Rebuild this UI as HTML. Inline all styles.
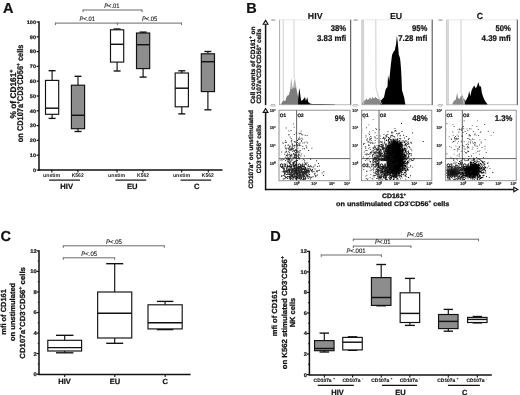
<!DOCTYPE html>
<html><head><meta charset="utf-8"><style>
svg{filter:grayscale(1)}
html,body{margin:0;padding:0;background:#fff;width:520px;height:395px;overflow:hidden;position:relative}
svg text{font-family:"Liberation Sans", sans-serif;text-rendering:geometricPrecision}
</style></head><body>
<svg width="520" height="395" viewBox="0 0 520 395" style="position:absolute;left:0;top:0">
<g font-family='"Liberation Sans", sans-serif'>
<text x="3" y="12.7" font-size="14.5" text-anchor="start" font-weight="bold" fill="#111" stroke="#111" stroke-width="0.22">A</text>
<line x1="39" y1="21.3" x2="39" y2="170.7" stroke="#111" stroke-width="1.5"/>
<line x1="38.3" y1="169.9" x2="222.5" y2="169.9" stroke="#111" stroke-width="1.5"/>
<line x1="36.6" y1="170.0" x2="39" y2="170.0" stroke="#111" stroke-width="1.2"/>
<text x="36" y="171.7" font-size="5.0" text-anchor="end" font-weight="bold" fill="#1a1a1a" stroke="#1a1a1a" stroke-width="0.22" textLength="3.1" lengthAdjust="spacingAndGlyphs">0</text>
<line x1="36.6" y1="155.2" x2="39" y2="155.2" stroke="#111" stroke-width="1.2"/>
<text x="36" y="156.89999999999998" font-size="5.0" text-anchor="end" font-weight="bold" fill="#1a1a1a" stroke="#1a1a1a" stroke-width="0.22" textLength="6.2" lengthAdjust="spacingAndGlyphs">10</text>
<line x1="36.6" y1="140.4" x2="39" y2="140.4" stroke="#111" stroke-width="1.2"/>
<text x="36" y="142.1" font-size="5.0" text-anchor="end" font-weight="bold" fill="#1a1a1a" stroke="#1a1a1a" stroke-width="0.22" textLength="6.2" lengthAdjust="spacingAndGlyphs">20</text>
<line x1="36.6" y1="125.6" x2="39" y2="125.6" stroke="#111" stroke-width="1.2"/>
<text x="36" y="127.3" font-size="5.0" text-anchor="end" font-weight="bold" fill="#1a1a1a" stroke="#1a1a1a" stroke-width="0.22" textLength="6.2" lengthAdjust="spacingAndGlyphs">30</text>
<line x1="36.6" y1="110.8" x2="39" y2="110.8" stroke="#111" stroke-width="1.2"/>
<text x="36" y="112.5" font-size="5.0" text-anchor="end" font-weight="bold" fill="#1a1a1a" stroke="#1a1a1a" stroke-width="0.22" textLength="6.2" lengthAdjust="spacingAndGlyphs">40</text>
<line x1="36.6" y1="96.0" x2="39" y2="96.0" stroke="#111" stroke-width="1.2"/>
<text x="36" y="97.7" font-size="5.0" text-anchor="end" font-weight="bold" fill="#1a1a1a" stroke="#1a1a1a" stroke-width="0.22" textLength="6.2" lengthAdjust="spacingAndGlyphs">50</text>
<line x1="36.6" y1="81.2" x2="39" y2="81.2" stroke="#111" stroke-width="1.2"/>
<text x="36" y="82.9" font-size="5.0" text-anchor="end" font-weight="bold" fill="#1a1a1a" stroke="#1a1a1a" stroke-width="0.22" textLength="6.2" lengthAdjust="spacingAndGlyphs">60</text>
<line x1="36.6" y1="66.4" x2="39" y2="66.4" stroke="#111" stroke-width="1.2"/>
<text x="36" y="68.10000000000001" font-size="5.0" text-anchor="end" font-weight="bold" fill="#1a1a1a" stroke="#1a1a1a" stroke-width="0.22" textLength="6.2" lengthAdjust="spacingAndGlyphs">70</text>
<line x1="36.6" y1="51.599999999999994" x2="39" y2="51.599999999999994" stroke="#111" stroke-width="1.2"/>
<text x="36" y="53.3" font-size="5.0" text-anchor="end" font-weight="bold" fill="#1a1a1a" stroke="#1a1a1a" stroke-width="0.22" textLength="6.2" lengthAdjust="spacingAndGlyphs">80</text>
<line x1="36.6" y1="36.80000000000001" x2="39" y2="36.80000000000001" stroke="#111" stroke-width="1.2"/>
<text x="36" y="38.500000000000014" font-size="5.0" text-anchor="end" font-weight="bold" fill="#1a1a1a" stroke="#1a1a1a" stroke-width="0.22" textLength="6.2" lengthAdjust="spacingAndGlyphs">90</text>
<line x1="36.6" y1="22.0" x2="39" y2="22.0" stroke="#111" stroke-width="1.2"/>
<text x="36" y="23.7" font-size="5.0" text-anchor="end" font-weight="bold" fill="#1a1a1a" stroke="#1a1a1a" stroke-width="0.22" textLength="9.2" lengthAdjust="spacingAndGlyphs">100</text>
<line x1="51.8" y1="169.9" x2="51.8" y2="172.4" stroke="#111" stroke-width="1.1"/>
<line x1="77.9" y1="169.9" x2="77.9" y2="172.4" stroke="#111" stroke-width="1.1"/>
<line x1="117" y1="169.9" x2="117" y2="172.4" stroke="#111" stroke-width="1.1"/>
<line x1="143" y1="169.9" x2="143" y2="172.4" stroke="#111" stroke-width="1.1"/>
<line x1="181.7" y1="169.9" x2="181.7" y2="172.4" stroke="#111" stroke-width="1.1"/>
<line x1="208.3" y1="169.9" x2="208.3" y2="172.4" stroke="#111" stroke-width="1.1"/>
<line x1="52.1" y1="70.7" x2="52.1" y2="80.4" stroke="#111" stroke-width="1.15"/>
<line x1="52.1" y1="114.3" x2="52.1" y2="118.4" stroke="#111" stroke-width="1.15"/>
<line x1="48.6" y1="70.7" x2="55.6" y2="70.7" stroke="#111" stroke-width="1.3499999999999999"/>
<line x1="48.6" y1="118.4" x2="55.6" y2="118.4" stroke="#111" stroke-width="1.3499999999999999"/>
<rect x="45.5" y="80.4" width="13.2" height="33.89999999999999" fill="#fff" stroke="#111" stroke-width="1.15"/>
<line x1="45.5" y1="108.2" x2="58.7" y2="108.2" stroke="#111" stroke-width="1.45"/>
<line x1="78" y1="76.3" x2="78" y2="85.2" stroke="#111" stroke-width="1.15"/>
<line x1="78" y1="128.7" x2="78" y2="131.5" stroke="#111" stroke-width="1.15"/>
<line x1="74.5" y1="76.3" x2="81.5" y2="76.3" stroke="#111" stroke-width="1.3499999999999999"/>
<line x1="74.5" y1="131.5" x2="81.5" y2="131.5" stroke="#111" stroke-width="1.3499999999999999"/>
<rect x="71.4" y="85.2" width="13.2" height="43.499999999999986" fill="#8d8d8d" stroke="#111" stroke-width="1.15"/>
<line x1="71.4" y1="115.3" x2="84.60000000000001" y2="115.3" stroke="#111" stroke-width="1.45"/>
<line x1="117.1" y1="29.0" x2="117.1" y2="29.8" stroke="#111" stroke-width="1.15"/>
<line x1="117.1" y1="62.1" x2="117.1" y2="71" stroke="#111" stroke-width="1.15"/>
<line x1="113.6" y1="29.0" x2="120.6" y2="29.0" stroke="#111" stroke-width="1.3499999999999999"/>
<line x1="113.6" y1="71" x2="120.6" y2="71" stroke="#111" stroke-width="1.3499999999999999"/>
<rect x="110.5" y="29.8" width="13.2" height="32.3" fill="#fff" stroke="#111" stroke-width="1.15"/>
<line x1="110.5" y1="44.3" x2="123.7" y2="44.3" stroke="#111" stroke-width="1.45"/>
<line x1="143.1" y1="32.1" x2="143.1" y2="33.0" stroke="#111" stroke-width="1.15"/>
<line x1="143.1" y1="68.6" x2="143.1" y2="77.1" stroke="#111" stroke-width="1.15"/>
<line x1="139.6" y1="32.1" x2="146.6" y2="32.1" stroke="#111" stroke-width="1.3499999999999999"/>
<line x1="139.6" y1="77.1" x2="146.6" y2="77.1" stroke="#111" stroke-width="1.3499999999999999"/>
<rect x="136.5" y="33.0" width="13.2" height="35.599999999999994" fill="#8d8d8d" stroke="#111" stroke-width="1.15"/>
<line x1="136.5" y1="44.7" x2="149.7" y2="44.7" stroke="#111" stroke-width="1.45"/>
<line x1="181.8" y1="70.8" x2="181.8" y2="73" stroke="#111" stroke-width="1.15"/>
<line x1="181.8" y1="106.8" x2="181.8" y2="113.9" stroke="#111" stroke-width="1.15"/>
<line x1="178.3" y1="70.8" x2="185.3" y2="70.8" stroke="#111" stroke-width="1.3499999999999999"/>
<line x1="178.3" y1="113.9" x2="185.3" y2="113.9" stroke="#111" stroke-width="1.3499999999999999"/>
<rect x="175.20000000000002" y="73" width="13.2" height="33.8" fill="#fff" stroke="#111" stroke-width="1.15"/>
<line x1="175.20000000000002" y1="88.2" x2="188.4" y2="88.2" stroke="#111" stroke-width="1.45"/>
<line x1="207.9" y1="51.5" x2="207.9" y2="53.8" stroke="#111" stroke-width="1.15"/>
<line x1="207.9" y1="91.6" x2="207.9" y2="109.8" stroke="#111" stroke-width="1.15"/>
<line x1="204.4" y1="51.5" x2="211.4" y2="51.5" stroke="#111" stroke-width="1.3499999999999999"/>
<line x1="204.4" y1="109.8" x2="211.4" y2="109.8" stroke="#111" stroke-width="1.3499999999999999"/>
<rect x="201.3" y="53.8" width="13.2" height="37.8" fill="#8d8d8d" stroke="#111" stroke-width="1.15"/>
<line x1="201.3" y1="61.7" x2="214.5" y2="61.7" stroke="#111" stroke-width="1.45"/>
<text x="51.6" y="177.2" font-size="5.3" text-anchor="middle" font-weight="bold" fill="#1a1a1a" textLength="17.2" lengthAdjust="spacingAndGlyphs">unstim</text>
<text x="77.7" y="177.2" font-size="5.3" text-anchor="middle" font-weight="bold" fill="#1a1a1a" textLength="12" lengthAdjust="spacingAndGlyphs">K562</text>
<text x="116.6" y="177.2" font-size="5.3" text-anchor="middle" font-weight="bold" fill="#1a1a1a" textLength="17.2" lengthAdjust="spacingAndGlyphs">unstim</text>
<text x="143.1" y="177.2" font-size="5.3" text-anchor="middle" font-weight="bold" fill="#1a1a1a" textLength="12" lengthAdjust="spacingAndGlyphs">K562</text>
<text x="181.5" y="177.2" font-size="5.3" text-anchor="middle" font-weight="bold" fill="#1a1a1a" textLength="17.2" lengthAdjust="spacingAndGlyphs">unstim</text>
<text x="207.8" y="177.2" font-size="5.3" text-anchor="middle" font-weight="bold" fill="#1a1a1a" textLength="12" lengthAdjust="spacingAndGlyphs">K562</text>
<line x1="49.1" y1="180.1" x2="80" y2="180.1" stroke="#111" stroke-width="1.2"/>
<text x="66.7" y="188.9" font-size="7.6" text-anchor="middle" font-weight="bold" fill="#111" stroke="#111" stroke-width="0.22">HIV</text>
<line x1="115.4" y1="180.1" x2="146.2" y2="180.1" stroke="#111" stroke-width="1.2"/>
<text x="132.3" y="188.9" font-size="7.6" text-anchor="middle" font-weight="bold" fill="#111" stroke="#111" stroke-width="0.22">EU</text>
<line x1="180.5" y1="180.1" x2="211.2" y2="180.1" stroke="#111" stroke-width="1.2"/>
<text x="196.8" y="188.9" font-size="7.6" text-anchor="middle" font-weight="bold" fill="#111" stroke="#111" stroke-width="0.22">C</text>
<line x1="83" y1="10" x2="142" y2="10" stroke="#6a6a6a" stroke-width="1.0"/>
<line x1="83" y1="9.5" x2="83" y2="12" stroke="#6a6a6a" stroke-width="1.0"/>
<line x1="142" y1="9.5" x2="142" y2="12" stroke="#6a6a6a" stroke-width="1.0"/>
<text x="111.9" y="7.8" font-size="6.4" text-anchor="middle" fill="#1a1a1a" stroke="#1a1a1a" stroke-width="0.12" textLength="15.4" lengthAdjust="spacingAndGlyphs"><tspan font-style="italic">P</tspan>&lt;.01</text>
<line x1="55.4" y1="23.1" x2="181.5" y2="23.1" stroke="#6a6a6a" stroke-width="1.0"/>
<line x1="55.4" y1="22.6" x2="55.4" y2="25.1" stroke="#6a6a6a" stroke-width="1.0"/>
<line x1="117.3" y1="22.6" x2="117.3" y2="25.1" stroke="#6a6a6a" stroke-width="1.0"/>
<line x1="181.5" y1="22.6" x2="181.5" y2="25.1" stroke="#6a6a6a" stroke-width="1.0"/>
<text x="87.3" y="20.9" font-size="6.4" text-anchor="middle" fill="#1a1a1a" stroke="#1a1a1a" stroke-width="0.12" textLength="15.4" lengthAdjust="spacingAndGlyphs"><tspan font-style="italic">P</tspan>&lt;.01</text>
<text x="149.6" y="20.9" font-size="6.4" text-anchor="middle" fill="#1a1a1a" stroke="#1a1a1a" stroke-width="0.12" textLength="15.4" lengthAdjust="spacingAndGlyphs"><tspan font-style="italic">P</tspan>&lt;.05</text>
<text transform="translate(16.3,94) rotate(-90)" x="0" y="0" font-size="8.3" font-weight="bold" text-anchor="middle" fill="#111" stroke="#111" stroke-width="0.25" textLength="48.9" lengthAdjust="spacingAndGlyphs">% of CD161<tspan dy="-3" font-size="5.4">+</tspan><tspan dy="3"></tspan></text>
<text transform="translate(22.9,93.4) rotate(-90)" x="0" y="0" font-size="8.3" font-weight="bold" text-anchor="middle" fill="#111" stroke="#111" stroke-width="0.25" textLength="97.6" lengthAdjust="spacingAndGlyphs">on CD107a<tspan dy="-3" font-size="5.4">+</tspan><tspan dy="3">CD3</tspan><tspan dy="-3" font-size="5.4">-</tspan><tspan dy="3">CD56</tspan><tspan dy="-3" font-size="5.4">+</tspan><tspan dy="3"> cells</tspan></text>
<text x="246.3" y="12.7" font-size="14.5" text-anchor="start" font-weight="bold" fill="#111" stroke="#111" stroke-width="0.22">B</text>
<line x1="265.6" y1="24.2" x2="265.6" y2="105.2" stroke="#111" stroke-width="1.5"/>
<path d="M265.6 20.4 L268.0 24.299999999999997 L263.20000000000005 24.299999999999997 Z" fill="#fff" stroke="#111" stroke-width="1.1"/>
<line x1="265.6" y1="112.3" x2="265.6" y2="190.2" stroke="#111" stroke-width="1.5"/>
<path d="M265.6 108.5 L268.0 112.39999999999999 L263.20000000000005 112.39999999999999 Z" fill="#fff" stroke="#111" stroke-width="1.1"/>
<line x1="264.9" y1="189.5" x2="513.8" y2="189.5" stroke="#111" stroke-width="1.5"/>
<path d="M517.8 189.5 L513.8 187.2 L513.8 191.8 Z" fill="#fff" stroke="#111" stroke-width="1.1"/>
<line x1="279.6" y1="19.8" x2="350.7" y2="19.8" stroke="#e2e2e2" stroke-width="0.8"/>
<line x1="279.6" y1="19.7" x2="279.6" y2="105.2" stroke="#a0a0a0" stroke-width="0.9"/>
<line x1="350.7" y1="19.7" x2="350.7" y2="105.2" stroke="#444" stroke-width="1.0"/>
<line x1="279.6" y1="104.7" x2="350.7" y2="104.7" stroke="#aaa" stroke-width="0.8"/>
<ellipse cx="273.20000000000005" cy="20.1" rx="2.6" ry="0.8" fill="#aaa"/>
<ellipse cx="273.0" cy="105.3" rx="2.6" ry="0.9" fill="none" stroke="#888" stroke-width="0.6"/>
<line x1="362" y1="19.8" x2="432.2" y2="19.8" stroke="#e2e2e2" stroke-width="0.8"/>
<line x1="362" y1="19.7" x2="362" y2="105.2" stroke="#a0a0a0" stroke-width="0.9"/>
<line x1="432.2" y1="19.7" x2="432.2" y2="105.2" stroke="#444" stroke-width="1.0"/>
<line x1="362" y1="104.7" x2="432.2" y2="104.7" stroke="#aaa" stroke-width="0.8"/>
<ellipse cx="355.6" cy="20.1" rx="2.6" ry="0.8" fill="#aaa"/>
<ellipse cx="355.4" cy="105.3" rx="2.6" ry="0.9" fill="none" stroke="#888" stroke-width="0.6"/>
<line x1="446.9" y1="19.8" x2="517.3" y2="19.8" stroke="#e2e2e2" stroke-width="0.8"/>
<line x1="446.9" y1="19.7" x2="446.9" y2="105.2" stroke="#a0a0a0" stroke-width="0.9"/>
<line x1="517.3" y1="19.7" x2="517.3" y2="105.2" stroke="#444" stroke-width="1.0"/>
<line x1="446.9" y1="104.7" x2="517.3" y2="104.7" stroke="#aaa" stroke-width="0.8"/>
<ellipse cx="440.5" cy="20.1" rx="2.6" ry="0.8" fill="#aaa"/>
<ellipse cx="440.29999999999995" cy="105.3" rx="2.6" ry="0.9" fill="none" stroke="#888" stroke-width="0.6"/>
<text x="315.2" y="18.5" font-size="8.8" text-anchor="middle" font-weight="bold" fill="#111" stroke="#111" stroke-width="0.12">HIV</text>
<text x="396.1" y="18.5" font-size="8.8" text-anchor="middle" font-weight="bold" fill="#111" stroke="#111" stroke-width="0.12">EU</text>
<text x="480" y="18.5" font-size="8.8" text-anchor="middle" font-weight="bold" fill="#111" stroke="#111" stroke-width="0.12">C</text>
<text x="346.2" y="31.4" font-size="8.3" text-anchor="end" font-weight="bold" fill="#111" stroke="#111" stroke-width="0.22" textLength="15.4" lengthAdjust="spacingAndGlyphs">38%</text>
<text x="346.2" y="41" font-size="8.3" text-anchor="end" font-weight="bold" fill="#111" stroke="#111" stroke-width="0.22" textLength="29.2" lengthAdjust="spacingAndGlyphs">3.83 mfi</text>
<text x="427.4" y="31.4" font-size="8.3" text-anchor="end" font-weight="bold" fill="#111" stroke="#111" stroke-width="0.22" textLength="15.4" lengthAdjust="spacingAndGlyphs">95%</text>
<text x="427.4" y="41" font-size="8.3" text-anchor="end" font-weight="bold" fill="#111" stroke="#111" stroke-width="0.22" textLength="29.2" lengthAdjust="spacingAndGlyphs">7.28 mfi</text>
<text x="510.8" y="31.4" font-size="8.3" text-anchor="end" font-weight="bold" fill="#111" stroke="#111" stroke-width="0.22" textLength="15.4" lengthAdjust="spacingAndGlyphs">50%</text>
<text x="510.8" y="41" font-size="8.3" text-anchor="end" font-weight="bold" fill="#111" stroke="#111" stroke-width="0.22" textLength="29.2" lengthAdjust="spacingAndGlyphs">4.39 mfi</text>
<path d="M289.5 104.4 L289.5 95 L290.5 85 L291.3 77.5 L292.2 86 L293 88 L294 82 L294.9 77.5 L295.8 84 L296.8 90 L297.5 95 L297.5 104.4 Z" fill="#b0b0b0"/>
<path d="M281.3 104.4 L281.3 103.5 L282.5 101.5 L283.5 100.3 L284.5 101 L285.5 100.5 L286.5 97 L287.5 95.5 L289 95 L290 91 L291 88.5 L292 90 L293 88 L294.5 88.5 L295.5 87 L296.5 90 L297.5 95 L298.4 97 L298.4 104.4 Z" fill="#7c7c7c"/>
<path d="M298.1 104.4 L298.1 100 L298.7 93 L299.4 88 L300.2 94 L300.8 99 L301.5 101 L302.7 100 L304 98.5 L305 96.9 L305.9 101 L307.3 97.3 L308.2 101.9 L310 103.6 L312 104 L320 104.1 L335 104.2 L335 104.4 Z" fill="#000"/>
<path d="M283.2 19.9 L283.3 100" fill="none" stroke="#c8c8c8" stroke-width="0.9"/>
<path d="M294 19.9 L294.1 78" fill="none" stroke="#cdcdcd" stroke-width="0.9"/>
<path d="M362.3 104.4 L362.3 103 L363.5 101 L365 100.5 L366.5 98.5 L367.5 100 L369 99 L370 97 L371 99.5 L372.5 97 L374 98.8 L375.5 96.8 L377 98.5 L378.5 99 L380 99.5 L381 100 L381 104.4 Z" fill="#888"/>
<path d="M380.5 104.4 L380.5 101 L381.5 100 L384 97.3 L385.7 89.2 L387.5 86.8 L388 75.2 L389.2 81 L390.3 70 L390.8 64.9 L392 55.2 L393.1 52.4 L394.8 50 L396 44.4 L396.9 35.8 L397.7 42.1 L398.8 54.6 L400 58 L400.5 62.6 L401.1 70 L401.5 78 L402 90.3 L403.8 96.2 L404.4 98.5 L405 103.1 L405.5 104.2 L405.5 104.4 Z" fill="#000"/>
<path d="M363.6 19.9 L363.7 104" fill="none" stroke="#c8c8c8" stroke-width="0.9"/>
<path d="M375.8 19.9 L376 88 L378.5 97 L381.5 104" fill="none" stroke="#cacaca" stroke-width="0.9"/>
<path d="M452.6 104.4 L452.6 103.3 L454 100.7 L455.7 99.8 L456.5 96 L457.1 92.7 L458 98 L459.7 98.9 L460.6 96.5 L461.5 95.4 L462.8 95.6 L463.7 99 L464.6 98.9 L465.2 100 L465.2 104.4 Z" fill="#888"/>
<path d="M465 104.4 L465 101.5 L466.4 99.6 L468.1 96.2 L469.2 90.9 L470.3 96.2 L471.7 90 L473 87.4 L474.3 85.6 L475.6 88.3 L477 86.5 L478.3 82.1 L479.6 86.5 L481 86.5 L481.8 92.7 L483.2 97.1 L484.9 100.7 L486.7 103.3 L487.6 104.2 L487.6 104.4 Z" fill="#000"/>
<path d="M448.3 19.9 L448.4 104" fill="none" stroke="#c8c8c8" stroke-width="0.9"/>
<path d="M461 19.9 L461.1 92.8 L462.5 98 L464 104" fill="none" stroke="#c8c8c8" stroke-width="0.9"/>
<defs><filter id="bl" x="-50%" y="-50%" width="200%" height="200%"><feGaussianBlur stdDeviation="1.6"/></filter></defs>
<rect x="279" y="110.2" width="71" height="70.49999999999999" fill="none" stroke="#888" stroke-width="0.9"/>
<line x1="279" y1="175.4" x2="280.2" y2="175.4" stroke="#bbb" stroke-width="0.5"/>
<line x1="279" y1="172.3" x2="280.2" y2="172.3" stroke="#bbb" stroke-width="0.5"/>
<line x1="279" y1="170.1" x2="280.2" y2="170.1" stroke="#bbb" stroke-width="0.5"/>
<line x1="279" y1="168.4" x2="280.2" y2="168.4" stroke="#bbb" stroke-width="0.5"/>
<line x1="279" y1="167.0" x2="280.2" y2="167.0" stroke="#bbb" stroke-width="0.5"/>
<line x1="279" y1="165.8" x2="280.2" y2="165.8" stroke="#bbb" stroke-width="0.5"/>
<line x1="279" y1="164.8" x2="280.2" y2="164.8" stroke="#bbb" stroke-width="0.5"/>
<line x1="279" y1="163.9" x2="280.2" y2="163.9" stroke="#bbb" stroke-width="0.5"/>
<line x1="279" y1="157.8" x2="280.2" y2="157.8" stroke="#bbb" stroke-width="0.5"/>
<line x1="279" y1="154.7" x2="280.2" y2="154.7" stroke="#bbb" stroke-width="0.5"/>
<line x1="279" y1="152.5" x2="280.2" y2="152.5" stroke="#bbb" stroke-width="0.5"/>
<line x1="279" y1="150.8" x2="280.2" y2="150.8" stroke="#bbb" stroke-width="0.5"/>
<line x1="279" y1="149.4" x2="280.2" y2="149.4" stroke="#bbb" stroke-width="0.5"/>
<line x1="279" y1="148.2" x2="280.2" y2="148.2" stroke="#bbb" stroke-width="0.5"/>
<line x1="279" y1="147.2" x2="280.2" y2="147.2" stroke="#bbb" stroke-width="0.5"/>
<line x1="279" y1="146.3" x2="280.2" y2="146.3" stroke="#bbb" stroke-width="0.5"/>
<line x1="279" y1="140.2" x2="280.2" y2="140.2" stroke="#bbb" stroke-width="0.5"/>
<line x1="279" y1="137.1" x2="280.2" y2="137.1" stroke="#bbb" stroke-width="0.5"/>
<line x1="279" y1="134.9" x2="280.2" y2="134.9" stroke="#bbb" stroke-width="0.5"/>
<line x1="279" y1="133.2" x2="280.2" y2="133.2" stroke="#bbb" stroke-width="0.5"/>
<line x1="279" y1="131.8" x2="280.2" y2="131.8" stroke="#bbb" stroke-width="0.5"/>
<line x1="279" y1="130.6" x2="280.2" y2="130.6" stroke="#bbb" stroke-width="0.5"/>
<line x1="279" y1="129.6" x2="280.2" y2="129.6" stroke="#bbb" stroke-width="0.5"/>
<line x1="279" y1="128.7" x2="280.2" y2="128.7" stroke="#bbb" stroke-width="0.5"/>
<line x1="279" y1="122.6" x2="280.2" y2="122.6" stroke="#bbb" stroke-width="0.5"/>
<line x1="279" y1="119.5" x2="280.2" y2="119.5" stroke="#bbb" stroke-width="0.5"/>
<line x1="279" y1="117.3" x2="280.2" y2="117.3" stroke="#bbb" stroke-width="0.5"/>
<line x1="279" y1="115.6" x2="280.2" y2="115.6" stroke="#bbb" stroke-width="0.5"/>
<line x1="279" y1="114.2" x2="280.2" y2="114.2" stroke="#bbb" stroke-width="0.5"/>
<line x1="279" y1="113.0" x2="280.2" y2="113.0" stroke="#bbb" stroke-width="0.5"/>
<line x1="279" y1="112.0" x2="280.2" y2="112.0" stroke="#bbb" stroke-width="0.5"/>
<line x1="279" y1="111.1" x2="280.2" y2="111.1" stroke="#bbb" stroke-width="0.5"/>
<line x1="296.6" y1="110.2" x2="296.6" y2="180.7" stroke="#555" stroke-width="0.9"/>
<line x1="279" y1="158.6" x2="350" y2="158.6" stroke="#555" stroke-width="0.9"/>
<rect x="361.5" y="110.2" width="70.30000000000001" height="70.49999999999999" fill="none" stroke="#888" stroke-width="0.9"/>
<line x1="361.5" y1="175.4" x2="362.7" y2="175.4" stroke="#bbb" stroke-width="0.5"/>
<line x1="361.5" y1="172.3" x2="362.7" y2="172.3" stroke="#bbb" stroke-width="0.5"/>
<line x1="361.5" y1="170.1" x2="362.7" y2="170.1" stroke="#bbb" stroke-width="0.5"/>
<line x1="361.5" y1="168.4" x2="362.7" y2="168.4" stroke="#bbb" stroke-width="0.5"/>
<line x1="361.5" y1="167.0" x2="362.7" y2="167.0" stroke="#bbb" stroke-width="0.5"/>
<line x1="361.5" y1="165.8" x2="362.7" y2="165.8" stroke="#bbb" stroke-width="0.5"/>
<line x1="361.5" y1="164.8" x2="362.7" y2="164.8" stroke="#bbb" stroke-width="0.5"/>
<line x1="361.5" y1="163.9" x2="362.7" y2="163.9" stroke="#bbb" stroke-width="0.5"/>
<line x1="361.5" y1="157.8" x2="362.7" y2="157.8" stroke="#bbb" stroke-width="0.5"/>
<line x1="361.5" y1="154.7" x2="362.7" y2="154.7" stroke="#bbb" stroke-width="0.5"/>
<line x1="361.5" y1="152.5" x2="362.7" y2="152.5" stroke="#bbb" stroke-width="0.5"/>
<line x1="361.5" y1="150.8" x2="362.7" y2="150.8" stroke="#bbb" stroke-width="0.5"/>
<line x1="361.5" y1="149.4" x2="362.7" y2="149.4" stroke="#bbb" stroke-width="0.5"/>
<line x1="361.5" y1="148.2" x2="362.7" y2="148.2" stroke="#bbb" stroke-width="0.5"/>
<line x1="361.5" y1="147.2" x2="362.7" y2="147.2" stroke="#bbb" stroke-width="0.5"/>
<line x1="361.5" y1="146.3" x2="362.7" y2="146.3" stroke="#bbb" stroke-width="0.5"/>
<line x1="361.5" y1="140.2" x2="362.7" y2="140.2" stroke="#bbb" stroke-width="0.5"/>
<line x1="361.5" y1="137.1" x2="362.7" y2="137.1" stroke="#bbb" stroke-width="0.5"/>
<line x1="361.5" y1="134.9" x2="362.7" y2="134.9" stroke="#bbb" stroke-width="0.5"/>
<line x1="361.5" y1="133.2" x2="362.7" y2="133.2" stroke="#bbb" stroke-width="0.5"/>
<line x1="361.5" y1="131.8" x2="362.7" y2="131.8" stroke="#bbb" stroke-width="0.5"/>
<line x1="361.5" y1="130.6" x2="362.7" y2="130.6" stroke="#bbb" stroke-width="0.5"/>
<line x1="361.5" y1="129.6" x2="362.7" y2="129.6" stroke="#bbb" stroke-width="0.5"/>
<line x1="361.5" y1="128.7" x2="362.7" y2="128.7" stroke="#bbb" stroke-width="0.5"/>
<line x1="361.5" y1="122.6" x2="362.7" y2="122.6" stroke="#bbb" stroke-width="0.5"/>
<line x1="361.5" y1="119.5" x2="362.7" y2="119.5" stroke="#bbb" stroke-width="0.5"/>
<line x1="361.5" y1="117.3" x2="362.7" y2="117.3" stroke="#bbb" stroke-width="0.5"/>
<line x1="361.5" y1="115.6" x2="362.7" y2="115.6" stroke="#bbb" stroke-width="0.5"/>
<line x1="361.5" y1="114.2" x2="362.7" y2="114.2" stroke="#bbb" stroke-width="0.5"/>
<line x1="361.5" y1="113.0" x2="362.7" y2="113.0" stroke="#bbb" stroke-width="0.5"/>
<line x1="361.5" y1="112.0" x2="362.7" y2="112.0" stroke="#bbb" stroke-width="0.5"/>
<line x1="361.5" y1="111.1" x2="362.7" y2="111.1" stroke="#bbb" stroke-width="0.5"/>
<line x1="379" y1="110.2" x2="379" y2="180.7" stroke="#555" stroke-width="0.9"/>
<line x1="361.5" y1="158.6" x2="431.8" y2="158.6" stroke="#555" stroke-width="0.9"/>
<rect x="445.6" y="110.2" width="70.60000000000002" height="70.49999999999999" fill="none" stroke="#888" stroke-width="0.9"/>
<line x1="445.6" y1="175.4" x2="446.8" y2="175.4" stroke="#bbb" stroke-width="0.5"/>
<line x1="445.6" y1="172.3" x2="446.8" y2="172.3" stroke="#bbb" stroke-width="0.5"/>
<line x1="445.6" y1="170.1" x2="446.8" y2="170.1" stroke="#bbb" stroke-width="0.5"/>
<line x1="445.6" y1="168.4" x2="446.8" y2="168.4" stroke="#bbb" stroke-width="0.5"/>
<line x1="445.6" y1="167.0" x2="446.8" y2="167.0" stroke="#bbb" stroke-width="0.5"/>
<line x1="445.6" y1="165.8" x2="446.8" y2="165.8" stroke="#bbb" stroke-width="0.5"/>
<line x1="445.6" y1="164.8" x2="446.8" y2="164.8" stroke="#bbb" stroke-width="0.5"/>
<line x1="445.6" y1="163.9" x2="446.8" y2="163.9" stroke="#bbb" stroke-width="0.5"/>
<line x1="445.6" y1="157.8" x2="446.8" y2="157.8" stroke="#bbb" stroke-width="0.5"/>
<line x1="445.6" y1="154.7" x2="446.8" y2="154.7" stroke="#bbb" stroke-width="0.5"/>
<line x1="445.6" y1="152.5" x2="446.8" y2="152.5" stroke="#bbb" stroke-width="0.5"/>
<line x1="445.6" y1="150.8" x2="446.8" y2="150.8" stroke="#bbb" stroke-width="0.5"/>
<line x1="445.6" y1="149.4" x2="446.8" y2="149.4" stroke="#bbb" stroke-width="0.5"/>
<line x1="445.6" y1="148.2" x2="446.8" y2="148.2" stroke="#bbb" stroke-width="0.5"/>
<line x1="445.6" y1="147.2" x2="446.8" y2="147.2" stroke="#bbb" stroke-width="0.5"/>
<line x1="445.6" y1="146.3" x2="446.8" y2="146.3" stroke="#bbb" stroke-width="0.5"/>
<line x1="445.6" y1="140.2" x2="446.8" y2="140.2" stroke="#bbb" stroke-width="0.5"/>
<line x1="445.6" y1="137.1" x2="446.8" y2="137.1" stroke="#bbb" stroke-width="0.5"/>
<line x1="445.6" y1="134.9" x2="446.8" y2="134.9" stroke="#bbb" stroke-width="0.5"/>
<line x1="445.6" y1="133.2" x2="446.8" y2="133.2" stroke="#bbb" stroke-width="0.5"/>
<line x1="445.6" y1="131.8" x2="446.8" y2="131.8" stroke="#bbb" stroke-width="0.5"/>
<line x1="445.6" y1="130.6" x2="446.8" y2="130.6" stroke="#bbb" stroke-width="0.5"/>
<line x1="445.6" y1="129.6" x2="446.8" y2="129.6" stroke="#bbb" stroke-width="0.5"/>
<line x1="445.6" y1="128.7" x2="446.8" y2="128.7" stroke="#bbb" stroke-width="0.5"/>
<line x1="445.6" y1="122.6" x2="446.8" y2="122.6" stroke="#bbb" stroke-width="0.5"/>
<line x1="445.6" y1="119.5" x2="446.8" y2="119.5" stroke="#bbb" stroke-width="0.5"/>
<line x1="445.6" y1="117.3" x2="446.8" y2="117.3" stroke="#bbb" stroke-width="0.5"/>
<line x1="445.6" y1="115.6" x2="446.8" y2="115.6" stroke="#bbb" stroke-width="0.5"/>
<line x1="445.6" y1="114.2" x2="446.8" y2="114.2" stroke="#bbb" stroke-width="0.5"/>
<line x1="445.6" y1="113.0" x2="446.8" y2="113.0" stroke="#bbb" stroke-width="0.5"/>
<line x1="445.6" y1="112.0" x2="446.8" y2="112.0" stroke="#bbb" stroke-width="0.5"/>
<line x1="445.6" y1="111.1" x2="446.8" y2="111.1" stroke="#bbb" stroke-width="0.5"/>
<line x1="462.3" y1="110.2" x2="462.3" y2="180.7" stroke="#555" stroke-width="0.9"/>
<line x1="445.6" y1="158.6" x2="516.2" y2="158.6" stroke="#555" stroke-width="0.9"/>
<path d="M287.2 173.4h1.0v1.0h-1.0zM305.0 168.9h1.0v1.0h-1.0zM286.4 171.2h1.0v1.0h-1.0zM300.8 177.0h1.0v1.0h-1.0zM287.3 165.0h1.0v1.0h-1.0zM302.6 173.9h1.0v1.0h-1.0zM309.3 176.4h1.0v1.0h-1.0zM296.2 170.1h1.0v1.0h-1.0zM317.6 170.1h1.0v1.0h-1.0zM290.7 165.8h1.0v1.0h-1.0zM297.8 172.2h1.0v1.0h-1.0zM294.2 171.2h1.0v1.0h-1.0zM299.2 175.0h1.0v1.0h-1.0zM305.8 172.5h1.0v1.0h-1.0zM282.7 175.0h1.0v1.0h-1.0zM285.6 170.6h1.0v1.0h-1.0zM285.2 171.5h1.0v1.0h-1.0zM290.8 172.6h1.0v1.0h-1.0zM323.4 171.3h1.0v1.0h-1.0zM303.7 164.9h1.0v1.0h-1.0zM294.7 174.8h1.0v1.0h-1.0zM296.3 173.4h1.0v1.0h-1.0zM297.8 166.5h1.0v1.0h-1.0zM301.5 167.4h1.0v1.0h-1.0zM312.0 169.0h1.0v1.0h-1.0zM302.5 171.5h1.0v1.0h-1.0zM304.6 168.5h1.0v1.0h-1.0zM305.0 170.9h1.0v1.0h-1.0zM307.1 174.6h1.0v1.0h-1.0zM298.1 167.6h1.0v1.0h-1.0zM303.1 173.8h1.0v1.0h-1.0zM310.1 169.6h1.0v1.0h-1.0zM301.4 174.0h1.0v1.0h-1.0zM299.3 172.5h1.0v1.0h-1.0zM298.5 168.5h1.0v1.0h-1.0zM288.9 169.5h1.0v1.0h-1.0zM301.7 179.1h1.0v1.0h-1.0zM304.8 176.8h1.0v1.0h-1.0zM303.2 175.0h1.0v1.0h-1.0zM298.5 175.4h1.0v1.0h-1.0zM311.2 169.9h1.0v1.0h-1.0zM299.0 176.4h1.0v1.0h-1.0zM304.0 165.8h1.0v1.0h-1.0zM298.4 175.3h1.0v1.0h-1.0zM298.0 167.1h1.0v1.0h-1.0zM296.1 173.4h1.0v1.0h-1.0zM305.9 175.0h1.0v1.0h-1.0zM297.5 178.3h1.0v1.0h-1.0zM290.9 175.5h1.0v1.0h-1.0zM305.9 170.0h1.0v1.0h-1.0zM282.7 167.0h1.0v1.0h-1.0zM298.9 174.1h1.0v1.0h-1.0zM309.4 166.5h1.0v1.0h-1.0zM297.0 174.7h1.0v1.0h-1.0zM295.7 159.7h1.0v1.0h-1.0zM305.0 166.9h1.0v1.0h-1.0zM293.7 172.6h1.0v1.0h-1.0zM316.9 174.6h1.0v1.0h-1.0zM291.5 169.1h1.0v1.0h-1.0zM302.8 178.6h1.0v1.0h-1.0zM302.2 173.0h1.0v1.0h-1.0zM282.4 167.9h1.0v1.0h-1.0zM292.1 168.8h1.0v1.0h-1.0zM301.7 169.8h1.0v1.0h-1.0zM303.3 171.9h1.0v1.0h-1.0zM294.3 172.1h1.0v1.0h-1.0zM300.4 175.8h1.0v1.0h-1.0zM293.2 170.3h1.0v1.0h-1.0zM308.6 170.6h1.0v1.0h-1.0zM293.2 165.3h1.0v1.0h-1.0zM298.4 172.5h1.0v1.0h-1.0zM314.5 172.7h1.0v1.0h-1.0zM290.8 159.3h1.0v1.0h-1.0zM308.3 172.4h1.0v1.0h-1.0zM284.1 172.4h1.0v1.0h-1.0zM306.0 174.4h1.0v1.0h-1.0zM295.6 160.8h1.0v1.0h-1.0zM296.0 163.7h1.0v1.0h-1.0zM301.8 160.8h1.0v1.0h-1.0zM289.7 177.6h1.0v1.0h-1.0zM310.2 165.6h1.0v1.0h-1.0zM284.7 175.9h1.0v1.0h-1.0zM303.8 166.6h1.0v1.0h-1.0zM291.4 168.0h1.0v1.0h-1.0zM287.5 168.1h1.0v1.0h-1.0zM307.0 174.9h1.0v1.0h-1.0zM313.5 171.1h1.0v1.0h-1.0zM295.9 166.6h1.0v1.0h-1.0zM296.0 164.9h1.0v1.0h-1.0zM282.8 175.0h1.0v1.0h-1.0zM308.5 175.7h1.0v1.0h-1.0zM307.7 172.8h1.0v1.0h-1.0zM291.3 171.9h1.0v1.0h-1.0zM294.0 165.9h1.0v1.0h-1.0zM283.5 164.1h1.0v1.0h-1.0zM297.0 172.3h1.0v1.0h-1.0zM293.2 178.6h1.0v1.0h-1.0zM298.4 174.4h1.0v1.0h-1.0zM306.7 167.4h1.0v1.0h-1.0zM281.2 175.3h1.0v1.0h-1.0zM291.5 178.1h1.0v1.0h-1.0zM299.7 176.5h1.0v1.0h-1.0zM303.1 161.1h1.0v1.0h-1.0zM302.8 168.1h1.0v1.0h-1.0zM291.0 169.3h1.0v1.0h-1.0zM303.1 175.9h1.0v1.0h-1.0zM305.1 163.2h1.0v1.0h-1.0zM292.3 159.6h1.0v1.0h-1.0zM296.2 174.5h1.0v1.0h-1.0zM290.9 172.7h1.0v1.0h-1.0zM298.9 176.5h1.0v1.0h-1.0zM290.4 167.4h1.0v1.0h-1.0zM305.7 170.9h1.0v1.0h-1.0zM298.8 172.1h1.0v1.0h-1.0zM298.6 170.5h1.0v1.0h-1.0zM294.3 165.2h1.0v1.0h-1.0zM301.3 171.8h1.0v1.0h-1.0zM295.3 171.8h1.0v1.0h-1.0zM299.8 168.3h1.0v1.0h-1.0zM298.6 172.7h1.0v1.0h-1.0zM291.0 167.6h1.0v1.0h-1.0zM289.0 166.2h1.0v1.0h-1.0zM304.1 159.7h1.0v1.0h-1.0zM294.9 168.4h1.0v1.0h-1.0zM292.0 172.0h1.0v1.0h-1.0zM306.0 171.9h1.0v1.0h-1.0zM295.9 168.4h1.0v1.0h-1.0zM296.0 176.1h1.0v1.0h-1.0zM293.8 165.8h1.0v1.0h-1.0zM286.9 166.0h1.0v1.0h-1.0zM285.9 177.0h1.0v1.0h-1.0zM299.8 170.3h1.0v1.0h-1.0zM308.7 168.2h1.0v1.0h-1.0zM303.0 175.5h1.0v1.0h-1.0zM284.6 163.7h1.0v1.0h-1.0zM289.6 176.0h1.0v1.0h-1.0zM307.4 165.4h1.0v1.0h-1.0zM305.4 169.6h1.0v1.0h-1.0zM293.9 168.7h1.0v1.0h-1.0zM294.4 162.4h1.0v1.0h-1.0zM289.0 165.3h1.0v1.0h-1.0zM318.9 169.8h1.0v1.0h-1.0zM283.2 169.5h1.0v1.0h-1.0zM301.6 167.9h1.0v1.0h-1.0zM304.5 174.2h1.0v1.0h-1.0zM284.0 168.8h1.0v1.0h-1.0zM295.1 171.6h1.0v1.0h-1.0zM298.1 169.8h1.0v1.0h-1.0zM298.5 168.6h1.0v1.0h-1.0zM289.8 179.1h1.0v1.0h-1.0zM299.9 173.7h1.0v1.0h-1.0zM284.2 170.7h1.0v1.0h-1.0zM303.6 165.0h1.0v1.0h-1.0zM305.8 169.6h1.0v1.0h-1.0zM300.2 170.8h1.0v1.0h-1.0zM298.7 177.5h1.0v1.0h-1.0zM290.7 166.8h1.0v1.0h-1.0zM302.7 166.2h1.0v1.0h-1.0zM294.0 176.0h1.0v1.0h-1.0zM306.7 162.6h1.0v1.0h-1.0zM306.6 170.3h1.0v1.0h-1.0zM292.2 170.0h1.0v1.0h-1.0zM287.8 170.2h1.0v1.0h-1.0zM295.5 170.8h1.0v1.0h-1.0zM306.5 170.3h1.0v1.0h-1.0zM285.3 176.8h1.0v1.0h-1.0zM288.4 169.3h1.0v1.0h-1.0zM295.9 169.8h1.0v1.0h-1.0zM289.0 170.3h1.0v1.0h-1.0zM314.5 168.5h1.0v1.0h-1.0zM295.9 177.1h1.0v1.0h-1.0zM303.0 175.3h1.0v1.0h-1.0zM303.9 161.7h1.0v1.0h-1.0zM290.1 172.1h1.0v1.0h-1.0zM301.0 178.0h1.0v1.0h-1.0zM300.8 170.3h1.0v1.0h-1.0zM297.3 170.4h1.0v1.0h-1.0zM299.0 174.9h1.0v1.0h-1.0zM294.3 167.4h1.0v1.0h-1.0zM290.2 177.0h1.0v1.0h-1.0zM307.2 176.5h1.0v1.0h-1.0zM303.9 175.7h1.0v1.0h-1.0zM297.0 174.8h1.0v1.0h-1.0zM288.6 170.5h1.0v1.0h-1.0zM291.1 175.1h1.0v1.0h-1.0zM292.4 171.0h1.0v1.0h-1.0zM300.2 178.3h1.0v1.0h-1.0zM290.7 166.8h1.0v1.0h-1.0zM303.5 166.0h1.0v1.0h-1.0zM300.6 168.6h1.0v1.0h-1.0zM296.2 162.4h1.0v1.0h-1.0zM302.7 169.0h1.0v1.0h-1.0zM300.3 169.8h1.0v1.0h-1.0zM296.8 173.8h1.0v1.0h-1.0zM301.1 166.9h1.0v1.0h-1.0zM298.0 169.0h1.0v1.0h-1.0zM287.0 175.9h1.0v1.0h-1.0zM302.3 171.9h1.0v1.0h-1.0zM289.7 161.5h1.0v1.0h-1.0zM300.9 171.0h1.0v1.0h-1.0zM283.5 171.2h1.0v1.0h-1.0zM284.8 171.4h1.0v1.0h-1.0zM298.1 173.3h1.0v1.0h-1.0zM298.7 172.4h1.0v1.0h-1.0zM287.9 169.6h1.0v1.0h-1.0zM292.9 170.3h1.0v1.0h-1.0zM299.2 174.6h1.0v1.0h-1.0zM310.1 158.7h1.0v1.0h-1.0zM300.2 170.5h1.0v1.0h-1.0zM315.2 176.2h1.0v1.0h-1.0zM283.8 173.5h1.0v1.0h-1.0zM292.8 176.5h1.0v1.0h-1.0zM288.6 171.0h1.0v1.0h-1.0zM295.9 171.0h1.0v1.0h-1.0zM292.3 162.3h1.0v1.0h-1.0zM300.7 176.5h1.0v1.0h-1.0zM296.5 166.4h1.0v1.0h-1.0zM298.6 174.3h1.0v1.0h-1.0zM295.6 171.4h1.0v1.0h-1.0zM308.3 165.9h1.0v1.0h-1.0zM292.5 162.0h1.0v1.0h-1.0zM291.4 167.8h1.0v1.0h-1.0zM289.3 168.0h1.0v1.0h-1.0zM311.4 170.5h1.0v1.0h-1.0zM296.5 162.8h1.0v1.0h-1.0zM300.2 166.8h1.0v1.0h-1.0zM310.1 165.3h1.0v1.0h-1.0zM292.4 163.5h1.0v1.0h-1.0zM297.8 166.4h1.0v1.0h-1.0zM296.5 169.6h1.0v1.0h-1.0zM292.1 176.2h1.0v1.0h-1.0zM304.5 171.8h1.0v1.0h-1.0zM289.8 166.1h1.0v1.0h-1.0zM293.3 167.6h1.0v1.0h-1.0zM291.4 166.0h1.0v1.0h-1.0zM289.2 170.5h1.0v1.0h-1.0zM308.5 171.5h1.0v1.0h-1.0zM292.9 163.4h1.0v1.0h-1.0zM298.7 171.4h1.0v1.0h-1.0zM287.2 166.1h1.0v1.0h-1.0zM296.7 176.6h1.0v1.0h-1.0zM302.0 172.5h1.0v1.0h-1.0zM294.4 173.1h1.0v1.0h-1.0zM287.9 169.7h1.0v1.0h-1.0zM307.1 170.2h1.0v1.0h-1.0zM308.4 171.3h1.0v1.0h-1.0zM298.2 169.6h1.0v1.0h-1.0zM286.0 166.6h1.0v1.0h-1.0zM314.7 174.7h1.0v1.0h-1.0zM301.8 176.3h1.0v1.0h-1.0zM301.6 176.6h1.0v1.0h-1.0zM294.9 170.4h1.0v1.0h-1.0zM304.9 169.7h1.0v1.0h-1.0zM286.4 170.4h1.0v1.0h-1.0zM292.6 174.6h1.0v1.0h-1.0zM291.2 166.2h1.0v1.0h-1.0zM296.6 172.3h1.0v1.0h-1.0zM297.1 173.0h1.0v1.0h-1.0zM304.4 178.5h1.0v1.0h-1.0zM283.8 178.3h1.0v1.0h-1.0zM297.0 169.9h1.0v1.0h-1.0zM316.2 170.7h1.0v1.0h-1.0zM312.6 176.3h1.0v1.0h-1.0zM288.8 173.9h1.0v1.0h-1.0zM302.9 170.9h1.0v1.0h-1.0zM295.5 166.0h1.0v1.0h-1.0zM311.6 170.3h1.0v1.0h-1.0zM293.9 170.0h1.0v1.0h-1.0zM290.7 167.6h1.0v1.0h-1.0zM297.8 173.1h1.0v1.0h-1.0zM292.9 171.0h1.0v1.0h-1.0zM285.9 174.1h1.0v1.0h-1.0zM291.0 172.6h1.0v1.0h-1.0zM289.7 168.9h1.0v1.0h-1.0zM298.7 165.4h1.0v1.0h-1.0zM316.8 171.3h1.0v1.0h-1.0zM296.4 167.8h1.0v1.0h-1.0zM309.8 178.4h1.0v1.0h-1.0zM299.4 164.7h1.0v1.0h-1.0zM293.0 174.6h1.0v1.0h-1.0zM292.9 165.6h1.0v1.0h-1.0zM287.5 167.6h1.0v1.0h-1.0zM297.1 168.3h1.0v1.0h-1.0zM311.2 166.3h1.0v1.0h-1.0zM299.7 171.9h1.0v1.0h-1.0zM295.9 176.7h1.0v1.0h-1.0zM294.3 169.9h1.0v1.0h-1.0zM294.0 171.0h1.0v1.0h-1.0zM307.3 175.4h1.0v1.0h-1.0zM286.3 169.3h1.0v1.0h-1.0zM290.6 175.6h1.0v1.0h-1.0zM298.8 175.9h1.0v1.0h-1.0zM296.5 162.0h1.0v1.0h-1.0zM300.6 172.6h1.0v1.0h-1.0zM301.1 165.0h1.0v1.0h-1.0zM297.7 168.1h1.0v1.0h-1.0zM291.5 173.3h1.0v1.0h-1.0zM299.8 167.0h1.0v1.0h-1.0zM283.3 159.1h1.0v1.0h-1.0zM292.4 177.1h1.0v1.0h-1.0zM296.6 160.2h1.0v1.0h-1.0zM290.1 173.6h1.0v1.0h-1.0zM310.4 177.3h1.0v1.0h-1.0zM299.9 172.5h1.0v1.0h-1.0zM288.5 169.2h1.0v1.0h-1.0zM294.3 167.6h1.0v1.0h-1.0zM297.5 169.5h1.0v1.0h-1.0zM299.7 178.7h1.0v1.0h-1.0zM302.9 173.6h1.0v1.0h-1.0zM295.1 163.9h1.0v1.0h-1.0zM296.1 174.2h1.0v1.0h-1.0zM288.9 177.8h1.0v1.0h-1.0zM294.3 173.4h1.0v1.0h-1.0zM294.4 165.2h1.0v1.0h-1.0zM313.5 165.7h1.0v1.0h-1.0zM304.3 168.7h1.0v1.0h-1.0zM299.2 167.5h1.0v1.0h-1.0zM293.7 176.1h1.0v1.0h-1.0zM312.6 167.3h1.0v1.0h-1.0zM297.1 176.2h1.0v1.0h-1.0zM292.0 175.1h1.0v1.0h-1.0zM290.7 174.5h1.0v1.0h-1.0zM300.5 177.6h1.0v1.0h-1.0zM299.9 165.5h1.0v1.0h-1.0zM302.3 166.0h1.0v1.0h-1.0zM303.0 179.1h1.0v1.0h-1.0zM301.8 168.7h1.0v1.0h-1.0zM306.5 172.3h1.0v1.0h-1.0zM287.0 169.7h1.0v1.0h-1.0zM308.4 170.0h1.0v1.0h-1.0zM298.0 169.8h1.0v1.0h-1.0zM283.5 168.9h1.0v1.0h-1.0zM299.9 172.5h1.0v1.0h-1.0zM295.6 160.8h1.0v1.0h-1.0zM306.8 175.1h1.0v1.0h-1.0zM305.2 178.0h1.0v1.0h-1.0zM293.4 168.5h1.0v1.0h-1.0zM283.5 170.4h1.0v1.0h-1.0zM291.3 174.3h1.0v1.0h-1.0zM308.7 170.0h1.0v1.0h-1.0zM287.1 171.7h1.0v1.0h-1.0zM294.7 163.8h1.0v1.0h-1.0zM304.1 168.9h1.0v1.0h-1.0zM302.5 164.9h1.0v1.0h-1.0zM305.8 164.3h1.0v1.0h-1.0zM305.4 162.4h1.0v1.0h-1.0zM308.0 169.6h1.0v1.0h-1.0zM284.6 170.3h1.0v1.0h-1.0zM299.7 166.5h1.0v1.0h-1.0zM293.1 172.8h1.0v1.0h-1.0zM295.6 156.2h1.0v1.0h-1.0zM293.6 173.6h1.0v1.0h-1.0zM299.4 176.5h1.0v1.0h-1.0zM303.4 173.1h1.0v1.0h-1.0zM305.7 176.3h1.0v1.0h-1.0zM297.8 168.4h1.0v1.0h-1.0zM305.2 173.6h1.0v1.0h-1.0zM281.9 166.0h1.0v1.0h-1.0zM300.7 172.0h1.0v1.0h-1.0zM299.2 174.7h1.0v1.0h-1.0zM292.3 169.5h1.0v1.0h-1.0zM299.6 175.2h1.0v1.0h-1.0zM303.3 178.9h1.0v1.0h-1.0zM293.2 177.3h1.0v1.0h-1.0zM300.7 166.3h1.0v1.0h-1.0zM303.3 169.2h1.0v1.0h-1.0zM291.4 171.9h1.0v1.0h-1.0zM315.5 175.2h1.0v1.0h-1.0zM299.5 166.8h1.0v1.0h-1.0zM287.5 170.5h1.0v1.0h-1.0zM293.8 168.4h1.0v1.0h-1.0zM306.0 171.9h1.0v1.0h-1.0zM287.1 177.9h1.0v1.0h-1.0zM294.5 164.9h1.0v1.0h-1.0zM299.6 173.9h1.0v1.0h-1.0zM294.3 175.0h1.0v1.0h-1.0zM303.6 167.1h1.0v1.0h-1.0zM280.5 159.5h1.0v1.0h-1.0zM296.0 177.7h1.0v1.0h-1.0zM305.0 178.5h1.0v1.0h-1.0zM311.8 171.6h1.0v1.0h-1.0zM305.4 163.9h1.0v1.0h-1.0zM302.5 173.5h1.0v1.0h-1.0zM296.2 169.3h1.0v1.0h-1.0zM288.1 172.2h1.0v1.0h-1.0zM307.2 169.7h1.0v1.0h-1.0zM301.2 168.2h1.0v1.0h-1.0zM299.0 166.5h1.0v1.0h-1.0zM300.0 170.4h1.0v1.0h-1.0zM299.5 168.5h1.0v1.0h-1.0zM287.6 169.9h1.0v1.0h-1.0zM294.4 175.5h1.0v1.0h-1.0zM303.1 173.5h1.0v1.0h-1.0zM284.6 173.1h1.0v1.0h-1.0zM289.2 177.4h1.0v1.0h-1.0zM303.3 174.6h1.0v1.0h-1.0zM302.6 165.1h1.0v1.0h-1.0zM304.8 171.9h1.0v1.0h-1.0zM295.5 167.9h1.0v1.0h-1.0zM288.9 169.3h1.0v1.0h-1.0zM321.7 172.5h1.0v1.0h-1.0zM298.7 168.3h1.0v1.0h-1.0zM292.1 168.7h1.0v1.0h-1.0zM289.9 175.9h1.0v1.0h-1.0zM294.8 175.8h1.0v1.0h-1.0zM287.8 176.1h1.0v1.0h-1.0zM296.8 174.8h1.0v1.0h-1.0zM296.2 167.1h1.0v1.0h-1.0zM306.7 169.3h1.0v1.0h-1.0zM295.8 167.1h1.0v1.0h-1.0zM298.6 169.6h1.0v1.0h-1.0zM299.3 173.2h1.0v1.0h-1.0zM291.5 164.4h1.0v1.0h-1.0zM300.5 176.1h1.0v1.0h-1.0zM302.6 165.8h1.0v1.0h-1.0zM301.8 173.4h1.0v1.0h-1.0zM299.3 173.6h1.0v1.0h-1.0zM294.4 172.6h1.0v1.0h-1.0zM304.4 169.0h1.0v1.0h-1.0zM285.5 171.0h1.0v1.0h-1.0zM298.6 162.3h1.0v1.0h-1.0zM291.6 174.4h1.0v1.0h-1.0zM295.8 172.0h1.0v1.0h-1.0zM286.9 176.0h1.0v1.0h-1.0zM311.0 170.5h1.0v1.0h-1.0zM291.1 165.7h1.0v1.0h-1.0zM304.1 172.0h1.0v1.0h-1.0zM290.6 177.6h1.0v1.0h-1.0zM303.1 174.5h1.0v1.0h-1.0zM282.9 171.0h1.0v1.0h-1.0zM302.0 165.4h1.0v1.0h-1.0zM304.4 178.7h1.0v1.0h-1.0zM305.3 167.9h1.0v1.0h-1.0zM291.3 176.2h1.0v1.0h-1.0zM305.0 177.6h1.0v1.0h-1.0zM306.6 171.0h1.0v1.0h-1.0zM293.7 162.2h1.0v1.0h-1.0zM293.3 169.1h1.0v1.0h-1.0zM302.2 173.4h1.0v1.0h-1.0zM286.0 167.9h1.0v1.0h-1.0zM291.3 175.8h1.0v1.0h-1.0zM287.1 169.8h1.0v1.0h-1.0zM291.2 170.0h1.0v1.0h-1.0zM318.0 163.1h1.0v1.0h-1.0zM301.5 165.3h1.0v1.0h-1.0zM307.7 178.0h1.0v1.0h-1.0zM297.6 178.0h1.0v1.0h-1.0zM299.5 168.7h1.0v1.0h-1.0zM294.0 170.9h1.0v1.0h-1.0zM301.9 172.1h1.0v1.0h-1.0zM315.9 170.5h1.0v1.0h-1.0zM293.3 167.9h1.0v1.0h-1.0zM290.8 164.3h1.0v1.0h-1.0zM289.1 176.0h1.0v1.0h-1.0zM297.5 170.6h1.0v1.0h-1.0zM299.8 176.8h1.0v1.0h-1.0zM301.9 175.4h1.0v1.0h-1.0zM292.5 170.2h1.0v1.0h-1.0zM290.8 171.0h1.0v1.0h-1.0zM290.5 169.6h1.0v1.0h-1.0zM295.6 170.4h1.0v1.0h-1.0zM294.9 169.0h1.0v1.0h-1.0zM307.5 169.8h1.0v1.0h-1.0zM288.9 172.5h1.0v1.0h-1.0zM288.3 166.1h1.0v1.0h-1.0zM297.7 163.2h1.0v1.0h-1.0zM305.3 163.1h1.0v1.0h-1.0zM289.8 174.4h1.0v1.0h-1.0zM281.1 167.1h1.0v1.0h-1.0zM287.4 170.5h1.0v1.0h-1.0zM281.2 176.0h1.0v1.0h-1.0zM295.8 173.0h1.0v1.0h-1.0zM294.4 160.9h1.0v1.0h-1.0zM295.8 164.8h1.0v1.0h-1.0zM297.1 167.2h1.0v1.0h-1.0zM294.5 170.4h1.0v1.0h-1.0zM303.2 175.3h1.0v1.0h-1.0zM289.0 171.4h1.0v1.0h-1.0zM308.7 174.0h1.0v1.0h-1.0zM291.2 170.9h1.0v1.0h-1.0zM294.2 176.2h1.0v1.0h-1.0zM297.3 173.4h1.0v1.0h-1.0zM314.7 164.6h1.0v1.0h-1.0zM288.9 162.8h1.0v1.0h-1.0zM284.3 175.8h1.0v1.0h-1.0zM281.2 167.1h1.0v1.0h-1.0zM308.6 176.6h1.0v1.0h-1.0zM304.1 175.9h1.0v1.0h-1.0zM297.3 171.4h1.0v1.0h-1.0zM297.3 175.7h1.0v1.0h-1.0zM295.7 173.1h1.0v1.0h-1.0zM308.6 165.9h1.0v1.0h-1.0zM291.0 174.3h1.0v1.0h-1.0zM294.9 170.7h1.0v1.0h-1.0zM313.8 173.6h1.0v1.0h-1.0zM293.7 177.0h1.0v1.0h-1.0zM317.1 166.0h1.0v1.0h-1.0zM291.6 172.1h1.0v1.0h-1.0zM301.2 169.5h1.0v1.0h-1.0zM300.9 167.5h1.0v1.0h-1.0zM292.2 172.0h1.0v1.0h-1.0zM316.1 160.2h1.0v1.0h-1.0zM300.4 178.3h1.0v1.0h-1.0zM300.6 172.2h1.0v1.0h-1.0zM295.9 167.2h1.0v1.0h-1.0zM310.1 165.6h1.0v1.0h-1.0zM296.0 168.9h1.0v1.0h-1.0zM290.7 160.4h1.0v1.0h-1.0zM293.9 172.2h1.0v1.0h-1.0zM298.1 175.7h1.0v1.0h-1.0zM295.7 168.3h1.0v1.0h-1.0zM299.5 174.8h1.0v1.0h-1.0zM289.8 163.9h1.0v1.0h-1.0zM288.8 176.8h1.0v1.0h-1.0zM305.0 167.1h1.0v1.0h-1.0zM297.9 175.7h1.0v1.0h-1.0zM307.6 168.2h1.0v1.0h-1.0zM295.1 178.5h1.0v1.0h-1.0zM287.9 173.7h1.0v1.0h-1.0zM294.6 171.2h1.0v1.0h-1.0zM291.7 169.1h1.0v1.0h-1.0zM302.6 173.6h1.0v1.0h-1.0zM297.2 167.7h1.0v1.0h-1.0zM295.2 177.7h1.0v1.0h-1.0zM299.1 171.4h1.0v1.0h-1.0zM284.1 173.5h1.0v1.0h-1.0zM292.0 171.5h1.0v1.0h-1.0zM286.2 169.0h1.0v1.0h-1.0zM289.5 177.2h1.0v1.0h-1.0zM299.0 165.6h1.0v1.0h-1.0zM281.6 171.2h1.0v1.0h-1.0zM293.1 165.9h1.0v1.0h-1.0zM301.7 170.6h1.0v1.0h-1.0zM297.9 168.5h1.0v1.0h-1.0zM292.4 169.2h1.0v1.0h-1.0zM284.2 174.6h1.0v1.0h-1.0zM300.2 162.9h1.0v1.0h-1.0zM297.8 177.3h1.0v1.0h-1.0zM298.9 178.0h1.0v1.0h-1.0zM294.9 171.5h1.0v1.0h-1.0zM286.6 167.0h1.0v1.0h-1.0zM282.4 167.0h1.0v1.0h-1.0zM299.0 174.1h1.0v1.0h-1.0zM306.3 172.2h1.0v1.0h-1.0zM289.1 173.7h1.0v1.0h-1.0zM312.7 176.3h1.0v1.0h-1.0zM287.9 168.9h1.0v1.0h-1.0zM298.5 167.9h1.0v1.0h-1.0zM301.2 174.9h1.0v1.0h-1.0zM303.7 172.6h1.0v1.0h-1.0zM289.9 167.3h1.0v1.0h-1.0zM296.0 178.1h1.0v1.0h-1.0zM309.6 176.4h1.0v1.0h-1.0zM299.9 174.9h1.0v1.0h-1.0zM303.6 178.0h1.0v1.0h-1.0zM303.8 163.8h1.0v1.0h-1.0zM304.6 173.4h1.0v1.0h-1.0zM293.3 174.1h1.0v1.0h-1.0zM299.3 171.2h1.0v1.0h-1.0zM283.5 172.1h1.0v1.0h-1.0zM301.5 171.3h1.0v1.0h-1.0zM284.3 173.8h1.0v1.0h-1.0zM302.8 172.4h1.0v1.0h-1.0zM300.4 169.7h1.0v1.0h-1.0zM291.7 174.1h1.0v1.0h-1.0zM294.2 172.4h1.0v1.0h-1.0zM323.0 175.1h1.0v1.0h-1.0zM298.1 163.4h1.0v1.0h-1.0zM297.8 175.3h1.0v1.0h-1.0zM291.4 170.3h1.0v1.0h-1.0zM292.2 174.9h1.0v1.0h-1.0zM307.9 170.7h1.0v1.0h-1.0zM304.9 172.8h1.0v1.0h-1.0zM295.4 170.1h1.0v1.0h-1.0zM290.2 177.9h1.0v1.0h-1.0zM304.0 166.5h1.0v1.0h-1.0zM303.7 167.9h1.0v1.0h-1.0zM285.0 177.5h1.0v1.0h-1.0zM286.8 177.4h1.0v1.0h-1.0zM298.6 176.0h1.0v1.0h-1.0zM301.1 177.3h1.0v1.0h-1.0zM299.8 174.4h1.0v1.0h-1.0zM299.0 177.0h1.0v1.0h-1.0zM293.9 176.6h1.0v1.0h-1.0zM309.1 171.2h1.0v1.0h-1.0zM300.5 168.9h1.0v1.0h-1.0zM294.7 172.8h1.0v1.0h-1.0zM294.3 167.1h1.0v1.0h-1.0zM296.8 172.5h1.0v1.0h-1.0zM299.6 175.1h1.0v1.0h-1.0zM282.8 178.6h1.0v1.0h-1.0zM295.6 167.6h1.0v1.0h-1.0zM294.0 173.7h1.0v1.0h-1.0zM304.0 169.7h1.0v1.0h-1.0zM298.3 163.5h1.0v1.0h-1.0zM298.4 170.9h1.0v1.0h-1.0zM293.6 175.9h1.0v1.0h-1.0zM311.3 176.7h1.0v1.0h-1.0zM294.3 171.3h1.0v1.0h-1.0zM292.4 173.8h1.0v1.0h-1.0zM301.4 172.2h1.0v1.0h-1.0zM295.3 170.8h1.0v1.0h-1.0zM293.8 176.4h1.0v1.0h-1.0zM292.8 170.8h1.0v1.0h-1.0zM295.3 167.8h1.0v1.0h-1.0zM295.2 164.2h1.0v1.0h-1.0zM300.3 174.2h1.0v1.0h-1.0zM290.5 174.3h1.0v1.0h-1.0zM300.8 168.8h1.0v1.0h-1.0zM295.1 175.9h1.0v1.0h-1.0zM297.5 172.9h1.0v1.0h-1.0zM308.2 172.6h1.0v1.0h-1.0zM283.7 167.8h1.0v1.0h-1.0zM303.7 170.9h1.0v1.0h-1.0zM288.4 161.7h1.0v1.0h-1.0zM299.6 179.0h1.0v1.0h-1.0zM287.0 160.7h1.0v1.0h-1.0zM301.0 168.8h1.0v1.0h-1.0zM294.7 169.9h1.0v1.0h-1.0zM289.8 173.7h1.0v1.0h-1.0zM304.3 173.3h1.0v1.0h-1.0zM292.6 176.7h1.0v1.0h-1.0zM296.1 174.4h1.0v1.0h-1.0zM289.6 174.8h1.0v1.0h-1.0zM302.9 177.9h1.0v1.0h-1.0zM297.2 173.7h1.0v1.0h-1.0zM292.4 175.9h1.0v1.0h-1.0zM303.2 176.9h1.0v1.0h-1.0zM293.9 165.4h1.0v1.0h-1.0zM296.5 170.5h1.0v1.0h-1.0zM291.1 174.5h1.0v1.0h-1.0zM304.5 173.5h1.0v1.0h-1.0zM305.8 173.5h1.0v1.0h-1.0zM289.3 168.6h1.0v1.0h-1.0zM294.2 174.9h1.0v1.0h-1.0zM304.3 172.2h1.0v1.0h-1.0zM305.0 167.4h1.0v1.0h-1.0zM296.1 178.9h1.0v1.0h-1.0zM300.5 176.7h1.0v1.0h-1.0zM282.1 163.3h1.0v1.0h-1.0zM290.2 176.5h1.0v1.0h-1.0zM309.9 168.5h1.0v1.0h-1.0zM289.2 166.5h1.0v1.0h-1.0zM290.0 174.3h1.0v1.0h-1.0zM302.7 168.1h1.0v1.0h-1.0zM298.9 170.8h1.0v1.0h-1.0zM303.3 176.0h1.0v1.0h-1.0zM294.3 175.9h1.0v1.0h-1.0zM301.5 171.1h1.0v1.0h-1.0zM299.0 174.9h1.0v1.0h-1.0zM294.5 168.2h1.0v1.0h-1.0zM307.0 171.5h1.0v1.0h-1.0zM292.3 173.8h1.0v1.0h-1.0zM285.4 171.8h1.0v1.0h-1.0zM286.3 169.4h1.0v1.0h-1.0zM283.0 168.0h1.0v1.0h-1.0zM304.1 170.6h1.0v1.0h-1.0zM292.1 178.8h1.0v1.0h-1.0zM292.9 164.3h1.0v1.0h-1.0zM311.5 169.4h1.0v1.0h-1.0zM303.0 177.4h1.0v1.0h-1.0zM286.7 171.9h1.0v1.0h-1.0zM292.5 174.5h1.0v1.0h-1.0zM296.9 165.3h1.0v1.0h-1.0zM297.5 175.3h1.0v1.0h-1.0zM294.7 174.3h1.0v1.0h-1.0zM292.9 171.3h1.0v1.0h-1.0zM299.8 172.2h1.0v1.0h-1.0zM307.0 176.2h1.0v1.0h-1.0zM303.7 175.1h1.0v1.0h-1.0zM298.3 165.8h1.0v1.0h-1.0zM298.8 170.3h1.0v1.0h-1.0zM296.8 177.4h1.0v1.0h-1.0zM299.3 166.7h1.0v1.0h-1.0zM295.7 167.8h1.0v1.0h-1.0zM295.5 167.2h1.0v1.0h-1.0zM290.2 178.8h1.0v1.0h-1.0zM305.3 163.7h1.0v1.0h-1.0zM289.4 169.4h1.0v1.0h-1.0zM294.0 164.8h1.0v1.0h-1.0zM304.0 163.7h1.0v1.0h-1.0zM302.5 174.9h1.0v1.0h-1.0zM294.2 168.3h1.0v1.0h-1.0zM297.5 172.3h1.0v1.0h-1.0zM280.6 165.4h1.0v1.0h-1.0zM301.2 171.0h1.0v1.0h-1.0zM293.8 166.7h1.0v1.0h-1.0zM291.5 167.8h1.0v1.0h-1.0zM318.9 165.4h1.0v1.0h-1.0zM309.1 173.9h1.0v1.0h-1.0zM298.7 172.5h1.0v1.0h-1.0zM301.0 171.4h1.0v1.0h-1.0zM296.1 172.5h1.0v1.0h-1.0zM288.1 170.0h1.0v1.0h-1.0zM292.2 174.6h1.0v1.0h-1.0zM301.8 162.4h1.0v1.0h-1.0zM295.3 176.4h1.0v1.0h-1.0zM286.9 165.8h1.0v1.0h-1.0zM304.9 170.9h1.0v1.0h-1.0zM293.5 165.6h1.0v1.0h-1.0z" fill="#111" fill-opacity="0.9"/>
<path d="M293.0 149.7h1.0v1.0h-1.0zM293.3 157.4h1.0v1.0h-1.0zM296.2 151.5h1.0v1.0h-1.0zM289.0 154.3h1.0v1.0h-1.0zM291.5 155.4h1.0v1.0h-1.0zM288.9 152.2h1.0v1.0h-1.0zM288.6 149.5h1.0v1.0h-1.0zM293.0 163.1h1.0v1.0h-1.0zM288.9 158.6h1.0v1.0h-1.0zM294.1 154.9h1.0v1.0h-1.0zM296.0 149.7h1.0v1.0h-1.0zM295.4 156.4h1.0v1.0h-1.0zM295.6 169.4h1.0v1.0h-1.0zM285.8 154.8h1.0v1.0h-1.0zM294.1 146.5h1.0v1.0h-1.0zM299.1 157.6h1.0v1.0h-1.0zM287.4 144.7h1.0v1.0h-1.0zM289.6 172.6h1.0v1.0h-1.0zM304.7 134.7h1.0v1.0h-1.0zM281.4 159.3h1.0v1.0h-1.0zM291.4 149.1h1.0v1.0h-1.0zM295.6 154.8h1.0v1.0h-1.0zM293.7 156.1h1.0v1.0h-1.0zM285.7 164.4h1.0v1.0h-1.0zM289.3 162.9h1.0v1.0h-1.0zM296.1 154.4h1.0v1.0h-1.0zM292.9 153.7h1.0v1.0h-1.0zM281.2 151.5h1.0v1.0h-1.0zM294.6 141.4h1.0v1.0h-1.0zM283.3 162.5h1.0v1.0h-1.0zM296.8 141.9h1.0v1.0h-1.0zM294.8 153.7h1.0v1.0h-1.0zM297.8 151.5h1.0v1.0h-1.0zM290.7 148.2h1.0v1.0h-1.0zM293.1 153.1h1.0v1.0h-1.0zM288.2 151.3h1.0v1.0h-1.0zM287.6 159.0h1.0v1.0h-1.0zM286.0 141.8h1.0v1.0h-1.0zM286.4 162.6h1.0v1.0h-1.0zM289.0 159.1h1.0v1.0h-1.0zM296.4 150.0h1.0v1.0h-1.0zM296.5 158.0h1.0v1.0h-1.0zM291.8 148.5h1.0v1.0h-1.0zM291.7 144.0h1.0v1.0h-1.0zM290.4 149.5h1.0v1.0h-1.0zM294.6 156.7h1.0v1.0h-1.0zM288.2 160.9h1.0v1.0h-1.0zM299.1 154.6h1.0v1.0h-1.0zM287.7 158.0h1.0v1.0h-1.0zM295.5 169.8h1.0v1.0h-1.0zM287.7 166.1h1.0v1.0h-1.0zM305.8 168.9h1.0v1.0h-1.0zM293.2 162.0h1.0v1.0h-1.0zM291.0 149.2h1.0v1.0h-1.0zM290.7 165.9h1.0v1.0h-1.0zM297.0 151.7h1.0v1.0h-1.0zM294.3 160.9h1.0v1.0h-1.0zM295.4 153.7h1.0v1.0h-1.0zM288.1 148.2h1.0v1.0h-1.0zM289.4 149.7h1.0v1.0h-1.0zM282.7 142.8h1.0v1.0h-1.0zM297.2 145.2h1.0v1.0h-1.0zM284.2 153.7h1.0v1.0h-1.0zM300.6 164.0h1.0v1.0h-1.0zM289.6 145.8h1.0v1.0h-1.0zM288.8 146.8h1.0v1.0h-1.0zM288.8 157.8h1.0v1.0h-1.0zM285.7 147.8h1.0v1.0h-1.0zM290.5 153.8h1.0v1.0h-1.0zM287.5 147.8h1.0v1.0h-1.0zM285.3 148.0h1.0v1.0h-1.0zM295.1 152.1h1.0v1.0h-1.0zM291.6 147.1h1.0v1.0h-1.0zM290.5 130.0h1.0v1.0h-1.0zM282.1 163.3h1.0v1.0h-1.0zM304.7 171.4h1.0v1.0h-1.0zM287.6 154.3h1.0v1.0h-1.0zM296.7 144.2h1.0v1.0h-1.0zM302.4 148.3h1.0v1.0h-1.0zM294.1 144.8h1.0v1.0h-1.0zM294.2 153.9h1.0v1.0h-1.0zM298.5 144.8h1.0v1.0h-1.0zM292.0 168.5h1.0v1.0h-1.0zM284.9 156.8h1.0v1.0h-1.0zM294.6 150.0h1.0v1.0h-1.0zM290.4 165.3h1.0v1.0h-1.0zM298.8 158.5h1.0v1.0h-1.0zM293.6 145.0h1.0v1.0h-1.0zM292.6 168.3h1.0v1.0h-1.0zM298.3 143.2h1.0v1.0h-1.0zM293.0 149.6h1.0v1.0h-1.0zM290.2 156.7h1.0v1.0h-1.0zM297.4 155.7h1.0v1.0h-1.0zM299.5 142.6h1.0v1.0h-1.0zM294.8 157.4h1.0v1.0h-1.0zM283.1 164.0h1.0v1.0h-1.0zM282.4 142.4h1.0v1.0h-1.0zM308.0 164.4h1.0v1.0h-1.0zM294.3 164.9h1.0v1.0h-1.0zM298.9 145.0h1.0v1.0h-1.0zM294.9 165.2h1.0v1.0h-1.0zM291.0 154.6h1.0v1.0h-1.0zM289.2 159.9h1.0v1.0h-1.0zM288.7 149.3h1.0v1.0h-1.0zM284.6 146.6h1.0v1.0h-1.0zM293.3 157.8h1.0v1.0h-1.0zM289.7 145.6h1.0v1.0h-1.0zM294.1 156.9h1.0v1.0h-1.0zM299.7 150.0h1.0v1.0h-1.0zM289.5 158.1h1.0v1.0h-1.0zM301.2 153.6h1.0v1.0h-1.0zM291.5 146.5h1.0v1.0h-1.0zM289.7 161.6h1.0v1.0h-1.0zM297.1 163.0h1.0v1.0h-1.0zM282.1 160.8h1.0v1.0h-1.0zM286.4 158.8h1.0v1.0h-1.0zM286.7 164.3h1.0v1.0h-1.0zM292.7 164.5h1.0v1.0h-1.0zM289.4 169.9h1.0v1.0h-1.0zM289.3 169.3h1.0v1.0h-1.0zM289.1 146.1h1.0v1.0h-1.0zM297.4 150.8h1.0v1.0h-1.0zM291.7 143.2h1.0v1.0h-1.0zM289.9 154.9h1.0v1.0h-1.0zM287.7 157.2h1.0v1.0h-1.0zM289.5 165.9h1.0v1.0h-1.0zM289.9 148.7h1.0v1.0h-1.0zM289.3 156.2h1.0v1.0h-1.0zM295.6 150.3h1.0v1.0h-1.0zM287.2 157.5h1.0v1.0h-1.0zM297.0 139.9h1.0v1.0h-1.0zM285.7 148.6h1.0v1.0h-1.0zM302.4 164.0h1.0v1.0h-1.0zM296.8 158.0h1.0v1.0h-1.0zM285.2 163.1h1.0v1.0h-1.0zM289.3 147.6h1.0v1.0h-1.0zM303.8 142.3h1.0v1.0h-1.0zM300.4 155.6h1.0v1.0h-1.0zM286.4 155.5h1.0v1.0h-1.0zM286.9 155.5h1.0v1.0h-1.0zM288.1 144.4h1.0v1.0h-1.0zM308.1 150.0h1.0v1.0h-1.0zM298.0 153.6h1.0v1.0h-1.0zM296.1 143.8h1.0v1.0h-1.0zM285.7 127.5h1.0v1.0h-1.0zM298.1 157.6h1.0v1.0h-1.0zM284.9 160.8h1.0v1.0h-1.0zM295.6 177.7h1.0v1.0h-1.0zM293.5 161.4h1.0v1.0h-1.0zM295.7 160.3h1.0v1.0h-1.0zM291.9 150.7h1.0v1.0h-1.0zM296.3 164.0h1.0v1.0h-1.0zM284.9 144.8h1.0v1.0h-1.0zM291.8 168.6h1.0v1.0h-1.0zM290.8 140.3h1.0v1.0h-1.0zM296.9 160.1h1.0v1.0h-1.0zM303.8 155.6h1.0v1.0h-1.0zM304.0 148.2h1.0v1.0h-1.0zM297.5 155.1h1.0v1.0h-1.0zM284.8 151.8h1.0v1.0h-1.0zM300.1 163.1h1.0v1.0h-1.0zM289.7 163.0h1.0v1.0h-1.0zM297.5 161.3h1.0v1.0h-1.0zM293.8 156.5h1.0v1.0h-1.0zM287.0 153.5h1.0v1.0h-1.0zM292.8 148.1h1.0v1.0h-1.0zM290.3 155.4h1.0v1.0h-1.0zM293.3 162.6h1.0v1.0h-1.0zM285.8 150.8h1.0v1.0h-1.0zM293.7 151.0h1.0v1.0h-1.0zM294.0 150.2h1.0v1.0h-1.0zM299.2 152.2h1.0v1.0h-1.0zM285.1 160.1h1.0v1.0h-1.0zM302.1 138.4h1.0v1.0h-1.0zM291.2 154.6h1.0v1.0h-1.0zM298.3 166.2h1.0v1.0h-1.0zM291.1 141.4h1.0v1.0h-1.0zM296.1 162.2h1.0v1.0h-1.0zM294.9 154.7h1.0v1.0h-1.0zM287.1 173.8h1.0v1.0h-1.0zM284.8 141.9h1.0v1.0h-1.0zM298.0 156.4h1.0v1.0h-1.0zM296.1 156.9h1.0v1.0h-1.0zM302.3 165.6h1.0v1.0h-1.0zM288.7 162.2h1.0v1.0h-1.0zM284.9 140.2h1.0v1.0h-1.0zM299.3 150.6h1.0v1.0h-1.0zM288.0 158.2h1.0v1.0h-1.0zM291.7 147.8h1.0v1.0h-1.0zM287.7 160.3h1.0v1.0h-1.0zM286.4 155.1h1.0v1.0h-1.0zM286.0 157.7h1.0v1.0h-1.0zM302.9 158.7h1.0v1.0h-1.0zM298.8 157.7h1.0v1.0h-1.0zM286.2 151.6h1.0v1.0h-1.0zM292.5 157.6h1.0v1.0h-1.0zM288.4 159.0h1.0v1.0h-1.0zM287.7 154.6h1.0v1.0h-1.0zM292.0 144.8h1.0v1.0h-1.0zM298.1 154.5h1.0v1.0h-1.0z" fill="#111" fill-opacity="0.85"/>
<path d="M299.6 138.8h1.0v1.0h-1.0zM288.4 130.5h1.0v1.0h-1.0zM294.5 145.1h1.0v1.0h-1.0zM296.1 142.7h1.0v1.0h-1.0zM293.8 133.9h1.0v1.0h-1.0zM296.7 145.5h1.0v1.0h-1.0zM290.7 138.0h1.0v1.0h-1.0zM301.1 139.9h1.0v1.0h-1.0zM299.0 143.8h1.0v1.0h-1.0zM300.5 132.9h1.0v1.0h-1.0zM302.2 134.3h1.0v1.0h-1.0zM297.3 147.8h1.0v1.0h-1.0zM311.4 147.8h1.0v1.0h-1.0zM301.2 134.3h1.0v1.0h-1.0zM295.2 149.1h1.0v1.0h-1.0zM300.7 130.6h1.0v1.0h-1.0zM307.0 142.6h1.0v1.0h-1.0zM305.7 141.5h1.0v1.0h-1.0zM288.2 134.6h1.0v1.0h-1.0zM298.3 138.0h1.0v1.0h-1.0zM306.7 135.0h1.0v1.0h-1.0zM298.5 138.7h1.0v1.0h-1.0zM298.6 132.8h1.0v1.0h-1.0zM292.9 123.4h1.0v1.0h-1.0zM300.7 137.8h1.0v1.0h-1.0zM300.1 132.7h1.0v1.0h-1.0zM299.0 133.2h1.0v1.0h-1.0zM293.9 141.1h1.0v1.0h-1.0zM302.2 142.6h1.0v1.0h-1.0zM298.8 136.7h1.0v1.0h-1.0zM306.1 146.6h1.0v1.0h-1.0zM295.8 132.5h1.0v1.0h-1.0zM300.9 141.0h1.0v1.0h-1.0zM294.4 152.8h1.0v1.0h-1.0zM288.5 134.0h1.0v1.0h-1.0zM300.3 145.0h1.0v1.0h-1.0zM289.7 136.4h1.0v1.0h-1.0zM306.3 147.5h1.0v1.0h-1.0zM297.8 139.3h1.0v1.0h-1.0zM294.6 141.4h1.0v1.0h-1.0zM293.7 126.8h1.0v1.0h-1.0zM291.4 139.4h1.0v1.0h-1.0zM292.4 145.7h1.0v1.0h-1.0zM305.5 145.1h1.0v1.0h-1.0zM302.3 145.9h1.0v1.0h-1.0z" fill="#222" fill-opacity="0.8"/>
<ellipse cx="395" cy="157.5" rx="8.5" ry="17.5" fill="#000" filter="url(#bl)"/>
<ellipse cx="395.5" cy="157" rx="6" ry="14.5" fill="#000"/>
<path d="M395.8 167.8h0.9v0.9h-0.9zM397.1 167.0h0.9v0.9h-0.9zM387.4 152.4h0.9v0.9h-0.9zM387.5 167.4h0.9v0.9h-0.9zM397.4 151.1h0.9v0.9h-0.9zM387.6 153.2h0.9v0.9h-0.9zM399.8 157.9h0.9v0.9h-0.9zM392.5 152.1h0.9v0.9h-0.9zM393.3 175.2h0.9v0.9h-0.9zM389.5 155.5h0.9v0.9h-0.9zM405.2 166.3h0.9v0.9h-0.9zM386.6 170.0h0.9v0.9h-0.9zM385.8 164.7h0.9v0.9h-0.9zM377.5 149.0h0.9v0.9h-0.9zM400.0 153.1h0.9v0.9h-0.9zM389.3 159.6h0.9v0.9h-0.9zM394.1 154.4h0.9v0.9h-0.9zM389.6 177.2h0.9v0.9h-0.9zM403.8 162.4h0.9v0.9h-0.9zM386.5 153.7h0.9v0.9h-0.9zM392.1 164.0h0.9v0.9h-0.9zM404.5 153.8h0.9v0.9h-0.9zM395.0 154.7h0.9v0.9h-0.9zM395.0 152.1h0.9v0.9h-0.9zM396.5 170.8h0.9v0.9h-0.9zM391.5 155.8h0.9v0.9h-0.9zM394.8 145.8h0.9v0.9h-0.9zM405.9 145.6h0.9v0.9h-0.9zM391.7 150.2h0.9v0.9h-0.9zM403.9 154.2h0.9v0.9h-0.9zM390.7 178.1h0.9v0.9h-0.9zM393.3 151.2h0.9v0.9h-0.9zM394.0 161.0h0.9v0.9h-0.9zM389.2 157.2h0.9v0.9h-0.9zM392.7 166.4h0.9v0.9h-0.9zM399.1 167.5h0.9v0.9h-0.9zM393.2 167.1h0.9v0.9h-0.9zM392.7 170.8h0.9v0.9h-0.9zM396.7 154.8h0.9v0.9h-0.9zM402.1 143.8h0.9v0.9h-0.9zM387.7 151.1h0.9v0.9h-0.9zM393.2 146.7h0.9v0.9h-0.9zM386.2 140.1h0.9v0.9h-0.9zM394.8 151.3h0.9v0.9h-0.9zM408.4 166.9h0.9v0.9h-0.9zM386.6 172.4h0.9v0.9h-0.9zM394.7 169.9h0.9v0.9h-0.9zM386.8 170.8h0.9v0.9h-0.9zM401.2 154.9h0.9v0.9h-0.9zM388.5 155.3h0.9v0.9h-0.9zM405.9 174.2h0.9v0.9h-0.9zM392.6 155.8h0.9v0.9h-0.9zM396.5 156.3h0.9v0.9h-0.9zM391.0 157.0h0.9v0.9h-0.9zM399.6 158.4h0.9v0.9h-0.9zM395.6 156.4h0.9v0.9h-0.9zM392.8 155.8h0.9v0.9h-0.9zM402.3 161.4h0.9v0.9h-0.9zM403.8 157.4h0.9v0.9h-0.9zM401.0 145.2h0.9v0.9h-0.9zM391.4 158.5h0.9v0.9h-0.9zM389.9 157.9h0.9v0.9h-0.9zM388.0 157.4h0.9v0.9h-0.9zM389.7 159.0h0.9v0.9h-0.9zM392.1 149.0h0.9v0.9h-0.9zM391.4 159.4h0.9v0.9h-0.9zM385.7 160.0h0.9v0.9h-0.9zM402.2 156.8h0.9v0.9h-0.9zM397.6 165.3h0.9v0.9h-0.9zM388.8 172.4h0.9v0.9h-0.9zM410.5 148.8h0.9v0.9h-0.9zM408.1 152.0h0.9v0.9h-0.9zM403.6 140.9h0.9v0.9h-0.9zM401.5 160.5h0.9v0.9h-0.9zM385.7 150.8h0.9v0.9h-0.9zM387.2 150.0h0.9v0.9h-0.9zM396.5 157.3h0.9v0.9h-0.9zM377.7 155.9h0.9v0.9h-0.9zM397.1 160.0h0.9v0.9h-0.9zM405.1 140.6h0.9v0.9h-0.9zM395.6 159.4h0.9v0.9h-0.9zM398.8 145.6h0.9v0.9h-0.9zM385.5 157.4h0.9v0.9h-0.9zM394.5 140.9h0.9v0.9h-0.9zM396.4 159.0h0.9v0.9h-0.9zM398.8 132.8h0.9v0.9h-0.9zM397.3 150.1h0.9v0.9h-0.9zM390.9 166.9h0.9v0.9h-0.9zM405.1 160.6h0.9v0.9h-0.9zM393.3 172.2h0.9v0.9h-0.9zM388.2 157.5h0.9v0.9h-0.9zM390.7 149.2h0.9v0.9h-0.9zM395.7 164.1h0.9v0.9h-0.9zM393.8 170.4h0.9v0.9h-0.9zM395.2 150.2h0.9v0.9h-0.9zM394.7 173.5h0.9v0.9h-0.9zM393.5 171.1h0.9v0.9h-0.9zM395.9 165.7h0.9v0.9h-0.9zM392.2 167.5h0.9v0.9h-0.9zM392.6 144.2h0.9v0.9h-0.9zM396.0 146.9h0.9v0.9h-0.9zM403.7 167.0h0.9v0.9h-0.9zM394.2 166.0h0.9v0.9h-0.9zM377.1 174.5h0.9v0.9h-0.9zM389.8 165.8h0.9v0.9h-0.9zM410.8 142.8h0.9v0.9h-0.9zM391.3 162.5h0.9v0.9h-0.9zM396.8 142.1h0.9v0.9h-0.9zM388.0 174.0h0.9v0.9h-0.9zM390.1 164.7h0.9v0.9h-0.9zM385.1 149.9h0.9v0.9h-0.9zM382.1 161.8h0.9v0.9h-0.9zM401.6 160.0h0.9v0.9h-0.9zM392.3 161.5h0.9v0.9h-0.9zM397.1 156.2h0.9v0.9h-0.9zM397.7 178.7h0.9v0.9h-0.9zM408.6 153.3h0.9v0.9h-0.9zM385.8 178.4h0.9v0.9h-0.9zM400.5 171.3h0.9v0.9h-0.9zM398.0 156.8h0.9v0.9h-0.9zM400.4 170.3h0.9v0.9h-0.9zM401.7 148.2h0.9v0.9h-0.9zM400.8 155.6h0.9v0.9h-0.9zM391.7 162.6h0.9v0.9h-0.9zM397.7 161.8h0.9v0.9h-0.9zM392.8 161.6h0.9v0.9h-0.9zM392.6 165.0h0.9v0.9h-0.9zM399.7 167.5h0.9v0.9h-0.9zM385.9 155.8h0.9v0.9h-0.9zM394.6 146.8h0.9v0.9h-0.9zM396.5 157.7h0.9v0.9h-0.9zM394.4 162.9h0.9v0.9h-0.9zM390.0 174.7h0.9v0.9h-0.9zM400.8 153.6h0.9v0.9h-0.9zM397.1 166.6h0.9v0.9h-0.9zM389.1 155.5h0.9v0.9h-0.9zM398.6 133.1h0.9v0.9h-0.9zM385.4 162.4h0.9v0.9h-0.9zM398.1 149.8h0.9v0.9h-0.9zM395.4 158.7h0.9v0.9h-0.9zM394.5 148.9h0.9v0.9h-0.9zM397.7 160.9h0.9v0.9h-0.9zM398.9 173.5h0.9v0.9h-0.9zM394.3 160.9h0.9v0.9h-0.9zM396.2 176.6h0.9v0.9h-0.9zM384.5 159.1h0.9v0.9h-0.9zM390.0 160.4h0.9v0.9h-0.9zM399.5 159.8h0.9v0.9h-0.9zM398.9 161.0h0.9v0.9h-0.9zM389.4 152.5h0.9v0.9h-0.9zM385.0 161.4h0.9v0.9h-0.9zM391.5 167.6h0.9v0.9h-0.9zM400.4 150.2h0.9v0.9h-0.9zM387.0 165.2h0.9v0.9h-0.9zM388.3 161.2h0.9v0.9h-0.9zM398.1 155.2h0.9v0.9h-0.9zM405.7 151.3h0.9v0.9h-0.9zM396.9 155.0h0.9v0.9h-0.9zM375.3 157.4h0.9v0.9h-0.9zM393.0 164.9h0.9v0.9h-0.9zM393.2 151.8h0.9v0.9h-0.9zM390.7 156.1h0.9v0.9h-0.9zM399.0 156.4h0.9v0.9h-0.9zM402.1 167.7h0.9v0.9h-0.9zM389.2 169.5h0.9v0.9h-0.9zM379.3 159.4h0.9v0.9h-0.9zM387.7 158.1h0.9v0.9h-0.9zM401.6 159.1h0.9v0.9h-0.9zM393.0 172.0h0.9v0.9h-0.9zM389.1 150.8h0.9v0.9h-0.9zM400.4 165.3h0.9v0.9h-0.9zM384.8 160.6h0.9v0.9h-0.9zM399.2 157.5h0.9v0.9h-0.9zM391.4 160.5h0.9v0.9h-0.9zM395.5 152.0h0.9v0.9h-0.9zM399.5 143.3h0.9v0.9h-0.9zM387.2 158.7h0.9v0.9h-0.9zM379.2 150.8h0.9v0.9h-0.9zM386.6 159.7h0.9v0.9h-0.9zM390.9 177.6h0.9v0.9h-0.9zM388.0 158.8h0.9v0.9h-0.9zM395.5 165.6h0.9v0.9h-0.9zM399.9 143.4h0.9v0.9h-0.9zM408.4 156.0h0.9v0.9h-0.9zM389.4 142.6h0.9v0.9h-0.9zM391.2 141.3h0.9v0.9h-0.9zM395.3 153.1h0.9v0.9h-0.9zM396.2 151.2h0.9v0.9h-0.9zM401.7 160.7h0.9v0.9h-0.9zM387.6 173.8h0.9v0.9h-0.9zM383.0 144.9h0.9v0.9h-0.9zM402.5 153.1h0.9v0.9h-0.9zM402.9 164.8h0.9v0.9h-0.9zM408.3 177.0h0.9v0.9h-0.9zM397.9 152.8h0.9v0.9h-0.9zM397.9 173.2h0.9v0.9h-0.9zM395.0 130.1h0.9v0.9h-0.9zM391.6 155.4h0.9v0.9h-0.9zM393.7 155.6h0.9v0.9h-0.9zM401.5 146.4h0.9v0.9h-0.9zM396.9 139.2h0.9v0.9h-0.9zM379.9 148.9h0.9v0.9h-0.9zM389.1 150.1h0.9v0.9h-0.9zM389.5 165.2h0.9v0.9h-0.9zM397.8 159.8h0.9v0.9h-0.9zM395.3 152.1h0.9v0.9h-0.9zM387.6 144.8h0.9v0.9h-0.9zM391.3 147.7h0.9v0.9h-0.9zM391.9 166.3h0.9v0.9h-0.9zM397.6 172.3h0.9v0.9h-0.9zM388.0 137.0h0.9v0.9h-0.9zM386.8 179.0h0.9v0.9h-0.9zM398.6 154.6h0.9v0.9h-0.9zM402.6 154.9h0.9v0.9h-0.9zM404.9 155.0h0.9v0.9h-0.9zM391.4 166.0h0.9v0.9h-0.9zM386.6 157.4h0.9v0.9h-0.9zM406.6 163.4h0.9v0.9h-0.9zM386.8 156.5h0.9v0.9h-0.9zM393.8 151.4h0.9v0.9h-0.9zM396.7 171.5h0.9v0.9h-0.9zM394.3 167.9h0.9v0.9h-0.9zM395.9 160.4h0.9v0.9h-0.9zM389.1 168.7h0.9v0.9h-0.9zM402.8 154.5h0.9v0.9h-0.9zM388.3 164.2h0.9v0.9h-0.9zM394.7 170.3h0.9v0.9h-0.9zM397.2 157.7h0.9v0.9h-0.9zM385.0 165.2h0.9v0.9h-0.9zM394.6 146.3h0.9v0.9h-0.9zM384.3 140.7h0.9v0.9h-0.9zM398.0 154.6h0.9v0.9h-0.9zM372.4 150.2h0.9v0.9h-0.9zM389.9 157.9h0.9v0.9h-0.9zM394.2 155.6h0.9v0.9h-0.9zM398.8 169.3h0.9v0.9h-0.9zM392.5 174.8h0.9v0.9h-0.9zM393.2 150.3h0.9v0.9h-0.9zM395.0 144.6h0.9v0.9h-0.9zM392.0 148.4h0.9v0.9h-0.9zM391.2 161.0h0.9v0.9h-0.9zM378.0 162.9h0.9v0.9h-0.9zM395.7 156.8h0.9v0.9h-0.9zM398.6 162.4h0.9v0.9h-0.9zM391.6 148.9h0.9v0.9h-0.9zM398.8 166.6h0.9v0.9h-0.9zM384.4 151.7h0.9v0.9h-0.9zM386.3 167.3h0.9v0.9h-0.9zM390.2 146.4h0.9v0.9h-0.9zM403.8 163.5h0.9v0.9h-0.9zM395.5 161.4h0.9v0.9h-0.9zM392.8 159.3h0.9v0.9h-0.9zM399.8 163.4h0.9v0.9h-0.9zM391.0 159.9h0.9v0.9h-0.9zM406.2 153.4h0.9v0.9h-0.9zM385.4 160.1h0.9v0.9h-0.9zM398.0 164.8h0.9v0.9h-0.9zM396.4 178.7h0.9v0.9h-0.9zM387.3 158.4h0.9v0.9h-0.9zM383.1 171.4h0.9v0.9h-0.9zM393.5 176.7h0.9v0.9h-0.9zM392.2 148.5h0.9v0.9h-0.9zM389.4 167.0h0.9v0.9h-0.9zM388.6 161.5h0.9v0.9h-0.9zM389.2 151.8h0.9v0.9h-0.9zM390.3 175.2h0.9v0.9h-0.9zM386.9 162.2h0.9v0.9h-0.9zM399.2 151.4h0.9v0.9h-0.9zM384.1 174.0h0.9v0.9h-0.9zM405.3 156.4h0.9v0.9h-0.9zM386.1 167.7h0.9v0.9h-0.9zM393.7 150.6h0.9v0.9h-0.9zM391.4 134.9h0.9v0.9h-0.9zM388.6 146.7h0.9v0.9h-0.9zM385.3 164.8h0.9v0.9h-0.9zM395.7 176.0h0.9v0.9h-0.9zM376.4 152.2h0.9v0.9h-0.9zM388.4 172.2h0.9v0.9h-0.9zM400.7 160.1h0.9v0.9h-0.9zM394.5 151.3h0.9v0.9h-0.9zM390.5 154.4h0.9v0.9h-0.9zM377.4 178.0h0.9v0.9h-0.9zM402.0 163.9h0.9v0.9h-0.9zM399.4 141.8h0.9v0.9h-0.9zM387.3 167.4h0.9v0.9h-0.9zM391.4 142.5h0.9v0.9h-0.9zM393.8 145.9h0.9v0.9h-0.9zM393.9 174.6h0.9v0.9h-0.9zM386.4 154.3h0.9v0.9h-0.9zM397.5 158.6h0.9v0.9h-0.9zM395.1 150.3h0.9v0.9h-0.9zM391.7 134.8h0.9v0.9h-0.9zM392.7 171.8h0.9v0.9h-0.9zM386.5 156.9h0.9v0.9h-0.9zM398.5 171.2h0.9v0.9h-0.9zM401.5 149.8h0.9v0.9h-0.9zM391.1 176.6h0.9v0.9h-0.9zM390.8 161.7h0.9v0.9h-0.9zM388.3 152.1h0.9v0.9h-0.9zM374.4 153.3h0.9v0.9h-0.9zM379.4 148.5h0.9v0.9h-0.9zM387.4 172.5h0.9v0.9h-0.9zM398.9 162.9h0.9v0.9h-0.9zM390.4 144.7h0.9v0.9h-0.9zM397.0 150.4h0.9v0.9h-0.9zM393.1 168.3h0.9v0.9h-0.9zM392.6 158.5h0.9v0.9h-0.9zM387.3 169.4h0.9v0.9h-0.9zM397.3 165.9h0.9v0.9h-0.9zM404.5 142.3h0.9v0.9h-0.9zM394.0 165.3h0.9v0.9h-0.9zM396.0 161.9h0.9v0.9h-0.9zM396.9 143.2h0.9v0.9h-0.9zM393.3 170.5h0.9v0.9h-0.9zM393.5 156.8h0.9v0.9h-0.9zM399.4 141.0h0.9v0.9h-0.9zM396.4 174.1h0.9v0.9h-0.9zM392.2 150.4h0.9v0.9h-0.9zM397.3 154.1h0.9v0.9h-0.9zM388.4 160.4h0.9v0.9h-0.9zM382.9 165.5h0.9v0.9h-0.9zM385.9 153.2h0.9v0.9h-0.9zM398.6 158.4h0.9v0.9h-0.9zM395.5 172.7h0.9v0.9h-0.9zM390.2 168.0h0.9v0.9h-0.9zM382.9 166.9h0.9v0.9h-0.9zM402.4 151.4h0.9v0.9h-0.9zM396.9 167.2h0.9v0.9h-0.9zM392.8 152.3h0.9v0.9h-0.9zM403.8 145.4h0.9v0.9h-0.9zM394.9 168.4h0.9v0.9h-0.9zM395.4 174.8h0.9v0.9h-0.9zM403.6 163.5h0.9v0.9h-0.9zM405.5 166.4h0.9v0.9h-0.9zM385.7 155.4h0.9v0.9h-0.9zM395.6 160.7h0.9v0.9h-0.9zM383.5 147.3h0.9v0.9h-0.9zM396.8 160.8h0.9v0.9h-0.9zM404.0 161.0h0.9v0.9h-0.9zM396.3 166.1h0.9v0.9h-0.9zM389.0 145.6h0.9v0.9h-0.9zM390.8 169.1h0.9v0.9h-0.9zM392.0 171.5h0.9v0.9h-0.9zM390.2 166.4h0.9v0.9h-0.9zM394.0 167.3h0.9v0.9h-0.9zM393.9 160.8h0.9v0.9h-0.9zM390.8 171.4h0.9v0.9h-0.9zM393.6 163.9h0.9v0.9h-0.9zM398.2 149.7h0.9v0.9h-0.9zM388.4 158.4h0.9v0.9h-0.9zM402.3 148.1h0.9v0.9h-0.9zM387.2 148.8h0.9v0.9h-0.9zM391.3 148.0h0.9v0.9h-0.9zM388.5 164.2h0.9v0.9h-0.9zM386.7 158.7h0.9v0.9h-0.9zM386.1 156.8h0.9v0.9h-0.9zM397.3 138.5h0.9v0.9h-0.9zM394.2 161.1h0.9v0.9h-0.9zM393.5 161.4h0.9v0.9h-0.9zM396.6 145.7h0.9v0.9h-0.9zM393.1 165.4h0.9v0.9h-0.9zM402.4 145.0h0.9v0.9h-0.9zM390.0 145.0h0.9v0.9h-0.9zM393.8 148.0h0.9v0.9h-0.9zM387.4 166.6h0.9v0.9h-0.9zM408.6 138.0h0.9v0.9h-0.9zM404.7 149.5h0.9v0.9h-0.9zM398.4 162.4h0.9v0.9h-0.9zM402.0 156.7h0.9v0.9h-0.9zM388.4 158.2h0.9v0.9h-0.9zM399.1 149.8h0.9v0.9h-0.9zM396.6 158.8h0.9v0.9h-0.9zM395.1 158.9h0.9v0.9h-0.9zM397.9 167.0h0.9v0.9h-0.9zM392.0 155.3h0.9v0.9h-0.9zM379.8 150.0h0.9v0.9h-0.9zM383.9 165.7h0.9v0.9h-0.9zM386.8 151.8h0.9v0.9h-0.9zM397.4 168.9h0.9v0.9h-0.9zM401.9 150.2h0.9v0.9h-0.9zM395.5 169.6h0.9v0.9h-0.9zM388.3 156.5h0.9v0.9h-0.9zM385.9 152.4h0.9v0.9h-0.9zM398.6 159.8h0.9v0.9h-0.9zM391.5 153.2h0.9v0.9h-0.9zM403.9 166.5h0.9v0.9h-0.9zM391.2 157.3h0.9v0.9h-0.9zM390.7 153.1h0.9v0.9h-0.9zM398.1 144.2h0.9v0.9h-0.9zM394.1 155.6h0.9v0.9h-0.9zM405.4 162.8h0.9v0.9h-0.9zM396.8 164.2h0.9v0.9h-0.9zM397.8 160.1h0.9v0.9h-0.9zM377.9 163.2h0.9v0.9h-0.9zM391.8 166.0h0.9v0.9h-0.9zM396.0 153.4h0.9v0.9h-0.9zM388.1 148.6h0.9v0.9h-0.9zM395.8 157.8h0.9v0.9h-0.9zM388.1 155.2h0.9v0.9h-0.9zM396.2 152.2h0.9v0.9h-0.9zM393.1 152.8h0.9v0.9h-0.9zM376.9 159.8h0.9v0.9h-0.9zM394.3 167.1h0.9v0.9h-0.9zM402.5 151.6h0.9v0.9h-0.9zM397.8 161.6h0.9v0.9h-0.9zM394.4 167.2h0.9v0.9h-0.9zM399.7 146.1h0.9v0.9h-0.9zM403.6 157.1h0.9v0.9h-0.9zM389.6 151.9h0.9v0.9h-0.9zM392.5 147.6h0.9v0.9h-0.9zM401.1 163.2h0.9v0.9h-0.9zM388.0 167.2h0.9v0.9h-0.9zM395.5 159.7h0.9v0.9h-0.9zM400.2 158.0h0.9v0.9h-0.9zM392.2 164.0h0.9v0.9h-0.9zM381.9 146.8h0.9v0.9h-0.9zM397.2 169.7h0.9v0.9h-0.9zM382.9 159.0h0.9v0.9h-0.9zM389.6 156.1h0.9v0.9h-0.9zM397.9 173.9h0.9v0.9h-0.9zM405.5 168.4h0.9v0.9h-0.9zM398.1 160.4h0.9v0.9h-0.9zM381.7 162.9h0.9v0.9h-0.9zM386.1 147.7h0.9v0.9h-0.9zM394.7 143.0h0.9v0.9h-0.9zM405.5 165.0h0.9v0.9h-0.9zM396.3 163.8h0.9v0.9h-0.9zM395.5 159.6h0.9v0.9h-0.9zM398.6 152.2h0.9v0.9h-0.9zM395.7 160.6h0.9v0.9h-0.9zM399.0 147.8h0.9v0.9h-0.9zM395.6 157.6h0.9v0.9h-0.9zM398.1 164.3h0.9v0.9h-0.9zM395.1 163.5h0.9v0.9h-0.9zM396.8 172.6h0.9v0.9h-0.9zM395.9 164.3h0.9v0.9h-0.9zM387.8 156.9h0.9v0.9h-0.9zM399.0 169.5h0.9v0.9h-0.9zM387.6 158.5h0.9v0.9h-0.9zM392.2 159.5h0.9v0.9h-0.9zM390.8 154.7h0.9v0.9h-0.9zM393.5 160.2h0.9v0.9h-0.9zM400.6 150.4h0.9v0.9h-0.9zM387.7 166.8h0.9v0.9h-0.9zM397.2 157.0h0.9v0.9h-0.9zM386.4 169.5h0.9v0.9h-0.9zM386.9 170.3h0.9v0.9h-0.9zM395.6 157.4h0.9v0.9h-0.9zM392.8 167.1h0.9v0.9h-0.9zM394.0 141.5h0.9v0.9h-0.9zM389.4 137.4h0.9v0.9h-0.9zM396.6 168.2h0.9v0.9h-0.9zM400.7 145.4h0.9v0.9h-0.9zM407.8 177.2h0.9v0.9h-0.9zM393.2 139.0h0.9v0.9h-0.9zM388.3 169.4h0.9v0.9h-0.9zM407.4 153.5h0.9v0.9h-0.9zM381.9 149.2h0.9v0.9h-0.9zM406.4 158.9h0.9v0.9h-0.9zM384.8 137.9h0.9v0.9h-0.9zM398.1 167.0h0.9v0.9h-0.9zM390.8 156.9h0.9v0.9h-0.9zM394.4 155.5h0.9v0.9h-0.9zM390.4 153.1h0.9v0.9h-0.9zM390.1 171.3h0.9v0.9h-0.9zM396.5 169.2h0.9v0.9h-0.9zM405.9 136.0h0.9v0.9h-0.9zM393.5 168.5h0.9v0.9h-0.9zM392.5 152.9h0.9v0.9h-0.9zM396.5 153.6h0.9v0.9h-0.9zM388.5 155.8h0.9v0.9h-0.9zM394.3 159.0h0.9v0.9h-0.9zM399.8 159.1h0.9v0.9h-0.9zM392.5 156.2h0.9v0.9h-0.9zM393.0 151.9h0.9v0.9h-0.9zM383.7 160.9h0.9v0.9h-0.9zM403.4 140.7h0.9v0.9h-0.9zM389.0 163.2h0.9v0.9h-0.9zM389.5 164.2h0.9v0.9h-0.9zM393.6 147.9h0.9v0.9h-0.9zM392.5 153.7h0.9v0.9h-0.9zM397.5 133.5h0.9v0.9h-0.9zM396.6 172.2h0.9v0.9h-0.9zM394.9 161.3h0.9v0.9h-0.9zM390.5 162.3h0.9v0.9h-0.9zM393.0 146.1h0.9v0.9h-0.9zM386.2 135.7h0.9v0.9h-0.9zM396.8 160.6h0.9v0.9h-0.9zM401.0 161.5h0.9v0.9h-0.9zM398.4 145.5h0.9v0.9h-0.9zM381.8 153.2h0.9v0.9h-0.9zM391.8 162.5h0.9v0.9h-0.9zM393.1 157.2h0.9v0.9h-0.9zM394.2 161.4h0.9v0.9h-0.9zM395.2 162.1h0.9v0.9h-0.9zM390.7 158.0h0.9v0.9h-0.9zM384.4 147.7h0.9v0.9h-0.9zM392.2 163.2h0.9v0.9h-0.9zM389.0 144.8h0.9v0.9h-0.9zM400.2 150.5h0.9v0.9h-0.9zM382.7 149.2h0.9v0.9h-0.9zM386.2 134.6h0.9v0.9h-0.9zM391.4 175.8h0.9v0.9h-0.9zM389.1 150.7h0.9v0.9h-0.9zM401.4 159.8h0.9v0.9h-0.9zM393.3 172.5h0.9v0.9h-0.9zM386.2 158.3h0.9v0.9h-0.9zM397.2 160.9h0.9v0.9h-0.9zM386.3 149.6h0.9v0.9h-0.9zM405.5 157.9h0.9v0.9h-0.9zM392.2 169.7h0.9v0.9h-0.9zM382.3 158.3h0.9v0.9h-0.9zM382.5 172.8h0.9v0.9h-0.9zM387.5 160.0h0.9v0.9h-0.9zM387.9 160.2h0.9v0.9h-0.9zM396.0 159.0h0.9v0.9h-0.9zM391.9 161.4h0.9v0.9h-0.9zM392.4 153.9h0.9v0.9h-0.9zM398.0 167.5h0.9v0.9h-0.9zM385.2 148.8h0.9v0.9h-0.9zM388.9 161.9h0.9v0.9h-0.9zM384.8 174.5h0.9v0.9h-0.9zM394.2 160.5h0.9v0.9h-0.9zM399.6 151.4h0.9v0.9h-0.9zM396.4 163.0h0.9v0.9h-0.9zM402.3 148.4h0.9v0.9h-0.9zM403.0 164.9h0.9v0.9h-0.9zM395.6 169.6h0.9v0.9h-0.9zM392.3 157.0h0.9v0.9h-0.9zM399.4 155.4h0.9v0.9h-0.9zM401.0 172.7h0.9v0.9h-0.9zM395.4 160.7h0.9v0.9h-0.9zM389.8 149.8h0.9v0.9h-0.9zM403.3 148.7h0.9v0.9h-0.9zM394.5 161.9h0.9v0.9h-0.9zM388.2 152.2h0.9v0.9h-0.9zM396.4 172.9h0.9v0.9h-0.9zM407.2 169.1h0.9v0.9h-0.9zM402.6 154.6h0.9v0.9h-0.9zM389.5 173.5h0.9v0.9h-0.9zM403.5 148.9h0.9v0.9h-0.9zM401.4 162.0h0.9v0.9h-0.9zM399.2 168.7h0.9v0.9h-0.9zM406.4 152.8h0.9v0.9h-0.9zM394.1 171.7h0.9v0.9h-0.9zM392.4 164.5h0.9v0.9h-0.9zM393.6 142.1h0.9v0.9h-0.9zM390.5 167.9h0.9v0.9h-0.9zM390.5 143.8h0.9v0.9h-0.9zM390.8 160.1h0.9v0.9h-0.9zM397.3 162.4h0.9v0.9h-0.9zM397.5 148.6h0.9v0.9h-0.9zM390.2 151.5h0.9v0.9h-0.9zM391.3 163.6h0.9v0.9h-0.9zM402.8 156.8h0.9v0.9h-0.9zM401.0 170.3h0.9v0.9h-0.9zM386.7 151.0h0.9v0.9h-0.9zM395.1 145.4h0.9v0.9h-0.9zM406.3 140.5h0.9v0.9h-0.9zM386.2 167.0h0.9v0.9h-0.9zM389.3 166.3h0.9v0.9h-0.9zM387.7 169.8h0.9v0.9h-0.9zM390.4 166.4h0.9v0.9h-0.9zM400.7 144.3h0.9v0.9h-0.9zM388.4 141.8h0.9v0.9h-0.9zM387.0 168.4h0.9v0.9h-0.9zM394.0 167.7h0.9v0.9h-0.9zM403.4 169.6h0.9v0.9h-0.9zM398.9 155.0h0.9v0.9h-0.9zM391.7 162.5h0.9v0.9h-0.9zM399.8 170.1h0.9v0.9h-0.9zM396.1 156.4h0.9v0.9h-0.9zM393.7 175.9h0.9v0.9h-0.9zM389.6 168.0h0.9v0.9h-0.9zM395.6 166.9h0.9v0.9h-0.9zM389.3 162.7h0.9v0.9h-0.9zM393.8 156.5h0.9v0.9h-0.9zM386.5 145.2h0.9v0.9h-0.9zM392.0 164.8h0.9v0.9h-0.9zM395.9 161.7h0.9v0.9h-0.9zM396.3 145.9h0.9v0.9h-0.9zM401.1 160.0h0.9v0.9h-0.9zM389.4 153.9h0.9v0.9h-0.9zM400.6 161.3h0.9v0.9h-0.9zM384.6 176.5h0.9v0.9h-0.9zM399.7 149.4h0.9v0.9h-0.9zM402.3 171.9h0.9v0.9h-0.9zM401.0 165.9h0.9v0.9h-0.9zM396.3 161.5h0.9v0.9h-0.9zM390.8 162.1h0.9v0.9h-0.9zM402.5 158.3h0.9v0.9h-0.9zM407.0 143.9h0.9v0.9h-0.9zM394.5 144.6h0.9v0.9h-0.9zM382.9 161.9h0.9v0.9h-0.9zM392.2 153.9h0.9v0.9h-0.9zM387.4 157.1h0.9v0.9h-0.9zM383.8 157.5h0.9v0.9h-0.9zM390.8 147.0h0.9v0.9h-0.9zM396.9 140.9h0.9v0.9h-0.9zM397.0 162.1h0.9v0.9h-0.9zM397.7 160.7h0.9v0.9h-0.9zM399.4 156.8h0.9v0.9h-0.9zM387.3 163.2h0.9v0.9h-0.9zM389.2 155.8h0.9v0.9h-0.9zM395.0 150.2h0.9v0.9h-0.9zM400.6 144.1h0.9v0.9h-0.9zM402.2 159.1h0.9v0.9h-0.9zM405.2 170.5h0.9v0.9h-0.9zM398.6 162.3h0.9v0.9h-0.9zM395.0 145.7h0.9v0.9h-0.9zM390.7 150.1h0.9v0.9h-0.9zM389.7 158.1h0.9v0.9h-0.9zM389.1 160.8h0.9v0.9h-0.9zM392.6 154.8h0.9v0.9h-0.9zM396.8 164.0h0.9v0.9h-0.9zM385.6 156.3h0.9v0.9h-0.9zM413.2 159.6h0.9v0.9h-0.9zM397.2 150.6h0.9v0.9h-0.9zM400.6 174.7h0.9v0.9h-0.9zM398.0 158.1h0.9v0.9h-0.9zM394.5 140.6h0.9v0.9h-0.9zM398.1 156.4h0.9v0.9h-0.9zM396.8 163.1h0.9v0.9h-0.9zM400.2 152.9h0.9v0.9h-0.9zM398.2 165.7h0.9v0.9h-0.9zM394.5 173.4h0.9v0.9h-0.9zM391.9 142.0h0.9v0.9h-0.9zM387.4 163.3h0.9v0.9h-0.9zM387.9 160.9h0.9v0.9h-0.9zM384.5 163.2h0.9v0.9h-0.9zM392.6 150.4h0.9v0.9h-0.9zM390.7 156.7h0.9v0.9h-0.9zM400.2 161.8h0.9v0.9h-0.9zM392.9 161.0h0.9v0.9h-0.9zM400.0 164.0h0.9v0.9h-0.9zM405.6 152.2h0.9v0.9h-0.9zM399.6 160.6h0.9v0.9h-0.9zM390.2 165.3h0.9v0.9h-0.9zM399.7 169.1h0.9v0.9h-0.9zM397.4 150.7h0.9v0.9h-0.9zM395.4 163.2h0.9v0.9h-0.9zM405.0 160.6h0.9v0.9h-0.9zM395.3 174.9h0.9v0.9h-0.9zM394.7 155.0h0.9v0.9h-0.9zM396.1 167.1h0.9v0.9h-0.9zM395.3 142.8h0.9v0.9h-0.9zM391.7 169.4h0.9v0.9h-0.9zM389.5 167.9h0.9v0.9h-0.9zM395.4 151.5h0.9v0.9h-0.9zM399.4 138.1h0.9v0.9h-0.9zM380.8 144.0h0.9v0.9h-0.9zM397.7 156.7h0.9v0.9h-0.9zM398.3 158.6h0.9v0.9h-0.9zM395.1 154.2h0.9v0.9h-0.9zM391.7 169.2h0.9v0.9h-0.9zM399.2 146.2h0.9v0.9h-0.9zM399.1 150.1h0.9v0.9h-0.9zM399.1 161.6h0.9v0.9h-0.9zM392.2 169.0h0.9v0.9h-0.9zM402.2 154.3h0.9v0.9h-0.9zM395.1 155.5h0.9v0.9h-0.9zM394.3 175.2h0.9v0.9h-0.9zM391.5 165.1h0.9v0.9h-0.9zM395.9 160.2h0.9v0.9h-0.9zM387.0 165.6h0.9v0.9h-0.9zM387.2 166.6h0.9v0.9h-0.9zM393.7 160.8h0.9v0.9h-0.9zM391.3 151.0h0.9v0.9h-0.9zM387.7 159.5h0.9v0.9h-0.9zM393.7 162.2h0.9v0.9h-0.9zM392.4 167.1h0.9v0.9h-0.9zM395.2 160.6h0.9v0.9h-0.9zM392.7 159.2h0.9v0.9h-0.9zM398.5 152.5h0.9v0.9h-0.9zM386.6 163.2h0.9v0.9h-0.9zM397.0 159.7h0.9v0.9h-0.9zM395.8 146.6h0.9v0.9h-0.9zM388.0 159.4h0.9v0.9h-0.9zM394.1 147.2h0.9v0.9h-0.9zM397.2 140.7h0.9v0.9h-0.9zM402.2 149.0h0.9v0.9h-0.9zM390.7 149.1h0.9v0.9h-0.9zM385.6 156.3h0.9v0.9h-0.9zM382.1 156.1h0.9v0.9h-0.9zM395.3 156.5h0.9v0.9h-0.9zM394.1 145.2h0.9v0.9h-0.9zM382.4 146.3h0.9v0.9h-0.9zM401.0 162.5h0.9v0.9h-0.9zM382.8 176.2h0.9v0.9h-0.9zM398.3 170.1h0.9v0.9h-0.9zM400.7 172.2h0.9v0.9h-0.9zM383.4 160.1h0.9v0.9h-0.9zM389.3 178.4h0.9v0.9h-0.9zM398.6 159.3h0.9v0.9h-0.9zM392.6 138.6h0.9v0.9h-0.9zM394.9 151.1h0.9v0.9h-0.9zM402.9 166.7h0.9v0.9h-0.9zM393.7 155.5h0.9v0.9h-0.9zM401.3 154.1h0.9v0.9h-0.9zM401.3 161.4h0.9v0.9h-0.9zM392.4 163.0h0.9v0.9h-0.9zM405.4 143.6h0.9v0.9h-0.9zM399.0 166.6h0.9v0.9h-0.9zM392.6 173.8h0.9v0.9h-0.9zM398.5 164.7h0.9v0.9h-0.9zM387.8 165.0h0.9v0.9h-0.9zM386.0 164.3h0.9v0.9h-0.9zM408.0 150.5h0.9v0.9h-0.9zM404.2 148.7h0.9v0.9h-0.9zM394.7 166.4h0.9v0.9h-0.9zM385.0 162.6h0.9v0.9h-0.9zM389.3 153.3h0.9v0.9h-0.9zM399.6 158.6h0.9v0.9h-0.9zM396.8 159.5h0.9v0.9h-0.9zM396.7 174.7h0.9v0.9h-0.9zM395.0 156.5h0.9v0.9h-0.9zM394.4 166.4h0.9v0.9h-0.9zM397.2 138.2h0.9v0.9h-0.9zM393.7 163.6h0.9v0.9h-0.9zM411.0 153.5h0.9v0.9h-0.9zM392.5 147.9h0.9v0.9h-0.9zM393.8 141.9h0.9v0.9h-0.9zM388.8 158.5h0.9v0.9h-0.9zM384.5 156.7h0.9v0.9h-0.9zM389.8 171.8h0.9v0.9h-0.9zM395.1 166.0h0.9v0.9h-0.9zM409.4 153.0h0.9v0.9h-0.9zM405.1 150.3h0.9v0.9h-0.9zM401.0 143.9h0.9v0.9h-0.9zM391.7 157.4h0.9v0.9h-0.9zM392.6 140.1h0.9v0.9h-0.9zM395.0 156.5h0.9v0.9h-0.9zM403.8 165.1h0.9v0.9h-0.9zM380.3 160.6h0.9v0.9h-0.9zM401.1 158.4h0.9v0.9h-0.9zM389.7 145.8h0.9v0.9h-0.9zM391.8 150.0h0.9v0.9h-0.9zM392.4 156.1h0.9v0.9h-0.9zM402.4 149.6h0.9v0.9h-0.9zM396.3 148.5h0.9v0.9h-0.9zM396.0 169.5h0.9v0.9h-0.9zM390.5 147.6h0.9v0.9h-0.9zM394.4 159.5h0.9v0.9h-0.9zM390.1 163.5h0.9v0.9h-0.9zM394.7 166.0h0.9v0.9h-0.9zM385.4 166.8h0.9v0.9h-0.9zM402.3 151.2h0.9v0.9h-0.9zM407.0 161.6h0.9v0.9h-0.9zM385.8 148.7h0.9v0.9h-0.9zM389.4 152.9h0.9v0.9h-0.9zM392.7 162.3h0.9v0.9h-0.9zM392.9 156.1h0.9v0.9h-0.9zM388.0 139.0h0.9v0.9h-0.9zM389.6 147.1h0.9v0.9h-0.9zM399.9 135.3h0.9v0.9h-0.9zM401.6 131.0h0.9v0.9h-0.9zM392.9 159.4h0.9v0.9h-0.9zM387.0 149.6h0.9v0.9h-0.9zM399.8 148.6h0.9v0.9h-0.9zM393.6 159.7h0.9v0.9h-0.9zM398.4 146.8h0.9v0.9h-0.9zM402.7 157.8h0.9v0.9h-0.9zM400.7 145.3h0.9v0.9h-0.9zM401.2 158.4h0.9v0.9h-0.9zM399.2 152.9h0.9v0.9h-0.9zM399.8 159.6h0.9v0.9h-0.9zM389.9 163.9h0.9v0.9h-0.9zM392.9 154.8h0.9v0.9h-0.9zM391.8 168.4h0.9v0.9h-0.9zM400.2 168.5h0.9v0.9h-0.9zM383.6 167.4h0.9v0.9h-0.9zM396.7 170.6h0.9v0.9h-0.9zM394.2 160.7h0.9v0.9h-0.9zM389.6 179.1h0.9v0.9h-0.9zM392.1 170.2h0.9v0.9h-0.9zM388.9 157.8h0.9v0.9h-0.9zM391.7 158.2h0.9v0.9h-0.9zM390.9 165.6h0.9v0.9h-0.9zM398.5 143.3h0.9v0.9h-0.9zM391.3 146.2h0.9v0.9h-0.9zM401.1 146.8h0.9v0.9h-0.9zM397.2 160.8h0.9v0.9h-0.9zM393.8 139.9h0.9v0.9h-0.9zM405.2 157.8h0.9v0.9h-0.9zM398.6 169.8h0.9v0.9h-0.9zM387.7 149.4h0.9v0.9h-0.9zM405.3 178.7h0.9v0.9h-0.9zM388.9 158.5h0.9v0.9h-0.9zM400.4 157.8h0.9v0.9h-0.9zM402.7 165.3h0.9v0.9h-0.9zM393.7 166.0h0.9v0.9h-0.9zM391.1 171.9h0.9v0.9h-0.9zM389.9 172.4h0.9v0.9h-0.9zM410.5 141.8h0.9v0.9h-0.9zM405.2 144.5h0.9v0.9h-0.9zM393.8 177.6h0.9v0.9h-0.9zM401.3 166.1h0.9v0.9h-0.9zM396.6 161.1h0.9v0.9h-0.9zM397.2 157.4h0.9v0.9h-0.9zM392.4 147.0h0.9v0.9h-0.9zM405.5 159.1h0.9v0.9h-0.9zM406.6 166.8h0.9v0.9h-0.9zM397.2 148.4h0.9v0.9h-0.9zM392.5 159.8h0.9v0.9h-0.9zM393.4 156.3h0.9v0.9h-0.9zM379.4 155.3h0.9v0.9h-0.9zM392.6 154.5h0.9v0.9h-0.9zM392.2 143.7h0.9v0.9h-0.9zM388.7 174.1h0.9v0.9h-0.9zM388.1 154.1h0.9v0.9h-0.9zM388.8 157.7h0.9v0.9h-0.9zM387.5 172.9h0.9v0.9h-0.9zM391.2 163.8h0.9v0.9h-0.9zM410.7 159.2h0.9v0.9h-0.9zM394.2 130.7h0.9v0.9h-0.9zM392.0 157.1h0.9v0.9h-0.9zM395.1 161.7h0.9v0.9h-0.9zM387.1 150.0h0.9v0.9h-0.9zM399.2 156.7h0.9v0.9h-0.9zM394.5 166.0h0.9v0.9h-0.9zM394.9 160.9h0.9v0.9h-0.9zM387.2 159.4h0.9v0.9h-0.9zM383.2 177.1h0.9v0.9h-0.9zM389.3 176.3h0.9v0.9h-0.9zM391.0 158.1h0.9v0.9h-0.9zM402.8 161.5h0.9v0.9h-0.9zM395.5 156.7h0.9v0.9h-0.9zM392.6 152.1h0.9v0.9h-0.9zM389.3 141.5h0.9v0.9h-0.9zM393.3 151.6h0.9v0.9h-0.9zM406.7 147.5h0.9v0.9h-0.9zM392.0 158.2h0.9v0.9h-0.9zM384.3 175.1h0.9v0.9h-0.9zM399.0 162.4h0.9v0.9h-0.9zM406.9 164.4h0.9v0.9h-0.9zM392.4 162.3h0.9v0.9h-0.9zM391.3 164.3h0.9v0.9h-0.9zM385.8 164.6h0.9v0.9h-0.9zM392.4 155.2h0.9v0.9h-0.9zM391.8 158.3h0.9v0.9h-0.9zM383.0 165.5h0.9v0.9h-0.9zM393.1 177.5h0.9v0.9h-0.9zM394.2 169.0h0.9v0.9h-0.9zM394.1 158.2h0.9v0.9h-0.9zM386.4 154.9h0.9v0.9h-0.9zM390.5 135.3h0.9v0.9h-0.9zM392.4 152.3h0.9v0.9h-0.9zM396.3 169.9h0.9v0.9h-0.9zM392.4 171.4h0.9v0.9h-0.9zM402.5 167.2h0.9v0.9h-0.9zM392.2 160.6h0.9v0.9h-0.9zM405.0 175.1h0.9v0.9h-0.9zM401.8 142.2h0.9v0.9h-0.9zM379.6 177.4h0.9v0.9h-0.9zM399.0 173.1h0.9v0.9h-0.9zM398.2 156.6h0.9v0.9h-0.9zM397.4 159.1h0.9v0.9h-0.9zM404.1 168.0h0.9v0.9h-0.9zM388.2 152.0h0.9v0.9h-0.9zM401.0 168.5h0.9v0.9h-0.9zM396.3 163.1h0.9v0.9h-0.9zM386.2 151.0h0.9v0.9h-0.9zM397.8 141.2h0.9v0.9h-0.9zM397.6 165.5h0.9v0.9h-0.9zM398.7 168.1h0.9v0.9h-0.9zM406.9 162.6h0.9v0.9h-0.9zM389.1 142.5h0.9v0.9h-0.9zM379.7 160.6h0.9v0.9h-0.9zM400.2 142.8h0.9v0.9h-0.9zM395.6 152.4h0.9v0.9h-0.9zM392.8 161.8h0.9v0.9h-0.9zM394.7 147.7h0.9v0.9h-0.9zM399.4 158.3h0.9v0.9h-0.9zM382.2 167.4h0.9v0.9h-0.9zM404.7 155.7h0.9v0.9h-0.9zM404.9 143.7h0.9v0.9h-0.9zM392.8 172.7h0.9v0.9h-0.9zM403.0 164.8h0.9v0.9h-0.9zM401.4 155.5h0.9v0.9h-0.9zM399.1 169.3h0.9v0.9h-0.9zM400.6 163.4h0.9v0.9h-0.9zM399.9 164.0h0.9v0.9h-0.9zM398.4 144.1h0.9v0.9h-0.9zM398.4 150.2h0.9v0.9h-0.9zM392.0 160.2h0.9v0.9h-0.9zM396.1 146.4h0.9v0.9h-0.9zM391.0 162.1h0.9v0.9h-0.9zM391.7 159.9h0.9v0.9h-0.9zM395.9 161.8h0.9v0.9h-0.9zM390.9 161.5h0.9v0.9h-0.9zM398.2 146.9h0.9v0.9h-0.9zM399.5 149.6h0.9v0.9h-0.9zM396.8 165.8h0.9v0.9h-0.9zM398.6 147.8h0.9v0.9h-0.9zM388.4 147.8h0.9v0.9h-0.9zM398.1 161.0h0.9v0.9h-0.9zM382.6 167.0h0.9v0.9h-0.9zM402.2 154.3h0.9v0.9h-0.9zM393.9 162.1h0.9v0.9h-0.9zM387.8 155.3h0.9v0.9h-0.9zM398.0 156.1h0.9v0.9h-0.9zM394.3 160.7h0.9v0.9h-0.9zM405.6 162.3h0.9v0.9h-0.9zM396.6 154.8h0.9v0.9h-0.9zM402.5 160.3h0.9v0.9h-0.9zM394.2 172.8h0.9v0.9h-0.9zM403.2 150.3h0.9v0.9h-0.9zM392.3 172.4h0.9v0.9h-0.9zM391.3 175.4h0.9v0.9h-0.9zM393.3 179.2h0.9v0.9h-0.9zM388.0 140.0h0.9v0.9h-0.9zM389.6 155.2h0.9v0.9h-0.9zM390.6 152.1h0.9v0.9h-0.9zM395.4 160.9h0.9v0.9h-0.9zM390.3 154.2h0.9v0.9h-0.9zM403.1 169.2h0.9v0.9h-0.9zM400.8 172.1h0.9v0.9h-0.9zM393.1 168.4h0.9v0.9h-0.9zM405.1 151.3h0.9v0.9h-0.9zM403.2 134.8h0.9v0.9h-0.9zM381.9 144.8h0.9v0.9h-0.9zM387.8 149.8h0.9v0.9h-0.9zM391.2 167.7h0.9v0.9h-0.9zM389.6 155.8h0.9v0.9h-0.9zM385.8 143.4h0.9v0.9h-0.9zM393.1 152.0h0.9v0.9h-0.9zM400.1 160.7h0.9v0.9h-0.9zM382.5 166.8h0.9v0.9h-0.9zM386.5 155.5h0.9v0.9h-0.9zM387.5 151.2h0.9v0.9h-0.9zM390.4 147.5h0.9v0.9h-0.9zM389.5 156.6h0.9v0.9h-0.9zM399.0 166.5h0.9v0.9h-0.9zM405.9 143.2h0.9v0.9h-0.9zM391.7 171.6h0.9v0.9h-0.9zM386.9 157.7h0.9v0.9h-0.9zM399.0 174.9h0.9v0.9h-0.9zM398.0 162.7h0.9v0.9h-0.9zM393.2 165.6h0.9v0.9h-0.9zM394.9 162.8h0.9v0.9h-0.9zM390.1 158.1h0.9v0.9h-0.9zM388.5 148.4h0.9v0.9h-0.9zM388.7 150.9h0.9v0.9h-0.9zM389.9 153.6h0.9v0.9h-0.9zM384.3 162.4h0.9v0.9h-0.9zM396.3 174.9h0.9v0.9h-0.9zM378.9 145.1h0.9v0.9h-0.9zM387.9 150.6h0.9v0.9h-0.9zM394.6 150.8h0.9v0.9h-0.9zM389.2 166.6h0.9v0.9h-0.9zM393.0 143.1h0.9v0.9h-0.9zM401.6 157.7h0.9v0.9h-0.9zM403.1 158.6h0.9v0.9h-0.9zM391.9 161.8h0.9v0.9h-0.9zM402.6 160.5h0.9v0.9h-0.9zM392.2 145.4h0.9v0.9h-0.9zM395.4 148.5h0.9v0.9h-0.9zM393.6 145.4h0.9v0.9h-0.9zM388.5 149.6h0.9v0.9h-0.9zM389.9 147.9h0.9v0.9h-0.9zM402.2 167.1h0.9v0.9h-0.9zM392.0 148.9h0.9v0.9h-0.9zM401.3 156.8h0.9v0.9h-0.9zM397.9 169.4h0.9v0.9h-0.9zM391.5 163.7h0.9v0.9h-0.9zM397.1 155.0h0.9v0.9h-0.9zM393.1 153.1h0.9v0.9h-0.9zM372.1 155.4h0.9v0.9h-0.9zM404.9 169.5h0.9v0.9h-0.9zM411.9 160.0h0.9v0.9h-0.9zM400.0 153.1h0.9v0.9h-0.9zM389.3 150.6h0.9v0.9h-0.9zM397.1 167.0h0.9v0.9h-0.9zM381.8 166.3h0.9v0.9h-0.9zM400.1 167.2h0.9v0.9h-0.9zM385.9 161.3h0.9v0.9h-0.9zM396.3 145.9h0.9v0.9h-0.9zM389.8 154.4h0.9v0.9h-0.9zM381.5 153.1h0.9v0.9h-0.9zM403.0 163.2h0.9v0.9h-0.9zM388.7 159.6h0.9v0.9h-0.9zM396.5 165.1h0.9v0.9h-0.9zM387.7 163.0h0.9v0.9h-0.9zM389.9 154.3h0.9v0.9h-0.9zM388.6 151.2h0.9v0.9h-0.9zM397.3 141.7h0.9v0.9h-0.9zM388.4 156.4h0.9v0.9h-0.9zM393.7 174.8h0.9v0.9h-0.9zM384.9 164.9h0.9v0.9h-0.9zM393.5 178.8h0.9v0.9h-0.9zM392.8 179.1h0.9v0.9h-0.9zM387.9 162.8h0.9v0.9h-0.9zM387.0 153.3h0.9v0.9h-0.9zM386.0 155.2h0.9v0.9h-0.9zM404.2 153.9h0.9v0.9h-0.9zM410.1 175.3h0.9v0.9h-0.9zM396.1 159.3h0.9v0.9h-0.9zM396.2 151.7h0.9v0.9h-0.9zM398.0 160.1h0.9v0.9h-0.9zM381.5 159.6h0.9v0.9h-0.9zM397.9 159.7h0.9v0.9h-0.9zM396.1 159.3h0.9v0.9h-0.9zM391.0 169.7h0.9v0.9h-0.9zM403.2 156.2h0.9v0.9h-0.9zM399.3 148.4h0.9v0.9h-0.9zM402.2 151.0h0.9v0.9h-0.9zM394.4 168.6h0.9v0.9h-0.9zM390.9 159.6h0.9v0.9h-0.9zM400.6 153.7h0.9v0.9h-0.9zM396.3 170.1h0.9v0.9h-0.9zM395.8 151.5h0.9v0.9h-0.9zM391.6 156.7h0.9v0.9h-0.9zM394.2 165.4h0.9v0.9h-0.9zM384.1 158.5h0.9v0.9h-0.9zM395.4 174.1h0.9v0.9h-0.9zM384.7 150.4h0.9v0.9h-0.9zM399.9 158.8h0.9v0.9h-0.9zM401.2 158.7h0.9v0.9h-0.9zM389.9 158.6h0.9v0.9h-0.9zM402.1 166.3h0.9v0.9h-0.9zM395.4 160.6h0.9v0.9h-0.9zM401.0 165.3h0.9v0.9h-0.9zM395.7 166.4h0.9v0.9h-0.9zM394.8 148.2h0.9v0.9h-0.9zM399.9 171.0h0.9v0.9h-0.9zM403.1 158.5h0.9v0.9h-0.9zM386.4 163.2h0.9v0.9h-0.9zM390.4 140.7h0.9v0.9h-0.9zM395.1 151.6h0.9v0.9h-0.9zM394.6 154.4h0.9v0.9h-0.9zM399.4 167.6h0.9v0.9h-0.9zM397.3 170.8h0.9v0.9h-0.9zM383.1 166.5h0.9v0.9h-0.9zM400.7 155.3h0.9v0.9h-0.9zM394.9 147.4h0.9v0.9h-0.9zM391.3 162.0h0.9v0.9h-0.9zM386.0 140.0h0.9v0.9h-0.9zM391.8 150.9h0.9v0.9h-0.9zM388.0 157.5h0.9v0.9h-0.9zM385.3 169.9h0.9v0.9h-0.9zM401.4 159.5h0.9v0.9h-0.9zM390.3 158.6h0.9v0.9h-0.9zM393.4 151.4h0.9v0.9h-0.9zM390.0 163.3h0.9v0.9h-0.9zM388.4 152.9h0.9v0.9h-0.9zM391.2 149.4h0.9v0.9h-0.9zM395.7 146.6h0.9v0.9h-0.9zM400.0 166.1h0.9v0.9h-0.9zM393.9 167.4h0.9v0.9h-0.9zM401.0 155.3h0.9v0.9h-0.9zM393.7 153.2h0.9v0.9h-0.9zM391.8 155.4h0.9v0.9h-0.9zM394.6 164.1h0.9v0.9h-0.9zM408.0 162.4h0.9v0.9h-0.9zM400.1 156.9h0.9v0.9h-0.9zM404.5 160.3h0.9v0.9h-0.9zM393.0 156.4h0.9v0.9h-0.9zM394.3 155.3h0.9v0.9h-0.9zM395.2 176.3h0.9v0.9h-0.9zM394.5 151.7h0.9v0.9h-0.9zM382.3 158.1h0.9v0.9h-0.9zM387.7 151.6h0.9v0.9h-0.9zM395.0 162.4h0.9v0.9h-0.9zM397.0 170.3h0.9v0.9h-0.9zM388.1 152.7h0.9v0.9h-0.9zM388.5 149.3h0.9v0.9h-0.9zM389.9 150.8h0.9v0.9h-0.9zM398.4 148.7h0.9v0.9h-0.9zM407.9 139.1h0.9v0.9h-0.9zM399.3 143.8h0.9v0.9h-0.9zM391.0 147.2h0.9v0.9h-0.9zM394.0 163.6h0.9v0.9h-0.9zM391.4 152.6h0.9v0.9h-0.9zM387.8 150.8h0.9v0.9h-0.9zM388.6 152.4h0.9v0.9h-0.9zM394.4 167.5h0.9v0.9h-0.9zM389.6 139.3h0.9v0.9h-0.9zM391.6 166.9h0.9v0.9h-0.9zM387.5 162.4h0.9v0.9h-0.9zM386.6 146.6h0.9v0.9h-0.9zM395.3 140.9h0.9v0.9h-0.9zM391.3 132.6h0.9v0.9h-0.9zM387.3 162.4h0.9v0.9h-0.9zM390.7 151.9h0.9v0.9h-0.9zM397.2 149.9h0.9v0.9h-0.9zM386.6 154.8h0.9v0.9h-0.9zM393.4 160.1h0.9v0.9h-0.9zM392.7 170.2h0.9v0.9h-0.9zM397.4 157.4h0.9v0.9h-0.9zM408.3 143.6h0.9v0.9h-0.9zM395.3 151.2h0.9v0.9h-0.9zM407.3 161.5h0.9v0.9h-0.9zM399.0 162.5h0.9v0.9h-0.9zM403.0 153.4h0.9v0.9h-0.9zM399.5 142.1h0.9v0.9h-0.9zM397.4 169.7h0.9v0.9h-0.9zM399.3 164.5h0.9v0.9h-0.9zM382.0 159.5h0.9v0.9h-0.9zM391.6 173.4h0.9v0.9h-0.9zM397.2 165.0h0.9v0.9h-0.9zM402.0 163.7h0.9v0.9h-0.9zM385.2 150.9h0.9v0.9h-0.9zM380.6 170.4h0.9v0.9h-0.9zM392.6 146.2h0.9v0.9h-0.9zM396.9 154.5h0.9v0.9h-0.9zM391.8 171.2h0.9v0.9h-0.9zM380.8 144.4h0.9v0.9h-0.9zM393.1 156.2h0.9v0.9h-0.9zM400.9 155.2h0.9v0.9h-0.9zM397.0 175.3h0.9v0.9h-0.9zM385.2 144.8h0.9v0.9h-0.9zM389.3 156.6h0.9v0.9h-0.9zM386.8 161.1h0.9v0.9h-0.9zM388.9 169.6h0.9v0.9h-0.9zM396.9 165.2h0.9v0.9h-0.9zM395.1 160.6h0.9v0.9h-0.9zM383.5 156.4h0.9v0.9h-0.9zM382.5 171.4h0.9v0.9h-0.9zM386.6 149.8h0.9v0.9h-0.9zM386.8 174.8h0.9v0.9h-0.9zM392.3 153.3h0.9v0.9h-0.9zM393.6 153.2h0.9v0.9h-0.9zM389.2 165.4h0.9v0.9h-0.9zM390.9 167.2h0.9v0.9h-0.9zM397.5 167.6h0.9v0.9h-0.9zM403.6 168.9h0.9v0.9h-0.9zM387.8 171.5h0.9v0.9h-0.9zM378.2 170.9h0.9v0.9h-0.9zM401.4 148.3h0.9v0.9h-0.9zM401.8 140.4h0.9v0.9h-0.9zM400.1 154.6h0.9v0.9h-0.9zM391.9 156.9h0.9v0.9h-0.9zM390.2 165.7h0.9v0.9h-0.9zM393.4 158.1h0.9v0.9h-0.9zM394.1 155.1h0.9v0.9h-0.9zM387.4 164.4h0.9v0.9h-0.9zM399.0 147.1h0.9v0.9h-0.9zM399.8 170.9h0.9v0.9h-0.9zM394.8 172.8h0.9v0.9h-0.9zM380.1 171.9h0.9v0.9h-0.9zM389.1 161.5h0.9v0.9h-0.9zM391.2 165.1h0.9v0.9h-0.9zM384.6 155.7h0.9v0.9h-0.9zM396.5 157.5h0.9v0.9h-0.9zM389.0 173.1h0.9v0.9h-0.9zM384.0 159.5h0.9v0.9h-0.9zM392.7 155.1h0.9v0.9h-0.9zM397.9 160.9h0.9v0.9h-0.9zM392.6 165.0h0.9v0.9h-0.9zM393.3 163.8h0.9v0.9h-0.9zM401.8 161.0h0.9v0.9h-0.9zM394.2 153.1h0.9v0.9h-0.9zM402.7 168.0h0.9v0.9h-0.9zM397.1 161.6h0.9v0.9h-0.9zM388.6 159.5h0.9v0.9h-0.9zM395.7 147.4h0.9v0.9h-0.9zM387.8 157.6h0.9v0.9h-0.9zM405.9 162.2h0.9v0.9h-0.9zM384.6 171.0h0.9v0.9h-0.9zM399.4 165.6h0.9v0.9h-0.9zM390.3 157.6h0.9v0.9h-0.9zM407.6 169.5h0.9v0.9h-0.9zM422.7 141.0h0.9v0.9h-0.9zM383.8 154.5h0.9v0.9h-0.9zM388.0 152.2h0.9v0.9h-0.9zM398.4 171.6h0.9v0.9h-0.9zM384.8 164.3h0.9v0.9h-0.9zM399.2 161.2h0.9v0.9h-0.9zM402.4 170.0h0.9v0.9h-0.9zM388.7 160.1h0.9v0.9h-0.9zM395.5 147.1h0.9v0.9h-0.9zM392.4 168.7h0.9v0.9h-0.9zM396.3 159.0h0.9v0.9h-0.9zM410.2 164.9h0.9v0.9h-0.9zM399.9 150.3h0.9v0.9h-0.9zM401.5 154.5h0.9v0.9h-0.9zM392.7 154.7h0.9v0.9h-0.9zM385.8 164.4h0.9v0.9h-0.9zM386.0 166.9h0.9v0.9h-0.9zM388.8 171.1h0.9v0.9h-0.9zM396.0 170.2h0.9v0.9h-0.9zM386.9 164.3h0.9v0.9h-0.9zM398.6 161.5h0.9v0.9h-0.9zM393.2 153.1h0.9v0.9h-0.9zM373.3 163.7h0.9v0.9h-0.9zM385.8 148.6h0.9v0.9h-0.9zM396.2 132.9h0.9v0.9h-0.9zM389.0 165.5h0.9v0.9h-0.9zM394.0 156.7h0.9v0.9h-0.9zM388.9 160.6h0.9v0.9h-0.9zM384.1 153.3h0.9v0.9h-0.9zM399.0 149.9h0.9v0.9h-0.9zM393.1 155.2h0.9v0.9h-0.9zM385.9 139.6h0.9v0.9h-0.9zM388.4 151.3h0.9v0.9h-0.9zM387.3 158.3h0.9v0.9h-0.9zM395.9 165.0h0.9v0.9h-0.9zM396.2 147.4h0.9v0.9h-0.9zM402.7 162.3h0.9v0.9h-0.9zM398.6 146.3h0.9v0.9h-0.9zM397.2 169.8h0.9v0.9h-0.9zM390.2 160.5h0.9v0.9h-0.9zM393.6 165.4h0.9v0.9h-0.9zM394.9 161.5h0.9v0.9h-0.9zM388.1 147.3h0.9v0.9h-0.9zM387.6 164.1h0.9v0.9h-0.9zM402.4 152.6h0.9v0.9h-0.9zM383.5 162.5h0.9v0.9h-0.9zM393.7 150.4h0.9v0.9h-0.9zM403.6 165.9h0.9v0.9h-0.9zM393.9 145.5h0.9v0.9h-0.9zM402.0 170.1h0.9v0.9h-0.9zM399.3 174.9h0.9v0.9h-0.9zM387.3 149.1h0.9v0.9h-0.9zM399.5 163.3h0.9v0.9h-0.9zM393.7 154.2h0.9v0.9h-0.9zM400.5 161.5h0.9v0.9h-0.9zM399.5 147.7h0.9v0.9h-0.9zM394.3 163.1h0.9v0.9h-0.9zM400.5 142.6h0.9v0.9h-0.9zM392.7 152.5h0.9v0.9h-0.9zM394.0 157.6h0.9v0.9h-0.9zM396.7 166.8h0.9v0.9h-0.9zM395.7 158.3h0.9v0.9h-0.9zM399.6 172.8h0.9v0.9h-0.9zM394.4 151.1h0.9v0.9h-0.9zM405.3 168.0h0.9v0.9h-0.9zM408.0 154.9h0.9v0.9h-0.9zM391.5 157.3h0.9v0.9h-0.9zM393.4 144.5h0.9v0.9h-0.9zM399.4 144.3h0.9v0.9h-0.9zM376.2 158.5h0.9v0.9h-0.9zM387.1 161.6h0.9v0.9h-0.9zM386.5 145.6h0.9v0.9h-0.9zM380.8 146.6h0.9v0.9h-0.9zM398.3 152.6h0.9v0.9h-0.9zM402.7 161.4h0.9v0.9h-0.9zM382.0 141.7h0.9v0.9h-0.9zM384.3 153.3h0.9v0.9h-0.9zM394.2 152.9h0.9v0.9h-0.9zM390.5 149.7h0.9v0.9h-0.9zM395.1 166.8h0.9v0.9h-0.9zM387.1 171.4h0.9v0.9h-0.9zM388.6 156.2h0.9v0.9h-0.9zM404.8 165.0h0.9v0.9h-0.9zM394.3 140.0h0.9v0.9h-0.9zM394.5 155.5h0.9v0.9h-0.9zM392.6 169.9h0.9v0.9h-0.9zM390.5 176.8h0.9v0.9h-0.9zM394.3 160.6h0.9v0.9h-0.9zM392.0 160.0h0.9v0.9h-0.9zM402.7 161.4h0.9v0.9h-0.9zM387.6 151.4h0.9v0.9h-0.9zM401.5 164.5h0.9v0.9h-0.9zM388.5 157.8h0.9v0.9h-0.9zM394.6 164.7h0.9v0.9h-0.9zM387.8 160.0h0.9v0.9h-0.9zM385.6 151.3h0.9v0.9h-0.9zM392.5 172.5h0.9v0.9h-0.9zM393.4 175.5h0.9v0.9h-0.9zM396.5 171.9h0.9v0.9h-0.9zM393.0 141.1h0.9v0.9h-0.9zM379.9 154.8h0.9v0.9h-0.9zM405.5 157.5h0.9v0.9h-0.9zM390.8 165.1h0.9v0.9h-0.9zM391.6 155.3h0.9v0.9h-0.9zM395.3 163.0h0.9v0.9h-0.9zM390.2 151.0h0.9v0.9h-0.9zM404.4 150.4h0.9v0.9h-0.9zM388.2 157.2h0.9v0.9h-0.9zM393.1 162.0h0.9v0.9h-0.9zM404.1 172.0h0.9v0.9h-0.9zM393.8 160.2h0.9v0.9h-0.9zM400.3 157.8h0.9v0.9h-0.9zM395.1 148.1h0.9v0.9h-0.9zM396.6 158.2h0.9v0.9h-0.9zM384.7 161.4h0.9v0.9h-0.9zM408.3 162.4h0.9v0.9h-0.9zM388.8 171.8h0.9v0.9h-0.9zM396.3 160.9h0.9v0.9h-0.9zM403.8 168.1h0.9v0.9h-0.9zM407.5 151.1h0.9v0.9h-0.9zM391.2 158.2h0.9v0.9h-0.9zM395.3 147.3h0.9v0.9h-0.9zM395.9 145.1h0.9v0.9h-0.9zM390.4 156.5h0.9v0.9h-0.9zM395.7 162.2h0.9v0.9h-0.9zM389.1 162.4h0.9v0.9h-0.9zM396.0 158.1h0.9v0.9h-0.9zM394.2 154.0h0.9v0.9h-0.9zM405.7 172.7h0.9v0.9h-0.9zM395.7 172.2h0.9v0.9h-0.9zM388.3 153.9h0.9v0.9h-0.9zM391.9 163.5h0.9v0.9h-0.9zM391.9 149.9h0.9v0.9h-0.9zM384.3 148.1h0.9v0.9h-0.9zM400.1 163.8h0.9v0.9h-0.9zM384.9 177.5h0.9v0.9h-0.9zM390.9 154.4h0.9v0.9h-0.9zM392.9 159.4h0.9v0.9h-0.9zM391.5 158.7h0.9v0.9h-0.9zM399.0 168.1h0.9v0.9h-0.9zM389.6 157.4h0.9v0.9h-0.9zM389.1 154.7h0.9v0.9h-0.9zM393.4 155.9h0.9v0.9h-0.9zM397.9 149.8h0.9v0.9h-0.9zM396.5 166.3h0.9v0.9h-0.9zM392.0 155.8h0.9v0.9h-0.9zM397.9 155.3h0.9v0.9h-0.9zM391.9 161.1h0.9v0.9h-0.9zM378.0 165.9h0.9v0.9h-0.9zM395.6 164.8h0.9v0.9h-0.9zM385.1 154.9h0.9v0.9h-0.9zM396.8 164.5h0.9v0.9h-0.9zM390.2 154.5h0.9v0.9h-0.9zM403.9 161.7h0.9v0.9h-0.9zM402.0 145.7h0.9v0.9h-0.9zM396.8 153.5h0.9v0.9h-0.9zM390.8 171.6h0.9v0.9h-0.9zM387.2 149.7h0.9v0.9h-0.9zM389.5 156.6h0.9v0.9h-0.9zM394.2 163.2h0.9v0.9h-0.9zM402.0 163.7h0.9v0.9h-0.9zM405.4 169.6h0.9v0.9h-0.9zM397.5 157.6h0.9v0.9h-0.9zM402.9 156.0h0.9v0.9h-0.9zM400.4 159.4h0.9v0.9h-0.9zM390.4 165.6h0.9v0.9h-0.9zM398.4 162.1h0.9v0.9h-0.9zM401.0 160.2h0.9v0.9h-0.9zM389.3 159.8h0.9v0.9h-0.9zM406.0 149.5h0.9v0.9h-0.9zM382.3 159.0h0.9v0.9h-0.9zM387.4 172.3h0.9v0.9h-0.9zM395.1 149.8h0.9v0.9h-0.9zM393.6 149.7h0.9v0.9h-0.9zM397.1 168.2h0.9v0.9h-0.9zM401.8 169.4h0.9v0.9h-0.9zM393.9 170.7h0.9v0.9h-0.9zM397.2 146.4h0.9v0.9h-0.9zM402.8 150.3h0.9v0.9h-0.9zM390.2 143.6h0.9v0.9h-0.9zM388.7 138.1h0.9v0.9h-0.9zM386.1 150.8h0.9v0.9h-0.9zM386.4 155.2h0.9v0.9h-0.9zM399.1 156.0h0.9v0.9h-0.9zM396.8 170.0h0.9v0.9h-0.9zM390.1 173.7h0.9v0.9h-0.9zM393.7 158.5h0.9v0.9h-0.9zM396.3 172.4h0.9v0.9h-0.9zM386.2 168.2h0.9v0.9h-0.9zM390.9 159.9h0.9v0.9h-0.9zM387.5 134.0h0.9v0.9h-0.9zM401.5 166.5h0.9v0.9h-0.9zM387.2 150.0h0.9v0.9h-0.9zM386.3 158.6h0.9v0.9h-0.9zM407.2 157.6h0.9v0.9h-0.9zM383.1 166.3h0.9v0.9h-0.9zM388.2 143.3h0.9v0.9h-0.9zM396.5 159.0h0.9v0.9h-0.9zM395.1 166.1h0.9v0.9h-0.9zM400.2 138.4h0.9v0.9h-0.9zM395.1 170.4h0.9v0.9h-0.9zM402.0 148.8h0.9v0.9h-0.9zM382.2 148.0h0.9v0.9h-0.9zM396.5 157.0h0.9v0.9h-0.9zM399.3 157.2h0.9v0.9h-0.9zM385.8 148.0h0.9v0.9h-0.9zM392.5 167.2h0.9v0.9h-0.9zM403.5 149.1h0.9v0.9h-0.9zM396.9 158.3h0.9v0.9h-0.9zM386.5 147.3h0.9v0.9h-0.9zM404.1 154.7h0.9v0.9h-0.9zM393.4 163.5h0.9v0.9h-0.9zM396.3 165.9h0.9v0.9h-0.9zM388.8 155.2h0.9v0.9h-0.9zM395.6 162.4h0.9v0.9h-0.9zM389.3 142.1h0.9v0.9h-0.9zM399.6 167.4h0.9v0.9h-0.9zM400.1 157.8h0.9v0.9h-0.9zM382.4 155.1h0.9v0.9h-0.9zM407.1 162.0h0.9v0.9h-0.9zM395.6 142.9h0.9v0.9h-0.9zM389.8 168.7h0.9v0.9h-0.9zM396.2 157.7h0.9v0.9h-0.9zM402.1 166.1h0.9v0.9h-0.9zM397.5 157.3h0.9v0.9h-0.9zM396.7 169.3h0.9v0.9h-0.9zM396.0 146.5h0.9v0.9h-0.9zM392.9 156.2h0.9v0.9h-0.9zM396.7 171.6h0.9v0.9h-0.9zM393.5 154.7h0.9v0.9h-0.9zM398.8 163.7h0.9v0.9h-0.9zM389.0 163.6h0.9v0.9h-0.9zM395.2 162.4h0.9v0.9h-0.9zM384.2 139.4h0.9v0.9h-0.9zM384.3 142.3h0.9v0.9h-0.9zM400.3 168.9h0.9v0.9h-0.9zM385.7 173.5h0.9v0.9h-0.9zM386.7 151.0h0.9v0.9h-0.9zM407.9 146.2h0.9v0.9h-0.9zM398.5 167.1h0.9v0.9h-0.9zM401.2 165.6h0.9v0.9h-0.9zM395.6 174.3h0.9v0.9h-0.9zM393.5 160.0h0.9v0.9h-0.9zM396.6 155.6h0.9v0.9h-0.9zM393.1 171.0h0.9v0.9h-0.9zM404.5 165.0h0.9v0.9h-0.9zM393.3 154.1h0.9v0.9h-0.9zM391.5 155.4h0.9v0.9h-0.9zM391.2 158.2h0.9v0.9h-0.9zM392.6 169.7h0.9v0.9h-0.9zM384.9 155.0h0.9v0.9h-0.9zM399.3 155.0h0.9v0.9h-0.9zM391.4 164.5h0.9v0.9h-0.9zM393.5 149.5h0.9v0.9h-0.9zM395.0 165.3h0.9v0.9h-0.9zM383.1 168.1h0.9v0.9h-0.9zM383.0 166.0h0.9v0.9h-0.9zM385.6 161.4h0.9v0.9h-0.9zM393.8 169.3h0.9v0.9h-0.9zM393.6 154.9h0.9v0.9h-0.9zM389.2 161.2h0.9v0.9h-0.9zM392.5 167.8h0.9v0.9h-0.9zM396.7 171.4h0.9v0.9h-0.9zM398.6 160.9h0.9v0.9h-0.9zM393.6 165.3h0.9v0.9h-0.9zM399.0 145.9h0.9v0.9h-0.9zM396.6 155.5h0.9v0.9h-0.9zM396.1 167.0h0.9v0.9h-0.9zM381.7 158.0h0.9v0.9h-0.9zM400.5 141.9h0.9v0.9h-0.9zM395.5 159.3h0.9v0.9h-0.9zM390.4 168.1h0.9v0.9h-0.9zM400.0 159.4h0.9v0.9h-0.9zM403.2 173.6h0.9v0.9h-0.9zM395.4 167.5h0.9v0.9h-0.9zM399.7 176.3h0.9v0.9h-0.9zM399.3 166.0h0.9v0.9h-0.9zM394.9 166.4h0.9v0.9h-0.9zM404.3 158.5h0.9v0.9h-0.9zM393.5 149.7h0.9v0.9h-0.9zM410.7 155.3h0.9v0.9h-0.9zM390.9 153.6h0.9v0.9h-0.9zM401.8 162.8h0.9v0.9h-0.9zM381.1 160.7h0.9v0.9h-0.9zM406.0 158.8h0.9v0.9h-0.9zM392.6 157.2h0.9v0.9h-0.9zM397.0 143.2h0.9v0.9h-0.9zM393.3 157.2h0.9v0.9h-0.9zM399.0 155.7h0.9v0.9h-0.9zM395.1 146.7h0.9v0.9h-0.9zM386.1 159.9h0.9v0.9h-0.9zM404.8 149.7h0.9v0.9h-0.9zM384.0 171.0h0.9v0.9h-0.9zM396.7 167.3h0.9v0.9h-0.9zM393.1 161.8h0.9v0.9h-0.9zM393.7 159.4h0.9v0.9h-0.9zM405.8 155.4h0.9v0.9h-0.9zM391.7 159.5h0.9v0.9h-0.9zM393.1 176.2h0.9v0.9h-0.9zM393.2 163.3h0.9v0.9h-0.9zM386.3 164.8h0.9v0.9h-0.9zM398.4 165.9h0.9v0.9h-0.9zM383.9 153.2h0.9v0.9h-0.9zM377.3 176.0h0.9v0.9h-0.9zM393.6 175.6h0.9v0.9h-0.9zM406.7 169.6h0.9v0.9h-0.9zM390.2 157.3h0.9v0.9h-0.9zM399.3 140.0h0.9v0.9h-0.9zM403.2 174.1h0.9v0.9h-0.9zM399.9 156.6h0.9v0.9h-0.9zM396.6 143.6h0.9v0.9h-0.9zM388.1 155.0h0.9v0.9h-0.9zM389.4 176.0h0.9v0.9h-0.9zM397.2 135.4h0.9v0.9h-0.9zM401.7 164.4h0.9v0.9h-0.9zM392.7 152.3h0.9v0.9h-0.9zM407.6 161.8h0.9v0.9h-0.9zM396.0 143.5h0.9v0.9h-0.9zM390.5 168.3h0.9v0.9h-0.9zM395.1 154.9h0.9v0.9h-0.9zM392.3 143.6h0.9v0.9h-0.9zM378.4 164.7h0.9v0.9h-0.9zM384.9 143.7h0.9v0.9h-0.9zM396.3 168.6h0.9v0.9h-0.9zM392.0 170.3h0.9v0.9h-0.9zM394.5 128.2h0.9v0.9h-0.9zM404.8 148.5h0.9v0.9h-0.9zM404.4 156.5h0.9v0.9h-0.9zM393.8 154.6h0.9v0.9h-0.9zM387.7 165.4h0.9v0.9h-0.9zM405.0 172.2h0.9v0.9h-0.9zM390.6 164.4h0.9v0.9h-0.9zM401.0 165.1h0.9v0.9h-0.9zM389.4 151.1h0.9v0.9h-0.9zM395.1 161.6h0.9v0.9h-0.9zM390.6 146.3h0.9v0.9h-0.9zM386.3 159.4h0.9v0.9h-0.9zM382.0 170.6h0.9v0.9h-0.9zM398.4 161.5h0.9v0.9h-0.9zM395.5 150.6h0.9v0.9h-0.9zM390.6 168.3h0.9v0.9h-0.9zM390.9 175.2h0.9v0.9h-0.9zM400.8 166.2h0.9v0.9h-0.9zM392.7 150.1h0.9v0.9h-0.9zM393.2 149.7h0.9v0.9h-0.9zM391.8 155.8h0.9v0.9h-0.9zM390.6 170.7h0.9v0.9h-0.9zM388.5 151.8h0.9v0.9h-0.9zM401.9 161.9h0.9v0.9h-0.9zM397.4 153.0h0.9v0.9h-0.9zM396.3 172.5h0.9v0.9h-0.9zM394.3 163.6h0.9v0.9h-0.9zM402.1 165.3h0.9v0.9h-0.9zM402.2 147.4h0.9v0.9h-0.9zM382.8 148.1h0.9v0.9h-0.9zM397.0 152.6h0.9v0.9h-0.9zM381.1 177.4h0.9v0.9h-0.9zM402.7 153.9h0.9v0.9h-0.9zM389.9 152.3h0.9v0.9h-0.9zM398.9 163.8h0.9v0.9h-0.9zM395.1 173.0h0.9v0.9h-0.9zM388.9 147.3h0.9v0.9h-0.9zM394.2 158.8h0.9v0.9h-0.9zM394.8 163.4h0.9v0.9h-0.9zM384.2 175.2h0.9v0.9h-0.9zM382.6 162.6h0.9v0.9h-0.9zM396.5 167.5h0.9v0.9h-0.9zM395.6 151.1h0.9v0.9h-0.9zM392.9 145.6h0.9v0.9h-0.9zM393.1 157.0h0.9v0.9h-0.9zM390.3 164.7h0.9v0.9h-0.9zM402.7 158.9h0.9v0.9h-0.9zM391.5 148.2h0.9v0.9h-0.9zM389.4 152.0h0.9v0.9h-0.9zM393.2 167.2h0.9v0.9h-0.9zM395.4 174.2h0.9v0.9h-0.9zM396.8 161.6h0.9v0.9h-0.9zM374.3 157.7h0.9v0.9h-0.9zM395.9 144.4h0.9v0.9h-0.9zM393.8 152.2h0.9v0.9h-0.9zM392.8 158.9h0.9v0.9h-0.9zM392.3 158.7h0.9v0.9h-0.9zM396.5 162.4h0.9v0.9h-0.9zM389.8 168.4h0.9v0.9h-0.9zM394.5 162.9h0.9v0.9h-0.9zM405.5 175.9h0.9v0.9h-0.9zM408.3 156.9h0.9v0.9h-0.9zM396.9 164.1h0.9v0.9h-0.9zM394.8 157.8h0.9v0.9h-0.9zM399.6 170.6h0.9v0.9h-0.9zM408.4 153.9h0.9v0.9h-0.9zM397.2 151.8h0.9v0.9h-0.9zM392.4 135.6h0.9v0.9h-0.9zM408.0 143.3h0.9v0.9h-0.9zM394.9 141.5h0.9v0.9h-0.9zM392.0 149.0h0.9v0.9h-0.9zM380.6 148.8h0.9v0.9h-0.9zM392.7 158.0h0.9v0.9h-0.9zM381.6 165.6h0.9v0.9h-0.9zM392.1 147.9h0.9v0.9h-0.9zM404.0 152.2h0.9v0.9h-0.9zM395.6 174.3h0.9v0.9h-0.9zM394.5 158.2h0.9v0.9h-0.9zM400.4 154.9h0.9v0.9h-0.9zM394.6 157.7h0.9v0.9h-0.9zM391.6 166.7h0.9v0.9h-0.9zM395.9 173.3h0.9v0.9h-0.9zM396.7 145.1h0.9v0.9h-0.9zM396.7 156.4h0.9v0.9h-0.9zM392.5 168.9h0.9v0.9h-0.9zM396.8 143.2h0.9v0.9h-0.9zM407.2 157.8h0.9v0.9h-0.9zM383.5 155.9h0.9v0.9h-0.9zM397.3 148.0h0.9v0.9h-0.9zM388.5 141.3h0.9v0.9h-0.9zM395.9 153.9h0.9v0.9h-0.9zM404.0 161.9h0.9v0.9h-0.9zM395.7 153.1h0.9v0.9h-0.9zM400.5 145.4h0.9v0.9h-0.9zM395.9 164.0h0.9v0.9h-0.9zM389.0 147.3h0.9v0.9h-0.9zM401.6 177.4h0.9v0.9h-0.9zM396.6 177.5h0.9v0.9h-0.9zM397.1 157.3h0.9v0.9h-0.9zM391.5 147.0h0.9v0.9h-0.9zM400.1 153.5h0.9v0.9h-0.9zM390.0 162.8h0.9v0.9h-0.9zM397.3 151.8h0.9v0.9h-0.9zM395.5 157.6h0.9v0.9h-0.9zM395.0 157.7h0.9v0.9h-0.9zM391.4 134.9h0.9v0.9h-0.9zM390.2 171.0h0.9v0.9h-0.9zM392.0 160.9h0.9v0.9h-0.9zM398.0 149.1h0.9v0.9h-0.9zM394.6 156.4h0.9v0.9h-0.9zM396.4 165.2h0.9v0.9h-0.9zM394.6 157.0h0.9v0.9h-0.9zM400.3 160.4h0.9v0.9h-0.9zM384.5 171.7h0.9v0.9h-0.9zM397.0 153.3h0.9v0.9h-0.9zM393.7 149.6h0.9v0.9h-0.9zM395.0 144.4h0.9v0.9h-0.9zM400.6 163.8h0.9v0.9h-0.9zM387.6 164.1h0.9v0.9h-0.9zM384.6 153.8h0.9v0.9h-0.9zM387.6 166.0h0.9v0.9h-0.9zM398.6 145.6h0.9v0.9h-0.9zM395.2 164.1h0.9v0.9h-0.9zM383.9 172.4h0.9v0.9h-0.9zM403.8 155.6h0.9v0.9h-0.9zM386.7 171.1h0.9v0.9h-0.9zM378.0 158.7h0.9v0.9h-0.9zM384.8 158.9h0.9v0.9h-0.9zM390.3 146.1h0.9v0.9h-0.9zM397.7 170.7h0.9v0.9h-0.9zM385.2 165.6h0.9v0.9h-0.9zM394.7 152.3h0.9v0.9h-0.9zM390.6 164.6h0.9v0.9h-0.9zM401.3 156.2h0.9v0.9h-0.9zM378.0 167.0h0.9v0.9h-0.9zM396.6 139.6h0.9v0.9h-0.9zM390.6 158.9h0.9v0.9h-0.9zM392.1 162.0h0.9v0.9h-0.9zM388.2 165.4h0.9v0.9h-0.9zM376.2 162.5h0.9v0.9h-0.9zM390.2 157.8h0.9v0.9h-0.9zM398.2 172.6h0.9v0.9h-0.9zM387.4 158.0h0.9v0.9h-0.9zM387.3 159.4h0.9v0.9h-0.9zM390.2 147.0h0.9v0.9h-0.9zM401.3 162.5h0.9v0.9h-0.9zM394.0 172.2h0.9v0.9h-0.9zM383.3 162.9h0.9v0.9h-0.9zM404.4 155.4h0.9v0.9h-0.9zM388.3 151.0h0.9v0.9h-0.9zM402.0 169.6h0.9v0.9h-0.9zM396.1 168.2h0.9v0.9h-0.9zM389.6 155.0h0.9v0.9h-0.9zM399.3 149.5h0.9v0.9h-0.9zM395.4 158.6h0.9v0.9h-0.9zM388.4 161.0h0.9v0.9h-0.9zM385.6 152.4h0.9v0.9h-0.9zM381.0 146.2h0.9v0.9h-0.9zM388.2 162.5h0.9v0.9h-0.9zM394.0 146.3h0.9v0.9h-0.9zM394.4 162.9h0.9v0.9h-0.9zM380.1 153.8h0.9v0.9h-0.9zM401.3 144.4h0.9v0.9h-0.9zM388.0 151.3h0.9v0.9h-0.9zM393.0 164.8h0.9v0.9h-0.9zM382.5 165.6h0.9v0.9h-0.9zM376.7 149.6h0.9v0.9h-0.9zM396.5 147.1h0.9v0.9h-0.9zM388.3 153.4h0.9v0.9h-0.9zM404.3 148.6h0.9v0.9h-0.9zM400.1 178.4h0.9v0.9h-0.9zM391.3 150.5h0.9v0.9h-0.9zM393.8 148.5h0.9v0.9h-0.9zM391.3 147.9h0.9v0.9h-0.9zM384.0 142.5h0.9v0.9h-0.9zM399.7 151.7h0.9v0.9h-0.9zM386.2 169.3h0.9v0.9h-0.9zM392.6 155.1h0.9v0.9h-0.9zM388.7 158.5h0.9v0.9h-0.9zM391.6 154.2h0.9v0.9h-0.9zM392.5 166.3h0.9v0.9h-0.9zM392.4 171.7h0.9v0.9h-0.9zM400.1 148.2h0.9v0.9h-0.9zM387.3 145.5h0.9v0.9h-0.9zM388.7 165.7h0.9v0.9h-0.9zM391.4 153.5h0.9v0.9h-0.9zM394.3 136.5h0.9v0.9h-0.9zM395.7 156.5h0.9v0.9h-0.9zM398.0 155.4h0.9v0.9h-0.9zM400.2 169.1h0.9v0.9h-0.9zM391.7 164.2h0.9v0.9h-0.9zM387.7 151.2h0.9v0.9h-0.9zM386.4 156.3h0.9v0.9h-0.9zM385.6 147.4h0.9v0.9h-0.9zM392.1 143.6h0.9v0.9h-0.9zM397.4 149.0h0.9v0.9h-0.9zM392.0 155.2h0.9v0.9h-0.9zM400.2 164.4h0.9v0.9h-0.9zM392.0 152.4h0.9v0.9h-0.9zM399.2 156.9h0.9v0.9h-0.9zM386.7 159.6h0.9v0.9h-0.9zM397.7 157.9h0.9v0.9h-0.9zM393.9 173.2h0.9v0.9h-0.9zM390.1 166.0h0.9v0.9h-0.9zM403.8 175.4h0.9v0.9h-0.9zM386.0 163.7h0.9v0.9h-0.9zM401.9 168.5h0.9v0.9h-0.9zM401.3 163.9h0.9v0.9h-0.9zM382.5 166.2h0.9v0.9h-0.9zM398.7 160.3h0.9v0.9h-0.9zM400.2 158.2h0.9v0.9h-0.9zM398.9 160.8h0.9v0.9h-0.9zM388.8 168.3h0.9v0.9h-0.9zM389.9 164.8h0.9v0.9h-0.9zM386.8 160.8h0.9v0.9h-0.9zM397.2 170.0h0.9v0.9h-0.9zM386.5 152.9h0.9v0.9h-0.9zM393.6 148.0h0.9v0.9h-0.9zM398.1 164.7h0.9v0.9h-0.9zM388.2 164.1h0.9v0.9h-0.9zM397.1 178.3h0.9v0.9h-0.9zM391.3 170.9h0.9v0.9h-0.9zM391.3 155.6h0.9v0.9h-0.9zM390.9 161.2h0.9v0.9h-0.9zM383.8 154.7h0.9v0.9h-0.9zM403.4 140.2h0.9v0.9h-0.9zM399.5 166.2h0.9v0.9h-0.9zM390.8 150.6h0.9v0.9h-0.9zM401.1 155.0h0.9v0.9h-0.9zM395.7 156.3h0.9v0.9h-0.9zM386.3 168.9h0.9v0.9h-0.9zM398.0 149.0h0.9v0.9h-0.9zM400.9 145.9h0.9v0.9h-0.9zM385.3 167.1h0.9v0.9h-0.9zM390.8 158.5h0.9v0.9h-0.9zM404.1 147.6h0.9v0.9h-0.9zM397.7 154.4h0.9v0.9h-0.9zM394.3 156.2h0.9v0.9h-0.9zM388.5 159.0h0.9v0.9h-0.9zM387.6 158.7h0.9v0.9h-0.9zM387.4 155.7h0.9v0.9h-0.9zM394.5 144.4h0.9v0.9h-0.9zM393.2 165.5h0.9v0.9h-0.9zM394.4 167.9h0.9v0.9h-0.9zM387.1 164.4h0.9v0.9h-0.9zM395.7 130.7h0.9v0.9h-0.9zM393.6 167.3h0.9v0.9h-0.9zM393.2 158.9h0.9v0.9h-0.9zM392.8 156.9h0.9v0.9h-0.9zM386.8 151.6h0.9v0.9h-0.9zM393.5 160.7h0.9v0.9h-0.9zM397.8 163.6h0.9v0.9h-0.9zM393.2 142.6h0.9v0.9h-0.9zM385.8 175.5h0.9v0.9h-0.9zM396.4 165.2h0.9v0.9h-0.9zM386.8 153.7h0.9v0.9h-0.9zM395.4 150.7h0.9v0.9h-0.9zM401.5 150.8h0.9v0.9h-0.9zM390.8 146.9h0.9v0.9h-0.9zM396.0 171.5h0.9v0.9h-0.9zM395.1 158.4h0.9v0.9h-0.9zM391.3 166.5h0.9v0.9h-0.9zM393.7 176.2h0.9v0.9h-0.9zM391.9 154.7h0.9v0.9h-0.9zM390.2 139.3h0.9v0.9h-0.9zM395.2 159.8h0.9v0.9h-0.9zM383.2 146.7h0.9v0.9h-0.9zM386.7 155.3h0.9v0.9h-0.9zM387.0 166.2h0.9v0.9h-0.9zM401.5 151.9h0.9v0.9h-0.9zM393.8 147.8h0.9v0.9h-0.9zM402.3 147.6h0.9v0.9h-0.9zM388.5 158.5h0.9v0.9h-0.9zM392.4 156.0h0.9v0.9h-0.9zM387.2 157.6h0.9v0.9h-0.9zM389.7 154.3h0.9v0.9h-0.9zM400.2 152.5h0.9v0.9h-0.9zM396.4 152.2h0.9v0.9h-0.9zM400.2 150.8h0.9v0.9h-0.9zM387.3 156.0h0.9v0.9h-0.9zM401.8 154.4h0.9v0.9h-0.9zM388.0 157.0h0.9v0.9h-0.9zM389.0 161.1h0.9v0.9h-0.9zM389.2 161.7h0.9v0.9h-0.9zM399.5 163.4h0.9v0.9h-0.9zM403.5 161.5h0.9v0.9h-0.9zM405.7 171.2h0.9v0.9h-0.9zM391.9 166.3h0.9v0.9h-0.9zM388.9 156.5h0.9v0.9h-0.9zM393.1 150.6h0.9v0.9h-0.9zM395.7 157.6h0.9v0.9h-0.9zM406.6 166.2h0.9v0.9h-0.9zM392.1 151.8h0.9v0.9h-0.9zM390.2 151.6h0.9v0.9h-0.9zM388.8 158.6h0.9v0.9h-0.9zM384.9 155.4h0.9v0.9h-0.9zM396.8 152.7h0.9v0.9h-0.9zM386.4 153.5h0.9v0.9h-0.9zM399.2 150.9h0.9v0.9h-0.9zM403.7 141.9h0.9v0.9h-0.9zM388.4 164.6h0.9v0.9h-0.9zM402.4 156.5h0.9v0.9h-0.9zM382.9 155.7h0.9v0.9h-0.9zM387.8 151.6h0.9v0.9h-0.9zM391.2 152.5h0.9v0.9h-0.9zM393.4 159.9h0.9v0.9h-0.9zM391.8 140.7h0.9v0.9h-0.9zM392.5 132.4h0.9v0.9h-0.9zM394.1 154.2h0.9v0.9h-0.9zM404.4 171.8h0.9v0.9h-0.9zM395.1 153.6h0.9v0.9h-0.9zM396.7 174.7h0.9v0.9h-0.9zM393.1 157.0h0.9v0.9h-0.9zM389.9 157.8h0.9v0.9h-0.9zM399.1 149.4h0.9v0.9h-0.9zM400.5 159.8h0.9v0.9h-0.9zM408.1 160.4h0.9v0.9h-0.9zM401.9 148.6h0.9v0.9h-0.9zM409.3 159.3h0.9v0.9h-0.9zM393.2 173.4h0.9v0.9h-0.9zM394.7 146.3h0.9v0.9h-0.9zM397.6 164.0h0.9v0.9h-0.9zM393.6 153.9h0.9v0.9h-0.9zM383.2 175.3h0.9v0.9h-0.9zM390.9 162.1h0.9v0.9h-0.9zM390.5 151.5h0.9v0.9h-0.9zM395.5 149.8h0.9v0.9h-0.9zM399.8 142.6h0.9v0.9h-0.9zM397.6 170.3h0.9v0.9h-0.9zM390.9 160.7h0.9v0.9h-0.9zM399.1 154.2h0.9v0.9h-0.9zM392.2 156.7h0.9v0.9h-0.9zM411.4 150.4h0.9v0.9h-0.9zM392.6 154.2h0.9v0.9h-0.9zM390.2 149.4h0.9v0.9h-0.9zM389.5 160.2h0.9v0.9h-0.9zM401.3 174.7h0.9v0.9h-0.9zM385.5 148.9h0.9v0.9h-0.9zM393.5 148.9h0.9v0.9h-0.9zM388.7 156.4h0.9v0.9h-0.9zM390.1 150.2h0.9v0.9h-0.9zM395.1 150.9h0.9v0.9h-0.9zM392.0 161.8h0.9v0.9h-0.9zM398.4 160.7h0.9v0.9h-0.9zM400.8 160.1h0.9v0.9h-0.9zM384.2 173.2h0.9v0.9h-0.9zM412.2 166.7h0.9v0.9h-0.9zM404.1 169.6h0.9v0.9h-0.9zM390.9 164.8h0.9v0.9h-0.9zM389.3 153.0h0.9v0.9h-0.9zM397.4 159.5h0.9v0.9h-0.9zM389.5 144.6h0.9v0.9h-0.9zM399.0 158.7h0.9v0.9h-0.9zM394.7 149.9h0.9v0.9h-0.9zM388.8 158.2h0.9v0.9h-0.9zM381.8 170.7h0.9v0.9h-0.9zM393.9 169.5h0.9v0.9h-0.9zM400.0 153.0h0.9v0.9h-0.9zM397.1 147.6h0.9v0.9h-0.9zM387.9 171.9h0.9v0.9h-0.9zM390.4 151.0h0.9v0.9h-0.9zM396.9 158.9h0.9v0.9h-0.9zM400.1 146.1h0.9v0.9h-0.9zM392.2 148.0h0.9v0.9h-0.9zM394.0 156.0h0.9v0.9h-0.9zM387.7 141.4h0.9v0.9h-0.9zM385.1 168.0h0.9v0.9h-0.9zM391.4 147.9h0.9v0.9h-0.9zM394.9 147.6h0.9v0.9h-0.9zM399.8 167.3h0.9v0.9h-0.9zM394.1 153.0h0.9v0.9h-0.9zM382.0 163.5h0.9v0.9h-0.9zM406.9 160.7h0.9v0.9h-0.9zM390.3 166.6h0.9v0.9h-0.9zM391.3 146.6h0.9v0.9h-0.9zM393.1 164.7h0.9v0.9h-0.9zM382.0 169.0h0.9v0.9h-0.9zM404.3 158.5h0.9v0.9h-0.9zM390.7 144.6h0.9v0.9h-0.9zM397.3 156.0h0.9v0.9h-0.9zM401.7 174.2h0.9v0.9h-0.9zM401.8 160.5h0.9v0.9h-0.9zM382.1 171.8h0.9v0.9h-0.9zM390.7 154.0h0.9v0.9h-0.9zM400.8 163.5h0.9v0.9h-0.9zM387.1 155.4h0.9v0.9h-0.9zM392.0 157.3h0.9v0.9h-0.9zM386.2 173.5h0.9v0.9h-0.9zM393.0 165.3h0.9v0.9h-0.9zM398.5 151.5h0.9v0.9h-0.9zM391.0 167.4h0.9v0.9h-0.9zM404.5 144.3h0.9v0.9h-0.9zM406.2 153.2h0.9v0.9h-0.9zM392.6 154.5h0.9v0.9h-0.9zM397.7 156.8h0.9v0.9h-0.9zM393.6 149.6h0.9v0.9h-0.9zM403.3 162.3h0.9v0.9h-0.9zM398.1 172.5h0.9v0.9h-0.9zM392.1 160.2h0.9v0.9h-0.9zM392.9 167.4h0.9v0.9h-0.9zM395.7 142.0h0.9v0.9h-0.9zM397.6 156.6h0.9v0.9h-0.9zM395.5 168.4h0.9v0.9h-0.9zM392.1 165.1h0.9v0.9h-0.9zM394.0 157.9h0.9v0.9h-0.9zM390.6 157.8h0.9v0.9h-0.9zM391.9 166.7h0.9v0.9h-0.9zM379.1 164.5h0.9v0.9h-0.9zM393.4 148.4h0.9v0.9h-0.9zM399.0 158.5h0.9v0.9h-0.9zM397.5 172.2h0.9v0.9h-0.9zM395.3 143.1h0.9v0.9h-0.9zM383.6 158.3h0.9v0.9h-0.9zM393.3 141.1h0.9v0.9h-0.9zM379.9 153.5h0.9v0.9h-0.9zM378.3 163.7h0.9v0.9h-0.9zM379.0 167.5h0.9v0.9h-0.9zM390.8 170.0h0.9v0.9h-0.9zM386.4 154.3h0.9v0.9h-0.9zM401.0 142.8h0.9v0.9h-0.9zM398.2 173.2h0.9v0.9h-0.9zM387.5 157.4h0.9v0.9h-0.9zM404.6 173.6h0.9v0.9h-0.9zM404.4 157.9h0.9v0.9h-0.9zM391.6 157.2h0.9v0.9h-0.9zM391.5 167.1h0.9v0.9h-0.9zM399.4 164.0h0.9v0.9h-0.9zM389.5 166.7h0.9v0.9h-0.9zM397.1 161.2h0.9v0.9h-0.9zM401.9 155.2h0.9v0.9h-0.9zM394.8 169.9h0.9v0.9h-0.9zM389.1 167.7h0.9v0.9h-0.9zM398.7 173.8h0.9v0.9h-0.9zM402.3 153.2h0.9v0.9h-0.9zM405.6 154.4h0.9v0.9h-0.9zM386.3 156.2h0.9v0.9h-0.9zM391.7 150.1h0.9v0.9h-0.9zM400.3 164.1h0.9v0.9h-0.9zM398.0 145.3h0.9v0.9h-0.9zM405.8 163.6h0.9v0.9h-0.9zM401.5 162.5h0.9v0.9h-0.9zM396.4 166.6h0.9v0.9h-0.9zM395.1 172.7h0.9v0.9h-0.9zM390.7 138.9h0.9v0.9h-0.9zM391.7 158.9h0.9v0.9h-0.9zM396.7 160.0h0.9v0.9h-0.9zM396.8 163.5h0.9v0.9h-0.9zM392.9 164.5h0.9v0.9h-0.9zM397.6 151.4h0.9v0.9h-0.9zM382.7 161.3h0.9v0.9h-0.9zM397.2 169.7h0.9v0.9h-0.9zM401.2 161.9h0.9v0.9h-0.9zM401.6 153.4h0.9v0.9h-0.9zM391.0 172.4h0.9v0.9h-0.9zM386.4 158.9h0.9v0.9h-0.9zM387.3 147.1h0.9v0.9h-0.9zM407.8 141.6h0.9v0.9h-0.9zM405.5 154.6h0.9v0.9h-0.9zM389.2 142.6h0.9v0.9h-0.9zM395.5 165.2h0.9v0.9h-0.9zM397.8 150.1h0.9v0.9h-0.9zM404.7 161.1h0.9v0.9h-0.9zM397.4 165.0h0.9v0.9h-0.9zM397.7 155.9h0.9v0.9h-0.9zM396.4 152.0h0.9v0.9h-0.9zM395.7 149.6h0.9v0.9h-0.9zM384.9 153.2h0.9v0.9h-0.9zM393.1 152.3h0.9v0.9h-0.9zM392.1 153.7h0.9v0.9h-0.9zM394.4 176.3h0.9v0.9h-0.9zM397.9 167.5h0.9v0.9h-0.9zM400.5 167.7h0.9v0.9h-0.9zM396.8 167.4h0.9v0.9h-0.9zM401.0 157.6h0.9v0.9h-0.9zM392.3 159.0h0.9v0.9h-0.9zM393.8 163.7h0.9v0.9h-0.9zM391.3 155.0h0.9v0.9h-0.9zM395.6 164.0h0.9v0.9h-0.9zM393.4 144.5h0.9v0.9h-0.9zM392.5 167.4h0.9v0.9h-0.9zM392.7 171.4h0.9v0.9h-0.9zM390.9 156.7h0.9v0.9h-0.9zM399.2 170.5h0.9v0.9h-0.9zM392.2 173.5h0.9v0.9h-0.9zM395.3 163.1h0.9v0.9h-0.9zM405.6 167.4h0.9v0.9h-0.9zM392.7 158.5h0.9v0.9h-0.9zM388.3 170.1h0.9v0.9h-0.9zM396.4 177.5h0.9v0.9h-0.9zM401.9 159.4h0.9v0.9h-0.9zM390.3 156.1h0.9v0.9h-0.9zM402.1 158.0h0.9v0.9h-0.9zM401.4 171.3h0.9v0.9h-0.9zM403.7 161.7h0.9v0.9h-0.9zM398.7 146.7h0.9v0.9h-0.9zM396.3 159.5h0.9v0.9h-0.9zM400.1 142.0h0.9v0.9h-0.9zM395.2 154.6h0.9v0.9h-0.9zM394.8 157.9h0.9v0.9h-0.9zM392.0 165.1h0.9v0.9h-0.9zM395.9 170.4h0.9v0.9h-0.9zM410.2 166.4h0.9v0.9h-0.9zM396.4 173.7h0.9v0.9h-0.9zM385.3 176.9h0.9v0.9h-0.9zM386.9 154.7h0.9v0.9h-0.9zM394.5 146.2h0.9v0.9h-0.9zM390.2 160.9h0.9v0.9h-0.9zM396.8 145.6h0.9v0.9h-0.9zM375.1 165.8h0.9v0.9h-0.9zM383.6 162.7h0.9v0.9h-0.9zM397.2 167.1h0.9v0.9h-0.9zM390.6 153.3h0.9v0.9h-0.9zM413.8 158.3h0.9v0.9h-0.9zM387.7 146.4h0.9v0.9h-0.9zM392.5 176.0h0.9v0.9h-0.9zM398.6 150.5h0.9v0.9h-0.9zM385.3 153.2h0.9v0.9h-0.9zM394.0 162.1h0.9v0.9h-0.9zM397.3 170.1h0.9v0.9h-0.9zM385.6 144.1h0.9v0.9h-0.9zM393.6 165.0h0.9v0.9h-0.9zM390.6 161.9h0.9v0.9h-0.9zM393.6 170.6h0.9v0.9h-0.9zM392.8 154.7h0.9v0.9h-0.9zM397.4 169.0h0.9v0.9h-0.9zM390.0 158.2h0.9v0.9h-0.9zM389.5 148.1h0.9v0.9h-0.9zM409.7 153.3h0.9v0.9h-0.9zM392.1 155.9h0.9v0.9h-0.9zM388.9 157.9h0.9v0.9h-0.9zM393.5 162.9h0.9v0.9h-0.9zM390.6 145.4h0.9v0.9h-0.9zM393.3 166.2h0.9v0.9h-0.9zM402.2 158.4h0.9v0.9h-0.9zM392.4 151.9h0.9v0.9h-0.9zM403.7 153.4h0.9v0.9h-0.9zM390.8 158.7h0.9v0.9h-0.9zM392.7 159.9h0.9v0.9h-0.9zM396.8 175.9h0.9v0.9h-0.9zM397.4 163.4h0.9v0.9h-0.9zM397.5 167.9h0.9v0.9h-0.9zM392.1 158.4h0.9v0.9h-0.9zM391.7 157.5h0.9v0.9h-0.9zM391.6 167.0h0.9v0.9h-0.9zM401.0 158.8h0.9v0.9h-0.9zM392.2 167.5h0.9v0.9h-0.9zM392.8 164.7h0.9v0.9h-0.9zM390.0 173.0h0.9v0.9h-0.9zM391.2 164.8h0.9v0.9h-0.9zM405.1 163.2h0.9v0.9h-0.9zM392.5 166.6h0.9v0.9h-0.9zM403.9 137.5h0.9v0.9h-0.9zM391.7 157.8h0.9v0.9h-0.9zM399.7 144.5h0.9v0.9h-0.9zM399.3 159.9h0.9v0.9h-0.9zM397.8 149.2h0.9v0.9h-0.9zM395.0 165.1h0.9v0.9h-0.9zM387.5 131.3h0.9v0.9h-0.9zM393.7 157.1h0.9v0.9h-0.9zM398.5 159.9h0.9v0.9h-0.9zM385.6 137.2h0.9v0.9h-0.9zM401.2 168.9h0.9v0.9h-0.9zM393.3 156.8h0.9v0.9h-0.9zM398.6 154.0h0.9v0.9h-0.9zM385.9 171.6h0.9v0.9h-0.9zM385.2 155.2h0.9v0.9h-0.9zM402.5 164.0h0.9v0.9h-0.9zM401.2 174.0h0.9v0.9h-0.9zM395.4 144.7h0.9v0.9h-0.9zM383.1 137.4h0.9v0.9h-0.9zM398.9 145.1h0.9v0.9h-0.9zM393.3 160.2h0.9v0.9h-0.9zM396.4 159.0h0.9v0.9h-0.9zM402.4 162.6h0.9v0.9h-0.9zM401.0 158.5h0.9v0.9h-0.9zM394.3 160.9h0.9v0.9h-0.9zM397.3 167.1h0.9v0.9h-0.9zM391.0 165.4h0.9v0.9h-0.9zM412.0 132.6h0.9v0.9h-0.9zM398.3 158.1h0.9v0.9h-0.9zM392.7 153.3h0.9v0.9h-0.9zM386.6 161.8h0.9v0.9h-0.9zM389.5 175.1h0.9v0.9h-0.9zM396.2 176.7h0.9v0.9h-0.9zM394.9 145.0h0.9v0.9h-0.9zM396.9 161.3h0.9v0.9h-0.9zM399.7 135.3h0.9v0.9h-0.9zM394.6 173.8h0.9v0.9h-0.9zM394.7 138.9h0.9v0.9h-0.9zM396.9 164.1h0.9v0.9h-0.9zM403.2 164.9h0.9v0.9h-0.9zM387.7 171.0h0.9v0.9h-0.9zM398.7 171.3h0.9v0.9h-0.9zM393.0 169.6h0.9v0.9h-0.9zM380.5 145.8h0.9v0.9h-0.9zM398.1 175.3h0.9v0.9h-0.9zM397.9 160.9h0.9v0.9h-0.9zM393.1 155.1h0.9v0.9h-0.9zM401.4 141.4h0.9v0.9h-0.9zM395.9 174.4h0.9v0.9h-0.9zM383.4 136.8h0.9v0.9h-0.9zM387.8 159.3h0.9v0.9h-0.9zM397.7 153.5h0.9v0.9h-0.9zM399.3 154.1h0.9v0.9h-0.9zM383.7 169.5h0.9v0.9h-0.9zM394.2 152.6h0.9v0.9h-0.9zM383.5 133.9h0.9v0.9h-0.9zM387.3 166.5h0.9v0.9h-0.9zM388.2 145.8h0.9v0.9h-0.9zM389.1 165.2h0.9v0.9h-0.9zM398.0 171.6h0.9v0.9h-0.9zM388.5 174.4h0.9v0.9h-0.9zM404.6 163.6h0.9v0.9h-0.9zM401.0 176.0h0.9v0.9h-0.9zM396.7 150.6h0.9v0.9h-0.9zM397.6 163.0h0.9v0.9h-0.9zM394.5 156.9h0.9v0.9h-0.9zM402.3 159.7h0.9v0.9h-0.9zM386.1 162.6h0.9v0.9h-0.9zM400.7 143.0h0.9v0.9h-0.9zM405.3 178.7h0.9v0.9h-0.9zM386.9 161.9h0.9v0.9h-0.9zM396.8 165.0h0.9v0.9h-0.9zM396.1 166.5h0.9v0.9h-0.9zM389.2 156.9h0.9v0.9h-0.9zM393.6 163.8h0.9v0.9h-0.9zM407.0 168.3h0.9v0.9h-0.9zM387.4 163.1h0.9v0.9h-0.9zM405.3 160.4h0.9v0.9h-0.9zM399.2 161.2h0.9v0.9h-0.9zM386.9 160.0h0.9v0.9h-0.9zM391.6 146.5h0.9v0.9h-0.9zM393.3 155.5h0.9v0.9h-0.9zM392.6 166.7h0.9v0.9h-0.9zM387.3 160.2h0.9v0.9h-0.9zM396.7 162.3h0.9v0.9h-0.9zM396.0 160.3h0.9v0.9h-0.9zM383.9 138.4h0.9v0.9h-0.9zM390.4 155.3h0.9v0.9h-0.9zM388.2 151.5h0.9v0.9h-0.9zM391.6 176.7h0.9v0.9h-0.9zM393.5 167.5h0.9v0.9h-0.9zM398.6 161.1h0.9v0.9h-0.9zM400.6 153.7h0.9v0.9h-0.9zM393.0 147.5h0.9v0.9h-0.9zM393.4 168.3h0.9v0.9h-0.9zM388.4 158.5h0.9v0.9h-0.9zM392.5 158.8h0.9v0.9h-0.9zM391.6 162.2h0.9v0.9h-0.9zM386.1 160.7h0.9v0.9h-0.9zM405.2 148.2h0.9v0.9h-0.9zM399.5 152.3h0.9v0.9h-0.9zM390.5 177.6h0.9v0.9h-0.9zM398.7 165.6h0.9v0.9h-0.9zM405.0 165.9h0.9v0.9h-0.9zM393.5 136.2h0.9v0.9h-0.9zM398.9 176.5h0.9v0.9h-0.9zM391.4 147.1h0.9v0.9h-0.9zM383.0 165.3h0.9v0.9h-0.9zM378.5 163.1h0.9v0.9h-0.9zM399.5 154.7h0.9v0.9h-0.9zM387.3 156.4h0.9v0.9h-0.9zM404.4 147.6h0.9v0.9h-0.9zM389.0 164.6h0.9v0.9h-0.9zM390.1 172.5h0.9v0.9h-0.9zM389.4 147.0h0.9v0.9h-0.9zM384.4 157.0h0.9v0.9h-0.9zM401.4 159.4h0.9v0.9h-0.9zM390.3 143.8h0.9v0.9h-0.9zM395.8 152.4h0.9v0.9h-0.9zM409.3 147.3h0.9v0.9h-0.9zM385.2 146.3h0.9v0.9h-0.9zM395.4 165.1h0.9v0.9h-0.9zM395.6 171.1h0.9v0.9h-0.9zM398.7 153.2h0.9v0.9h-0.9zM405.2 151.3h0.9v0.9h-0.9zM395.5 159.7h0.9v0.9h-0.9zM401.7 158.8h0.9v0.9h-0.9zM396.3 139.4h0.9v0.9h-0.9zM393.6 160.7h0.9v0.9h-0.9zM404.1 141.8h0.9v0.9h-0.9zM386.3 167.7h0.9v0.9h-0.9zM409.4 160.7h0.9v0.9h-0.9zM380.3 141.2h0.9v0.9h-0.9zM391.7 150.3h0.9v0.9h-0.9zM397.4 169.9h0.9v0.9h-0.9zM399.3 149.7h0.9v0.9h-0.9zM389.6 157.3h0.9v0.9h-0.9zM396.9 164.9h0.9v0.9h-0.9zM391.5 169.7h0.9v0.9h-0.9zM398.8 156.2h0.9v0.9h-0.9zM395.5 175.3h0.9v0.9h-0.9zM398.4 156.2h0.9v0.9h-0.9zM392.0 168.9h0.9v0.9h-0.9zM396.7 160.6h0.9v0.9h-0.9zM389.4 156.6h0.9v0.9h-0.9zM395.2 177.0h0.9v0.9h-0.9zM385.7 160.5h0.9v0.9h-0.9zM388.0 145.3h0.9v0.9h-0.9zM409.2 146.4h0.9v0.9h-0.9zM402.1 169.6h0.9v0.9h-0.9zM397.2 159.8h0.9v0.9h-0.9zM393.9 164.3h0.9v0.9h-0.9zM396.7 165.0h0.9v0.9h-0.9zM398.4 142.8h0.9v0.9h-0.9zM385.8 158.9h0.9v0.9h-0.9zM393.9 145.6h0.9v0.9h-0.9zM400.4 164.2h0.9v0.9h-0.9zM396.1 169.8h0.9v0.9h-0.9zM398.3 158.1h0.9v0.9h-0.9zM390.2 170.9h0.9v0.9h-0.9zM391.0 151.8h0.9v0.9h-0.9zM388.0 166.2h0.9v0.9h-0.9zM395.9 157.6h0.9v0.9h-0.9zM400.4 150.9h0.9v0.9h-0.9zM399.6 154.0h0.9v0.9h-0.9zM393.2 157.2h0.9v0.9h-0.9zM395.6 173.3h0.9v0.9h-0.9zM390.2 169.6h0.9v0.9h-0.9zM402.3 157.6h0.9v0.9h-0.9zM389.9 147.7h0.9v0.9h-0.9zM393.0 160.5h0.9v0.9h-0.9zM388.0 163.7h0.9v0.9h-0.9zM395.9 169.2h0.9v0.9h-0.9zM407.9 169.5h0.9v0.9h-0.9zM388.7 157.9h0.9v0.9h-0.9zM385.7 155.0h0.9v0.9h-0.9zM384.9 170.7h0.9v0.9h-0.9zM379.9 165.3h0.9v0.9h-0.9zM395.0 143.7h0.9v0.9h-0.9zM399.3 172.3h0.9v0.9h-0.9zM405.8 156.6h0.9v0.9h-0.9zM399.1 161.2h0.9v0.9h-0.9zM403.6 159.2h0.9v0.9h-0.9zM401.5 149.0h0.9v0.9h-0.9zM389.8 148.3h0.9v0.9h-0.9zM393.0 146.5h0.9v0.9h-0.9zM395.1 153.5h0.9v0.9h-0.9zM385.0 161.6h0.9v0.9h-0.9zM401.6 164.4h0.9v0.9h-0.9zM396.4 156.8h0.9v0.9h-0.9zM393.0 143.1h0.9v0.9h-0.9zM407.0 142.4h0.9v0.9h-0.9zM388.3 148.7h0.9v0.9h-0.9zM387.1 160.7h0.9v0.9h-0.9zM389.3 153.6h0.9v0.9h-0.9zM396.5 147.0h0.9v0.9h-0.9zM386.8 163.8h0.9v0.9h-0.9zM390.9 140.6h0.9v0.9h-0.9zM398.1 144.6h0.9v0.9h-0.9zM394.0 159.3h0.9v0.9h-0.9zM396.0 161.9h0.9v0.9h-0.9zM391.4 158.8h0.9v0.9h-0.9zM383.2 161.8h0.9v0.9h-0.9zM381.7 166.4h0.9v0.9h-0.9zM389.2 167.9h0.9v0.9h-0.9zM393.7 164.3h0.9v0.9h-0.9zM391.0 156.6h0.9v0.9h-0.9zM397.2 165.6h0.9v0.9h-0.9zM391.5 131.5h0.9v0.9h-0.9zM395.0 166.3h0.9v0.9h-0.9zM402.4 156.5h0.9v0.9h-0.9zM401.1 123.0h0.9v0.9h-0.9zM391.4 152.6h0.9v0.9h-0.9zM407.6 156.6h0.9v0.9h-0.9zM411.0 159.5h0.9v0.9h-0.9zM391.2 153.2h0.9v0.9h-0.9zM388.6 160.4h0.9v0.9h-0.9zM395.0 149.0h0.9v0.9h-0.9zM405.7 169.8h0.9v0.9h-0.9zM392.0 164.4h0.9v0.9h-0.9zM392.9 154.0h0.9v0.9h-0.9zM388.4 152.3h0.9v0.9h-0.9zM405.7 176.2h0.9v0.9h-0.9zM393.2 155.8h0.9v0.9h-0.9zM401.6 150.5h0.9v0.9h-0.9zM398.9 143.6h0.9v0.9h-0.9zM396.7 166.6h0.9v0.9h-0.9zM399.6 175.1h0.9v0.9h-0.9zM402.0 154.8h0.9v0.9h-0.9zM385.0 135.4h0.9v0.9h-0.9zM387.1 157.6h0.9v0.9h-0.9zM397.0 163.5h0.9v0.9h-0.9zM394.9 157.1h0.9v0.9h-0.9zM396.6 170.6h0.9v0.9h-0.9zM394.5 168.8h0.9v0.9h-0.9zM403.5 161.4h0.9v0.9h-0.9zM398.8 162.7h0.9v0.9h-0.9zM402.0 168.2h0.9v0.9h-0.9zM395.7 171.5h0.9v0.9h-0.9zM402.2 161.7h0.9v0.9h-0.9zM386.2 177.3h0.9v0.9h-0.9zM395.9 166.9h0.9v0.9h-0.9zM395.6 156.4h0.9v0.9h-0.9zM386.5 159.7h0.9v0.9h-0.9zM393.0 164.9h0.9v0.9h-0.9zM392.4 159.0h0.9v0.9h-0.9zM399.3 159.5h0.9v0.9h-0.9zM390.4 164.4h0.9v0.9h-0.9zM392.3 149.0h0.9v0.9h-0.9zM387.3 150.6h0.9v0.9h-0.9zM390.3 136.5h0.9v0.9h-0.9zM384.7 153.2h0.9v0.9h-0.9zM391.6 157.6h0.9v0.9h-0.9zM398.0 148.4h0.9v0.9h-0.9zM404.4 163.0h0.9v0.9h-0.9zM378.2 158.8h0.9v0.9h-0.9zM387.6 164.6h0.9v0.9h-0.9zM405.8 145.0h0.9v0.9h-0.9zM394.9 148.2h0.9v0.9h-0.9zM384.4 165.8h0.9v0.9h-0.9zM399.7 152.3h0.9v0.9h-0.9zM391.5 146.7h0.9v0.9h-0.9z" fill="#000" fill-opacity="1.0"/>
<path d="M380.7 162.0h0.9v0.9h-0.9zM383.2 170.8h0.9v0.9h-0.9zM385.1 163.8h0.9v0.9h-0.9zM384.7 170.0h0.9v0.9h-0.9zM387.0 151.7h0.9v0.9h-0.9zM383.1 168.0h0.9v0.9h-0.9zM380.1 150.8h0.9v0.9h-0.9zM379.0 152.9h0.9v0.9h-0.9zM383.0 162.7h0.9v0.9h-0.9zM386.8 146.5h0.9v0.9h-0.9zM386.4 171.7h0.9v0.9h-0.9zM397.6 161.5h0.9v0.9h-0.9zM387.9 148.2h0.9v0.9h-0.9zM385.5 158.6h0.9v0.9h-0.9zM391.8 155.3h0.9v0.9h-0.9zM393.2 154.3h0.9v0.9h-0.9zM386.5 167.0h0.9v0.9h-0.9zM385.1 158.8h0.9v0.9h-0.9zM378.9 177.0h0.9v0.9h-0.9zM386.4 156.0h0.9v0.9h-0.9zM377.4 171.2h0.9v0.9h-0.9zM391.0 163.7h0.9v0.9h-0.9zM381.9 169.5h0.9v0.9h-0.9zM386.6 175.4h0.9v0.9h-0.9zM383.3 157.7h0.9v0.9h-0.9zM383.7 151.8h0.9v0.9h-0.9zM378.5 159.2h0.9v0.9h-0.9zM383.3 164.8h0.9v0.9h-0.9zM376.8 160.9h0.9v0.9h-0.9zM394.2 148.3h0.9v0.9h-0.9zM382.2 159.7h0.9v0.9h-0.9zM387.3 156.8h0.9v0.9h-0.9zM395.7 159.1h0.9v0.9h-0.9zM385.4 165.6h0.9v0.9h-0.9zM391.1 168.1h0.9v0.9h-0.9zM377.0 164.6h0.9v0.9h-0.9zM381.0 174.8h0.9v0.9h-0.9zM386.8 167.4h0.9v0.9h-0.9zM383.6 157.5h0.9v0.9h-0.9zM389.5 172.5h0.9v0.9h-0.9zM395.6 161.8h0.9v0.9h-0.9zM389.8 154.4h0.9v0.9h-0.9zM386.9 164.3h0.9v0.9h-0.9zM378.6 158.5h0.9v0.9h-0.9zM384.6 162.1h0.9v0.9h-0.9zM382.6 161.5h0.9v0.9h-0.9zM384.1 160.1h0.9v0.9h-0.9zM375.4 165.3h0.9v0.9h-0.9zM392.9 162.5h0.9v0.9h-0.9zM384.8 156.6h0.9v0.9h-0.9zM380.0 155.4h0.9v0.9h-0.9zM377.3 164.4h0.9v0.9h-0.9zM379.4 167.0h0.9v0.9h-0.9zM384.6 151.1h0.9v0.9h-0.9zM395.3 160.8h0.9v0.9h-0.9zM384.8 159.9h0.9v0.9h-0.9zM378.1 163.8h0.9v0.9h-0.9zM386.7 144.9h0.9v0.9h-0.9zM384.2 165.2h0.9v0.9h-0.9zM393.3 146.1h0.9v0.9h-0.9zM380.4 174.4h0.9v0.9h-0.9zM380.3 169.8h0.9v0.9h-0.9zM379.0 153.5h0.9v0.9h-0.9zM387.9 159.0h0.9v0.9h-0.9zM378.5 164.4h0.9v0.9h-0.9zM390.0 163.0h0.9v0.9h-0.9zM395.4 152.3h0.9v0.9h-0.9zM392.5 166.8h0.9v0.9h-0.9zM388.5 170.8h0.9v0.9h-0.9zM382.6 161.3h0.9v0.9h-0.9zM377.2 157.5h0.9v0.9h-0.9zM380.4 173.1h0.9v0.9h-0.9zM381.7 167.1h0.9v0.9h-0.9zM379.9 155.5h0.9v0.9h-0.9zM387.2 147.9h0.9v0.9h-0.9zM384.2 154.9h0.9v0.9h-0.9zM379.7 162.0h0.9v0.9h-0.9zM394.5 172.1h0.9v0.9h-0.9zM388.2 168.2h0.9v0.9h-0.9zM386.6 157.8h0.9v0.9h-0.9zM384.9 163.0h0.9v0.9h-0.9zM387.2 171.9h0.9v0.9h-0.9zM378.2 152.0h0.9v0.9h-0.9zM391.4 153.9h0.9v0.9h-0.9zM389.4 166.9h0.9v0.9h-0.9zM383.4 165.6h0.9v0.9h-0.9zM388.5 162.5h0.9v0.9h-0.9zM392.2 164.0h0.9v0.9h-0.9zM390.6 166.5h0.9v0.9h-0.9zM385.1 171.0h0.9v0.9h-0.9zM383.3 158.0h0.9v0.9h-0.9zM383.7 164.8h0.9v0.9h-0.9zM382.2 170.9h0.9v0.9h-0.9zM385.7 166.7h0.9v0.9h-0.9zM382.3 166.1h0.9v0.9h-0.9zM387.6 161.3h0.9v0.9h-0.9zM382.8 166.4h0.9v0.9h-0.9zM385.2 158.6h0.9v0.9h-0.9zM388.3 168.0h0.9v0.9h-0.9zM393.5 153.5h0.9v0.9h-0.9zM377.6 166.5h0.9v0.9h-0.9zM393.7 172.6h0.9v0.9h-0.9zM384.1 157.2h0.9v0.9h-0.9zM385.6 159.5h0.9v0.9h-0.9zM379.9 164.8h0.9v0.9h-0.9zM380.5 161.2h0.9v0.9h-0.9zM380.3 162.1h0.9v0.9h-0.9zM386.4 164.4h0.9v0.9h-0.9zM385.3 154.5h0.9v0.9h-0.9zM376.7 163.0h0.9v0.9h-0.9zM383.9 169.8h0.9v0.9h-0.9zM377.0 172.2h0.9v0.9h-0.9zM383.4 154.1h0.9v0.9h-0.9zM381.0 159.7h0.9v0.9h-0.9zM390.8 159.9h0.9v0.9h-0.9zM385.6 155.8h0.9v0.9h-0.9zM377.1 157.3h0.9v0.9h-0.9zM375.7 160.9h0.9v0.9h-0.9zM381.5 173.9h0.9v0.9h-0.9zM387.2 171.2h0.9v0.9h-0.9zM384.9 162.5h0.9v0.9h-0.9zM386.4 174.4h0.9v0.9h-0.9zM379.8 152.5h0.9v0.9h-0.9zM380.9 150.8h0.9v0.9h-0.9zM381.7 160.9h0.9v0.9h-0.9zM380.1 162.0h0.9v0.9h-0.9zM389.9 164.4h0.9v0.9h-0.9zM389.5 162.4h0.9v0.9h-0.9zM384.4 151.5h0.9v0.9h-0.9zM390.1 166.6h0.9v0.9h-0.9zM391.3 163.0h0.9v0.9h-0.9zM378.4 145.7h0.9v0.9h-0.9zM387.8 154.3h0.9v0.9h-0.9zM378.0 166.2h0.9v0.9h-0.9zM381.1 172.2h0.9v0.9h-0.9zM380.7 159.1h0.9v0.9h-0.9zM382.7 162.1h0.9v0.9h-0.9zM385.6 160.9h0.9v0.9h-0.9zM390.9 151.3h0.9v0.9h-0.9zM385.9 149.4h0.9v0.9h-0.9zM386.5 174.7h0.9v0.9h-0.9zM391.7 169.6h0.9v0.9h-0.9zM384.8 158.0h0.9v0.9h-0.9zM382.0 165.4h0.9v0.9h-0.9zM380.2 151.9h0.9v0.9h-0.9zM390.4 168.6h0.9v0.9h-0.9zM386.3 160.1h0.9v0.9h-0.9zM387.3 160.1h0.9v0.9h-0.9zM386.1 164.4h0.9v0.9h-0.9zM384.1 158.1h0.9v0.9h-0.9zM387.4 156.6h0.9v0.9h-0.9zM392.0 172.2h0.9v0.9h-0.9zM382.8 168.2h0.9v0.9h-0.9zM388.2 164.2h0.9v0.9h-0.9zM378.3 166.5h0.9v0.9h-0.9zM382.2 162.2h0.9v0.9h-0.9zM394.4 164.3h0.9v0.9h-0.9zM376.9 170.6h0.9v0.9h-0.9zM389.3 156.6h0.9v0.9h-0.9zM383.8 157.7h0.9v0.9h-0.9zM385.4 174.5h0.9v0.9h-0.9zM397.3 161.9h0.9v0.9h-0.9zM384.8 176.7h0.9v0.9h-0.9zM382.8 172.2h0.9v0.9h-0.9zM379.8 170.7h0.9v0.9h-0.9zM392.3 173.0h0.9v0.9h-0.9zM392.1 172.7h0.9v0.9h-0.9zM384.2 170.6h0.9v0.9h-0.9zM388.5 166.2h0.9v0.9h-0.9zM388.6 161.7h0.9v0.9h-0.9zM379.9 176.9h0.9v0.9h-0.9zM385.1 179.0h0.9v0.9h-0.9zM393.6 160.3h0.9v0.9h-0.9zM392.4 167.9h0.9v0.9h-0.9zM386.2 148.5h0.9v0.9h-0.9zM381.9 162.0h0.9v0.9h-0.9zM381.1 153.4h0.9v0.9h-0.9zM375.5 165.4h0.9v0.9h-0.9zM386.0 172.0h0.9v0.9h-0.9zM376.8 149.9h0.9v0.9h-0.9zM394.4 162.9h0.9v0.9h-0.9zM383.6 173.4h0.9v0.9h-0.9zM378.5 162.4h0.9v0.9h-0.9zM388.2 168.1h0.9v0.9h-0.9zM388.4 160.3h0.9v0.9h-0.9zM391.6 151.0h0.9v0.9h-0.9zM372.9 162.2h0.9v0.9h-0.9zM384.7 163.8h0.9v0.9h-0.9zM373.6 152.0h0.9v0.9h-0.9zM382.2 171.9h0.9v0.9h-0.9zM390.0 179.2h0.9v0.9h-0.9zM377.8 159.3h0.9v0.9h-0.9zM375.2 153.0h0.9v0.9h-0.9zM377.7 162.8h0.9v0.9h-0.9zM379.7 166.7h0.9v0.9h-0.9zM391.1 161.5h0.9v0.9h-0.9zM381.8 164.1h0.9v0.9h-0.9zM383.0 161.9h0.9v0.9h-0.9zM380.6 165.1h0.9v0.9h-0.9zM381.2 168.0h0.9v0.9h-0.9zM384.9 173.5h0.9v0.9h-0.9zM386.8 168.7h0.9v0.9h-0.9zM383.6 159.9h0.9v0.9h-0.9zM386.9 156.4h0.9v0.9h-0.9zM386.0 179.1h0.9v0.9h-0.9zM380.6 170.0h0.9v0.9h-0.9zM387.1 164.0h0.9v0.9h-0.9zM389.4 160.0h0.9v0.9h-0.9zM377.9 168.8h0.9v0.9h-0.9zM386.4 166.8h0.9v0.9h-0.9zM388.6 154.3h0.9v0.9h-0.9zM382.6 173.5h0.9v0.9h-0.9zM386.1 146.8h0.9v0.9h-0.9zM385.0 170.9h0.9v0.9h-0.9zM377.6 163.0h0.9v0.9h-0.9zM378.6 161.5h0.9v0.9h-0.9zM384.7 157.3h0.9v0.9h-0.9zM377.1 169.4h0.9v0.9h-0.9zM387.0 159.6h0.9v0.9h-0.9zM380.5 172.0h0.9v0.9h-0.9zM383.3 174.7h0.9v0.9h-0.9zM387.4 161.6h0.9v0.9h-0.9zM389.1 147.5h0.9v0.9h-0.9zM379.4 164.6h0.9v0.9h-0.9zM388.7 171.7h0.9v0.9h-0.9zM386.7 156.7h0.9v0.9h-0.9zM387.5 173.7h0.9v0.9h-0.9zM384.6 153.3h0.9v0.9h-0.9zM382.2 175.7h0.9v0.9h-0.9zM380.2 175.5h0.9v0.9h-0.9zM386.5 148.5h0.9v0.9h-0.9zM384.4 159.4h0.9v0.9h-0.9zM383.1 177.3h0.9v0.9h-0.9zM377.1 149.6h0.9v0.9h-0.9zM382.4 165.2h0.9v0.9h-0.9zM385.4 165.3h0.9v0.9h-0.9zM379.7 162.1h0.9v0.9h-0.9zM394.6 168.6h0.9v0.9h-0.9zM388.2 167.3h0.9v0.9h-0.9zM385.2 150.5h0.9v0.9h-0.9zM375.2 169.4h0.9v0.9h-0.9zM377.6 170.1h0.9v0.9h-0.9zM385.7 163.1h0.9v0.9h-0.9zM377.9 159.0h0.9v0.9h-0.9zM390.6 161.5h0.9v0.9h-0.9zM383.8 168.9h0.9v0.9h-0.9zM381.2 162.2h0.9v0.9h-0.9zM385.4 169.6h0.9v0.9h-0.9zM381.1 154.7h0.9v0.9h-0.9zM387.7 159.6h0.9v0.9h-0.9zM384.3 154.7h0.9v0.9h-0.9zM395.2 163.3h0.9v0.9h-0.9zM385.7 172.1h0.9v0.9h-0.9zM378.4 165.6h0.9v0.9h-0.9zM377.6 156.5h0.9v0.9h-0.9zM388.3 174.5h0.9v0.9h-0.9zM386.3 155.7h0.9v0.9h-0.9zM383.5 170.8h0.9v0.9h-0.9zM382.0 161.1h0.9v0.9h-0.9zM385.0 171.4h0.9v0.9h-0.9zM380.9 150.3h0.9v0.9h-0.9zM381.3 162.6h0.9v0.9h-0.9zM382.9 166.5h0.9v0.9h-0.9zM389.6 163.8h0.9v0.9h-0.9zM386.0 158.2h0.9v0.9h-0.9zM383.5 168.9h0.9v0.9h-0.9zM378.2 172.9h0.9v0.9h-0.9zM379.8 161.5h0.9v0.9h-0.9zM386.8 169.2h0.9v0.9h-0.9zM384.4 158.4h0.9v0.9h-0.9zM393.5 163.1h0.9v0.9h-0.9zM384.2 164.6h0.9v0.9h-0.9zM384.7 161.6h0.9v0.9h-0.9zM381.1 154.7h0.9v0.9h-0.9zM378.4 170.2h0.9v0.9h-0.9zM392.3 165.6h0.9v0.9h-0.9zM384.7 161.9h0.9v0.9h-0.9zM384.9 168.7h0.9v0.9h-0.9zM389.1 138.3h0.9v0.9h-0.9zM387.3 163.6h0.9v0.9h-0.9zM384.5 165.0h0.9v0.9h-0.9zM387.3 169.4h0.9v0.9h-0.9zM392.1 160.3h0.9v0.9h-0.9zM386.1 172.2h0.9v0.9h-0.9zM381.2 162.4h0.9v0.9h-0.9zM387.0 166.1h0.9v0.9h-0.9zM383.6 166.4h0.9v0.9h-0.9zM397.3 160.1h0.9v0.9h-0.9zM378.7 165.7h0.9v0.9h-0.9zM375.1 158.3h0.9v0.9h-0.9zM374.5 174.8h0.9v0.9h-0.9zM387.9 162.1h0.9v0.9h-0.9zM373.0 153.4h0.9v0.9h-0.9zM376.5 163.9h0.9v0.9h-0.9zM388.1 169.1h0.9v0.9h-0.9zM382.1 158.9h0.9v0.9h-0.9zM388.9 162.3h0.9v0.9h-0.9zM376.1 157.6h0.9v0.9h-0.9zM381.0 176.9h0.9v0.9h-0.9zM383.1 148.5h0.9v0.9h-0.9zM382.1 171.5h0.9v0.9h-0.9zM379.3 159.1h0.9v0.9h-0.9zM377.6 166.0h0.9v0.9h-0.9zM384.1 159.0h0.9v0.9h-0.9zM384.6 168.5h0.9v0.9h-0.9zM380.6 163.3h0.9v0.9h-0.9zM387.1 161.4h0.9v0.9h-0.9zM375.9 169.0h0.9v0.9h-0.9zM383.6 167.6h0.9v0.9h-0.9zM384.9 178.0h0.9v0.9h-0.9zM386.4 170.3h0.9v0.9h-0.9zM379.5 164.3h0.9v0.9h-0.9zM383.3 168.0h0.9v0.9h-0.9zM375.7 163.5h0.9v0.9h-0.9zM380.6 158.1h0.9v0.9h-0.9zM381.3 169.4h0.9v0.9h-0.9zM388.7 169.7h0.9v0.9h-0.9zM375.3 160.6h0.9v0.9h-0.9zM385.1 165.0h0.9v0.9h-0.9zM388.0 159.3h0.9v0.9h-0.9zM382.4 145.8h0.9v0.9h-0.9zM383.4 169.5h0.9v0.9h-0.9zM384.8 156.5h0.9v0.9h-0.9zM383.8 164.0h0.9v0.9h-0.9zM379.3 159.2h0.9v0.9h-0.9zM384.8 169.7h0.9v0.9h-0.9zM393.6 155.4h0.9v0.9h-0.9zM382.4 171.3h0.9v0.9h-0.9zM381.6 171.0h0.9v0.9h-0.9zM388.7 164.9h0.9v0.9h-0.9zM377.4 160.3h0.9v0.9h-0.9zM380.0 176.5h0.9v0.9h-0.9zM381.4 166.2h0.9v0.9h-0.9zM386.9 160.7h0.9v0.9h-0.9zM380.7 144.1h0.9v0.9h-0.9zM388.1 177.2h0.9v0.9h-0.9zM384.8 155.8h0.9v0.9h-0.9zM386.4 161.5h0.9v0.9h-0.9zM370.2 161.1h0.9v0.9h-0.9zM373.9 161.1h0.9v0.9h-0.9zM378.1 171.5h0.9v0.9h-0.9zM376.2 165.3h0.9v0.9h-0.9zM383.2 149.7h0.9v0.9h-0.9zM384.2 157.8h0.9v0.9h-0.9zM378.9 150.9h0.9v0.9h-0.9zM383.9 158.4h0.9v0.9h-0.9zM383.2 163.5h0.9v0.9h-0.9zM391.1 161.6h0.9v0.9h-0.9zM384.2 176.2h0.9v0.9h-0.9zM381.5 174.6h0.9v0.9h-0.9zM386.3 146.7h0.9v0.9h-0.9zM391.3 162.5h0.9v0.9h-0.9zM378.2 161.4h0.9v0.9h-0.9zM384.8 165.9h0.9v0.9h-0.9zM394.4 148.4h0.9v0.9h-0.9zM385.5 158.9h0.9v0.9h-0.9zM381.7 159.8h0.9v0.9h-0.9zM380.1 178.3h0.9v0.9h-0.9zM384.7 163.4h0.9v0.9h-0.9zM385.4 150.1h0.9v0.9h-0.9zM383.1 159.2h0.9v0.9h-0.9zM379.1 176.0h0.9v0.9h-0.9zM384.9 169.3h0.9v0.9h-0.9zM381.0 164.7h0.9v0.9h-0.9zM383.8 169.2h0.9v0.9h-0.9zM384.5 168.1h0.9v0.9h-0.9zM380.1 168.3h0.9v0.9h-0.9zM386.0 168.3h0.9v0.9h-0.9zM382.4 166.0h0.9v0.9h-0.9zM383.6 166.6h0.9v0.9h-0.9zM383.8 159.4h0.9v0.9h-0.9zM381.3 164.9h0.9v0.9h-0.9zM378.5 141.9h0.9v0.9h-0.9zM383.4 160.3h0.9v0.9h-0.9zM385.0 169.1h0.9v0.9h-0.9zM385.6 161.5h0.9v0.9h-0.9zM384.7 148.6h0.9v0.9h-0.9zM386.6 155.8h0.9v0.9h-0.9zM380.0 168.1h0.9v0.9h-0.9zM380.7 155.5h0.9v0.9h-0.9zM382.5 154.7h0.9v0.9h-0.9zM387.7 153.8h0.9v0.9h-0.9zM383.3 173.3h0.9v0.9h-0.9zM388.8 166.7h0.9v0.9h-0.9zM377.8 169.3h0.9v0.9h-0.9zM389.9 172.1h0.9v0.9h-0.9zM386.7 169.4h0.9v0.9h-0.9zM383.2 167.3h0.9v0.9h-0.9zM385.8 164.0h0.9v0.9h-0.9zM390.2 156.2h0.9v0.9h-0.9zM390.1 158.8h0.9v0.9h-0.9zM378.8 161.1h0.9v0.9h-0.9zM379.7 161.5h0.9v0.9h-0.9zM387.0 174.7h0.9v0.9h-0.9zM387.7 140.2h0.9v0.9h-0.9zM389.7 157.3h0.9v0.9h-0.9zM385.8 175.0h0.9v0.9h-0.9zM384.2 155.3h0.9v0.9h-0.9zM382.1 165.4h0.9v0.9h-0.9zM381.4 155.8h0.9v0.9h-0.9zM391.3 175.9h0.9v0.9h-0.9zM384.8 169.7h0.9v0.9h-0.9zM380.3 162.8h0.9v0.9h-0.9zM381.3 172.5h0.9v0.9h-0.9zM390.0 158.9h0.9v0.9h-0.9zM375.4 171.0h0.9v0.9h-0.9zM394.0 155.1h0.9v0.9h-0.9zM392.9 166.6h0.9v0.9h-0.9zM385.3 150.0h0.9v0.9h-0.9zM383.0 150.9h0.9v0.9h-0.9zM385.0 157.6h0.9v0.9h-0.9zM380.8 162.8h0.9v0.9h-0.9zM384.6 176.6h0.9v0.9h-0.9zM384.4 164.9h0.9v0.9h-0.9zM378.9 155.6h0.9v0.9h-0.9zM385.0 162.8h0.9v0.9h-0.9zM383.1 168.2h0.9v0.9h-0.9zM391.8 155.7h0.9v0.9h-0.9zM387.2 172.3h0.9v0.9h-0.9zM381.4 152.4h0.9v0.9h-0.9zM377.8 165.2h0.9v0.9h-0.9zM384.4 167.1h0.9v0.9h-0.9zM387.3 173.0h0.9v0.9h-0.9zM390.4 178.6h0.9v0.9h-0.9zM383.8 165.4h0.9v0.9h-0.9zM379.5 153.4h0.9v0.9h-0.9zM383.8 154.2h0.9v0.9h-0.9zM390.5 157.2h0.9v0.9h-0.9zM392.1 157.5h0.9v0.9h-0.9zM383.2 173.5h0.9v0.9h-0.9zM385.9 176.3h0.9v0.9h-0.9zM379.8 170.5h0.9v0.9h-0.9zM381.9 168.2h0.9v0.9h-0.9zM377.2 156.3h0.9v0.9h-0.9zM382.5 167.8h0.9v0.9h-0.9zM378.8 155.7h0.9v0.9h-0.9zM375.0 158.9h0.9v0.9h-0.9zM391.9 158.5h0.9v0.9h-0.9zM374.4 151.6h0.9v0.9h-0.9zM378.4 159.8h0.9v0.9h-0.9zM385.2 171.6h0.9v0.9h-0.9zM381.4 169.3h0.9v0.9h-0.9zM383.5 169.7h0.9v0.9h-0.9zM389.1 171.0h0.9v0.9h-0.9zM375.7 170.4h0.9v0.9h-0.9zM382.2 143.5h0.9v0.9h-0.9zM386.0 161.7h0.9v0.9h-0.9zM377.8 146.8h0.9v0.9h-0.9zM386.4 166.4h0.9v0.9h-0.9zM387.1 164.7h0.9v0.9h-0.9zM393.7 157.9h0.9v0.9h-0.9zM384.3 164.7h0.9v0.9h-0.9zM391.8 175.2h0.9v0.9h-0.9zM381.1 174.5h0.9v0.9h-0.9zM380.7 171.3h0.9v0.9h-0.9zM376.2 147.9h0.9v0.9h-0.9zM388.8 167.7h0.9v0.9h-0.9zM382.0 148.6h0.9v0.9h-0.9zM381.2 158.8h0.9v0.9h-0.9zM387.6 165.1h0.9v0.9h-0.9zM374.1 157.0h0.9v0.9h-0.9zM378.3 157.6h0.9v0.9h-0.9zM377.8 174.0h0.9v0.9h-0.9zM389.6 162.1h0.9v0.9h-0.9zM380.2 155.3h0.9v0.9h-0.9zM388.7 168.3h0.9v0.9h-0.9zM389.8 158.6h0.9v0.9h-0.9zM381.4 167.9h0.9v0.9h-0.9zM378.2 174.7h0.9v0.9h-0.9zM381.1 152.6h0.9v0.9h-0.9zM388.6 161.3h0.9v0.9h-0.9zM382.5 176.3h0.9v0.9h-0.9zM391.1 158.0h0.9v0.9h-0.9zM389.9 150.8h0.9v0.9h-0.9zM391.1 165.8h0.9v0.9h-0.9zM384.2 177.6h0.9v0.9h-0.9zM386.1 148.2h0.9v0.9h-0.9zM385.8 172.1h0.9v0.9h-0.9zM389.1 178.1h0.9v0.9h-0.9zM382.2 152.9h0.9v0.9h-0.9zM376.2 159.6h0.9v0.9h-0.9zM381.0 165.6h0.9v0.9h-0.9zM392.3 159.6h0.9v0.9h-0.9zM377.6 164.3h0.9v0.9h-0.9zM385.0 170.3h0.9v0.9h-0.9zM391.0 168.4h0.9v0.9h-0.9zM385.5 157.5h0.9v0.9h-0.9zM385.8 173.0h0.9v0.9h-0.9zM382.2 178.8h0.9v0.9h-0.9zM384.1 171.0h0.9v0.9h-0.9zM375.8 174.0h0.9v0.9h-0.9zM383.4 159.6h0.9v0.9h-0.9zM385.0 166.3h0.9v0.9h-0.9zM380.4 152.6h0.9v0.9h-0.9zM386.0 170.3h0.9v0.9h-0.9zM384.9 161.7h0.9v0.9h-0.9zM382.9 147.2h0.9v0.9h-0.9zM381.5 157.5h0.9v0.9h-0.9zM383.3 143.7h0.9v0.9h-0.9zM377.5 159.5h0.9v0.9h-0.9zM374.7 151.7h0.9v0.9h-0.9zM391.3 161.8h0.9v0.9h-0.9zM381.4 164.3h0.9v0.9h-0.9zM378.8 164.7h0.9v0.9h-0.9zM381.5 154.6h0.9v0.9h-0.9zM384.2 170.0h0.9v0.9h-0.9zM384.0 152.3h0.9v0.9h-0.9zM384.4 158.2h0.9v0.9h-0.9zM381.7 165.5h0.9v0.9h-0.9zM386.2 171.4h0.9v0.9h-0.9zM388.7 170.6h0.9v0.9h-0.9zM392.7 174.3h0.9v0.9h-0.9zM391.8 174.7h0.9v0.9h-0.9zM382.1 171.8h0.9v0.9h-0.9zM389.7 171.3h0.9v0.9h-0.9zM390.7 169.9h0.9v0.9h-0.9zM380.1 162.5h0.9v0.9h-0.9zM379.4 152.6h0.9v0.9h-0.9zM394.1 171.9h0.9v0.9h-0.9zM390.3 152.6h0.9v0.9h-0.9zM388.1 160.2h0.9v0.9h-0.9zM387.7 170.9h0.9v0.9h-0.9zM390.5 157.3h0.9v0.9h-0.9zM390.5 173.5h0.9v0.9h-0.9zM386.0 154.7h0.9v0.9h-0.9zM378.0 149.4h0.9v0.9h-0.9zM376.2 171.3h0.9v0.9h-0.9zM376.1 157.3h0.9v0.9h-0.9zM385.6 159.8h0.9v0.9h-0.9zM386.5 175.1h0.9v0.9h-0.9zM381.6 170.2h0.9v0.9h-0.9zM389.4 164.0h0.9v0.9h-0.9zM389.1 163.9h0.9v0.9h-0.9zM385.0 172.5h0.9v0.9h-0.9zM383.1 162.8h0.9v0.9h-0.9zM386.9 173.6h0.9v0.9h-0.9zM378.9 174.4h0.9v0.9h-0.9zM385.2 166.4h0.9v0.9h-0.9zM391.1 156.1h0.9v0.9h-0.9zM379.8 154.4h0.9v0.9h-0.9zM385.0 168.8h0.9v0.9h-0.9zM376.9 168.6h0.9v0.9h-0.9zM378.3 166.5h0.9v0.9h-0.9zM394.7 174.5h0.9v0.9h-0.9zM384.3 172.9h0.9v0.9h-0.9zM388.1 143.5h0.9v0.9h-0.9zM380.3 171.3h0.9v0.9h-0.9zM387.1 155.2h0.9v0.9h-0.9zM386.6 168.3h0.9v0.9h-0.9zM383.8 164.6h0.9v0.9h-0.9zM393.8 171.4h0.9v0.9h-0.9zM388.7 149.4h0.9v0.9h-0.9zM382.5 171.9h0.9v0.9h-0.9zM385.5 162.9h0.9v0.9h-0.9zM379.7 167.5h0.9v0.9h-0.9zM383.7 150.3h0.9v0.9h-0.9zM397.0 163.1h0.9v0.9h-0.9zM375.3 151.5h0.9v0.9h-0.9zM381.2 160.5h0.9v0.9h-0.9zM380.1 163.6h0.9v0.9h-0.9zM391.6 155.3h0.9v0.9h-0.9zM389.8 171.8h0.9v0.9h-0.9zM378.7 151.8h0.9v0.9h-0.9zM388.0 173.5h0.9v0.9h-0.9zM388.1 170.0h0.9v0.9h-0.9zM381.0 170.5h0.9v0.9h-0.9zM379.0 169.9h0.9v0.9h-0.9zM388.7 171.1h0.9v0.9h-0.9zM390.9 170.4h0.9v0.9h-0.9zM389.6 166.3h0.9v0.9h-0.9zM392.7 164.4h0.9v0.9h-0.9zM391.7 158.8h0.9v0.9h-0.9zM378.6 166.8h0.9v0.9h-0.9zM384.1 160.4h0.9v0.9h-0.9zM380.5 172.1h0.9v0.9h-0.9zM386.6 172.8h0.9v0.9h-0.9zM382.4 168.0h0.9v0.9h-0.9zM379.5 158.9h0.9v0.9h-0.9zM388.4 171.9h0.9v0.9h-0.9zM385.0 175.5h0.9v0.9h-0.9zM380.7 177.0h0.9v0.9h-0.9zM383.7 163.6h0.9v0.9h-0.9zM379.7 177.0h0.9v0.9h-0.9zM379.5 177.2h0.9v0.9h-0.9zM391.4 148.3h0.9v0.9h-0.9zM384.1 154.5h0.9v0.9h-0.9zM381.9 164.5h0.9v0.9h-0.9zM382.9 170.7h0.9v0.9h-0.9zM386.6 148.9h0.9v0.9h-0.9zM378.2 152.8h0.9v0.9h-0.9zM377.5 169.5h0.9v0.9h-0.9zM383.5 165.2h0.9v0.9h-0.9zM373.9 161.4h0.9v0.9h-0.9zM373.2 164.3h0.9v0.9h-0.9zM381.1 168.5h0.9v0.9h-0.9zM386.9 172.0h0.9v0.9h-0.9zM383.1 168.0h0.9v0.9h-0.9zM385.0 154.8h0.9v0.9h-0.9zM384.6 174.5h0.9v0.9h-0.9zM380.5 174.8h0.9v0.9h-0.9z" fill="#111" fill-opacity="0.9"/>
<path d="M374.7 175.1h0.9v0.9h-0.9zM376.4 151.1h0.9v0.9h-0.9zM377.2 174.0h0.9v0.9h-0.9zM366.7 149.9h0.9v0.9h-0.9zM378.1 148.7h0.9v0.9h-0.9zM367.2 160.7h0.9v0.9h-0.9zM373.7 157.5h0.9v0.9h-0.9zM374.2 163.7h0.9v0.9h-0.9zM371.8 143.2h0.9v0.9h-0.9zM374.9 157.2h0.9v0.9h-0.9zM375.2 161.2h0.9v0.9h-0.9zM372.6 143.2h0.9v0.9h-0.9zM378.4 176.6h0.9v0.9h-0.9zM378.7 161.9h0.9v0.9h-0.9zM379.1 156.6h0.9v0.9h-0.9zM369.1 139.3h0.9v0.9h-0.9zM376.6 147.9h0.9v0.9h-0.9zM371.4 164.8h0.9v0.9h-0.9zM380.9 175.9h0.9v0.9h-0.9zM367.6 157.6h0.9v0.9h-0.9zM372.4 161.0h0.9v0.9h-0.9zM375.9 165.5h0.9v0.9h-0.9zM374.9 147.3h0.9v0.9h-0.9zM372.9 167.8h0.9v0.9h-0.9zM376.7 168.7h0.9v0.9h-0.9zM376.1 173.2h0.9v0.9h-0.9zM371.1 166.0h0.9v0.9h-0.9zM378.4 151.2h0.9v0.9h-0.9zM371.3 151.8h0.9v0.9h-0.9zM382.4 155.2h0.9v0.9h-0.9zM380.3 155.6h0.9v0.9h-0.9zM377.2 167.0h0.9v0.9h-0.9zM377.0 155.1h0.9v0.9h-0.9zM383.2 166.6h0.9v0.9h-0.9zM373.2 164.9h0.9v0.9h-0.9zM385.3 152.7h0.9v0.9h-0.9zM376.6 165.7h0.9v0.9h-0.9zM374.2 158.5h0.9v0.9h-0.9zM380.2 156.7h0.9v0.9h-0.9zM375.3 163.4h0.9v0.9h-0.9zM369.6 161.0h0.9v0.9h-0.9zM381.4 172.2h0.9v0.9h-0.9zM366.8 158.3h0.9v0.9h-0.9zM384.9 149.2h0.9v0.9h-0.9zM371.7 163.8h0.9v0.9h-0.9zM372.7 151.5h0.9v0.9h-0.9zM372.4 162.3h0.9v0.9h-0.9zM377.4 164.1h0.9v0.9h-0.9zM368.7 141.9h0.9v0.9h-0.9zM379.9 159.0h0.9v0.9h-0.9zM376.6 164.5h0.9v0.9h-0.9zM383.3 172.5h0.9v0.9h-0.9zM373.3 168.7h0.9v0.9h-0.9zM378.6 176.1h0.9v0.9h-0.9zM387.3 163.7h0.9v0.9h-0.9zM371.4 166.4h0.9v0.9h-0.9zM372.3 159.9h0.9v0.9h-0.9zM381.2 153.3h0.9v0.9h-0.9zM366.3 153.8h0.9v0.9h-0.9zM370.9 142.2h0.9v0.9h-0.9zM379.1 166.3h0.9v0.9h-0.9zM377.4 172.8h0.9v0.9h-0.9zM377.3 170.6h0.9v0.9h-0.9zM372.4 165.4h0.9v0.9h-0.9zM374.5 147.6h0.9v0.9h-0.9zM377.3 150.2h0.9v0.9h-0.9zM380.9 142.1h0.9v0.9h-0.9zM366.4 174.8h0.9v0.9h-0.9zM379.2 156.6h0.9v0.9h-0.9zM366.4 153.0h0.9v0.9h-0.9zM367.4 178.4h0.9v0.9h-0.9zM379.5 152.5h0.9v0.9h-0.9zM382.9 161.2h0.9v0.9h-0.9zM372.2 156.3h0.9v0.9h-0.9zM380.5 154.2h0.9v0.9h-0.9zM372.5 158.6h0.9v0.9h-0.9zM375.3 146.5h0.9v0.9h-0.9zM375.5 165.9h0.9v0.9h-0.9zM375.1 148.7h0.9v0.9h-0.9zM377.8 149.1h0.9v0.9h-0.9zM368.5 154.1h0.9v0.9h-0.9zM378.1 155.3h0.9v0.9h-0.9zM380.4 168.1h0.9v0.9h-0.9zM381.1 176.1h0.9v0.9h-0.9zM373.5 168.7h0.9v0.9h-0.9zM379.4 164.5h0.9v0.9h-0.9zM373.4 166.6h0.9v0.9h-0.9zM377.0 168.7h0.9v0.9h-0.9zM375.6 154.4h0.9v0.9h-0.9zM368.8 159.5h0.9v0.9h-0.9zM385.2 162.8h0.9v0.9h-0.9zM376.2 151.8h0.9v0.9h-0.9zM377.8 161.5h0.9v0.9h-0.9zM377.0 157.7h0.9v0.9h-0.9zM370.8 150.8h0.9v0.9h-0.9zM373.0 149.9h0.9v0.9h-0.9zM370.7 163.7h0.9v0.9h-0.9zM376.1 154.9h0.9v0.9h-0.9zM375.3 172.7h0.9v0.9h-0.9zM370.1 167.6h0.9v0.9h-0.9zM365.8 178.0h0.9v0.9h-0.9zM385.1 162.1h0.9v0.9h-0.9zM379.3 165.4h0.9v0.9h-0.9zM366.2 171.0h0.9v0.9h-0.9zM380.0 169.7h0.9v0.9h-0.9zM377.5 147.7h0.9v0.9h-0.9zM372.7 119.2h0.9v0.9h-0.9zM377.2 152.1h0.9v0.9h-0.9zM373.1 172.3h0.9v0.9h-0.9zM376.0 129.1h0.9v0.9h-0.9zM381.0 144.3h0.9v0.9h-0.9zM369.9 149.0h0.9v0.9h-0.9zM382.2 145.7h0.9v0.9h-0.9zM377.7 166.9h0.9v0.9h-0.9zM365.2 175.7h0.9v0.9h-0.9zM372.4 178.5h0.9v0.9h-0.9zM373.8 176.6h0.9v0.9h-0.9zM386.4 136.1h0.9v0.9h-0.9zM369.9 153.6h0.9v0.9h-0.9zM380.8 178.7h0.9v0.9h-0.9zM376.6 165.5h0.9v0.9h-0.9zM379.9 149.8h0.9v0.9h-0.9zM372.8 161.7h0.9v0.9h-0.9zM382.7 152.2h0.9v0.9h-0.9zM379.3 151.8h0.9v0.9h-0.9zM370.1 161.6h0.9v0.9h-0.9zM376.8 161.2h0.9v0.9h-0.9zM372.1 154.2h0.9v0.9h-0.9zM380.6 144.4h0.9v0.9h-0.9zM372.8 147.5h0.9v0.9h-0.9zM376.4 174.5h0.9v0.9h-0.9zM374.1 152.7h0.9v0.9h-0.9zM374.1 160.9h0.9v0.9h-0.9zM373.5 149.6h0.9v0.9h-0.9zM377.6 177.0h0.9v0.9h-0.9zM377.1 152.6h0.9v0.9h-0.9zM382.6 160.7h0.9v0.9h-0.9zM378.0 158.6h0.9v0.9h-0.9zM378.2 145.8h0.9v0.9h-0.9zM375.8 158.3h0.9v0.9h-0.9zM374.8 162.0h0.9v0.9h-0.9zM390.1 149.4h0.9v0.9h-0.9zM374.4 145.6h0.9v0.9h-0.9zM376.4 154.2h0.9v0.9h-0.9zM380.9 158.9h0.9v0.9h-0.9zM375.3 160.7h0.9v0.9h-0.9zM386.0 172.2h0.9v0.9h-0.9zM378.0 172.3h0.9v0.9h-0.9zM374.8 142.4h0.9v0.9h-0.9zM368.8 166.1h0.9v0.9h-0.9zM377.7 153.6h0.9v0.9h-0.9zM371.1 169.5h0.9v0.9h-0.9zM373.7 146.7h0.9v0.9h-0.9zM379.7 161.6h0.9v0.9h-0.9zM369.7 177.2h0.9v0.9h-0.9zM373.0 154.1h0.9v0.9h-0.9zM372.2 156.3h0.9v0.9h-0.9zM383.5 156.5h0.9v0.9h-0.9zM379.6 152.5h0.9v0.9h-0.9zM382.0 174.2h0.9v0.9h-0.9zM377.1 138.2h0.9v0.9h-0.9zM369.5 153.1h0.9v0.9h-0.9zM380.0 161.6h0.9v0.9h-0.9zM377.3 162.7h0.9v0.9h-0.9zM374.2 159.2h0.9v0.9h-0.9zM373.1 160.2h0.9v0.9h-0.9zM379.4 178.3h0.9v0.9h-0.9zM383.0 158.7h0.9v0.9h-0.9zM373.6 155.4h0.9v0.9h-0.9zM366.6 170.6h0.9v0.9h-0.9zM380.4 164.7h0.9v0.9h-0.9zM376.2 167.8h0.9v0.9h-0.9zM380.8 174.5h0.9v0.9h-0.9zM372.6 175.5h0.9v0.9h-0.9zM370.4 174.2h0.9v0.9h-0.9zM389.3 171.6h0.9v0.9h-0.9zM376.1 178.0h0.9v0.9h-0.9zM375.6 161.8h0.9v0.9h-0.9zM373.5 158.6h0.9v0.9h-0.9zM376.7 152.5h0.9v0.9h-0.9zM381.9 164.2h0.9v0.9h-0.9zM369.8 151.9h0.9v0.9h-0.9zM375.6 156.6h0.9v0.9h-0.9zM383.5 148.8h0.9v0.9h-0.9zM376.0 158.8h0.9v0.9h-0.9zM375.1 167.2h0.9v0.9h-0.9zM378.9 154.1h0.9v0.9h-0.9zM373.3 164.5h0.9v0.9h-0.9zM375.7 154.5h0.9v0.9h-0.9zM367.8 163.9h0.9v0.9h-0.9zM373.7 166.0h0.9v0.9h-0.9zM372.8 159.4h0.9v0.9h-0.9zM374.7 140.0h0.9v0.9h-0.9zM376.2 163.5h0.9v0.9h-0.9zM375.5 161.2h0.9v0.9h-0.9zM383.2 137.9h0.9v0.9h-0.9zM370.9 152.6h0.9v0.9h-0.9zM372.0 154.5h0.9v0.9h-0.9zM369.3 156.2h0.9v0.9h-0.9zM378.4 152.5h0.9v0.9h-0.9zM379.3 169.5h0.9v0.9h-0.9zM380.1 162.9h0.9v0.9h-0.9zM366.2 158.6h0.9v0.9h-0.9zM363.5 142.9h0.9v0.9h-0.9zM379.2 128.9h0.9v0.9h-0.9zM379.3 153.4h0.9v0.9h-0.9zM379.3 175.4h0.9v0.9h-0.9zM375.7 148.8h0.9v0.9h-0.9zM379.1 145.7h0.9v0.9h-0.9zM376.1 159.4h0.9v0.9h-0.9zM381.5 140.9h0.9v0.9h-0.9zM380.7 142.1h0.9v0.9h-0.9zM378.7 164.1h0.9v0.9h-0.9zM372.5 157.6h0.9v0.9h-0.9zM366.8 179.0h0.9v0.9h-0.9zM378.5 156.6h0.9v0.9h-0.9zM380.3 176.6h0.9v0.9h-0.9zM375.4 159.4h0.9v0.9h-0.9zM379.1 158.3h0.9v0.9h-0.9zM384.9 171.7h0.9v0.9h-0.9zM377.1 155.5h0.9v0.9h-0.9zM365.4 147.8h0.9v0.9h-0.9zM386.9 159.4h0.9v0.9h-0.9zM382.2 138.1h0.9v0.9h-0.9zM369.7 170.3h0.9v0.9h-0.9zM381.7 143.9h0.9v0.9h-0.9zM368.2 147.9h0.9v0.9h-0.9zM376.5 135.2h0.9v0.9h-0.9zM384.5 147.6h0.9v0.9h-0.9zM377.8 169.2h0.9v0.9h-0.9zM375.6 160.0h0.9v0.9h-0.9zM381.7 158.0h0.9v0.9h-0.9zM373.6 159.4h0.9v0.9h-0.9zM364.7 154.1h0.9v0.9h-0.9zM373.4 175.0h0.9v0.9h-0.9zM378.2 148.9h0.9v0.9h-0.9zM368.8 167.2h0.9v0.9h-0.9zM378.0 169.0h0.9v0.9h-0.9zM376.2 164.0h0.9v0.9h-0.9zM376.0 148.8h0.9v0.9h-0.9zM380.5 168.7h0.9v0.9h-0.9zM374.4 175.1h0.9v0.9h-0.9zM378.9 151.8h0.9v0.9h-0.9zM371.6 178.2h0.9v0.9h-0.9zM380.8 146.8h0.9v0.9h-0.9zM389.7 172.8h0.9v0.9h-0.9zM375.7 156.1h0.9v0.9h-0.9zM380.3 177.2h0.9v0.9h-0.9zM378.1 158.0h0.9v0.9h-0.9zM368.8 145.2h0.9v0.9h-0.9zM370.3 138.1h0.9v0.9h-0.9zM378.2 155.2h0.9v0.9h-0.9zM385.1 171.8h0.9v0.9h-0.9zM380.8 157.1h0.9v0.9h-0.9zM376.4 152.5h0.9v0.9h-0.9zM373.4 159.6h0.9v0.9h-0.9zM374.1 155.6h0.9v0.9h-0.9zM375.0 161.1h0.9v0.9h-0.9zM382.8 157.9h0.9v0.9h-0.9zM374.1 166.7h0.9v0.9h-0.9zM377.2 147.5h0.9v0.9h-0.9zM374.7 158.7h0.9v0.9h-0.9zM372.3 169.2h0.9v0.9h-0.9zM377.8 153.7h0.9v0.9h-0.9zM381.9 164.2h0.9v0.9h-0.9zM376.3 163.0h0.9v0.9h-0.9zM380.4 167.9h0.9v0.9h-0.9zM372.5 163.8h0.9v0.9h-0.9zM375.5 156.6h0.9v0.9h-0.9zM374.4 172.4h0.9v0.9h-0.9zM373.1 170.3h0.9v0.9h-0.9zM381.8 155.9h0.9v0.9h-0.9zM376.6 172.4h0.9v0.9h-0.9zM385.4 158.8h0.9v0.9h-0.9zM375.3 164.0h0.9v0.9h-0.9zM379.8 155.8h0.9v0.9h-0.9zM380.6 165.6h0.9v0.9h-0.9zM376.4 149.4h0.9v0.9h-0.9zM379.9 135.5h0.9v0.9h-0.9zM371.1 139.9h0.9v0.9h-0.9zM374.2 157.5h0.9v0.9h-0.9zM374.3 152.4h0.9v0.9h-0.9zM379.8 138.1h0.9v0.9h-0.9zM368.4 163.6h0.9v0.9h-0.9zM382.2 164.3h0.9v0.9h-0.9zM370.0 139.2h0.9v0.9h-0.9zM379.0 163.1h0.9v0.9h-0.9zM376.5 144.9h0.9v0.9h-0.9zM363.3 169.1h0.9v0.9h-0.9zM385.1 169.6h0.9v0.9h-0.9zM378.8 165.3h0.9v0.9h-0.9zM375.1 157.0h0.9v0.9h-0.9zM376.4 150.6h0.9v0.9h-0.9zM377.9 145.7h0.9v0.9h-0.9zM383.7 150.4h0.9v0.9h-0.9zM380.5 166.6h0.9v0.9h-0.9zM381.0 164.9h0.9v0.9h-0.9zM374.8 173.2h0.9v0.9h-0.9zM381.6 146.6h0.9v0.9h-0.9zM376.5 156.4h0.9v0.9h-0.9z" fill="#222" fill-opacity="0.85"/>
<path d="M364.8 146.0h0.9v0.9h-0.9zM368.4 124.4h0.9v0.9h-0.9zM379.9 145.9h0.9v0.9h-0.9zM369.4 147.3h0.9v0.9h-0.9zM365.5 136.6h0.9v0.9h-0.9zM378.7 140.6h0.9v0.9h-0.9zM374.6 137.3h0.9v0.9h-0.9zM367.0 158.2h0.9v0.9h-0.9zM374.7 132.3h0.9v0.9h-0.9zM367.8 141.0h0.9v0.9h-0.9zM369.1 131.6h0.9v0.9h-0.9zM369.1 134.1h0.9v0.9h-0.9zM373.7 146.8h0.9v0.9h-0.9zM367.6 141.8h0.9v0.9h-0.9zM367.7 154.1h0.9v0.9h-0.9zM372.5 151.4h0.9v0.9h-0.9zM369.6 140.4h0.9v0.9h-0.9zM362.9 156.5h0.9v0.9h-0.9zM377.8 145.0h0.9v0.9h-0.9zM369.2 137.6h0.9v0.9h-0.9zM374.3 145.7h0.9v0.9h-0.9zM366.5 158.0h0.9v0.9h-0.9zM372.7 147.8h0.9v0.9h-0.9zM369.7 142.2h0.9v0.9h-0.9zM366.0 139.6h0.9v0.9h-0.9zM367.4 153.8h0.9v0.9h-0.9zM365.2 160.0h0.9v0.9h-0.9zM375.6 138.4h0.9v0.9h-0.9zM366.1 127.3h0.9v0.9h-0.9zM374.4 152.1h0.9v0.9h-0.9zM378.3 147.8h0.9v0.9h-0.9zM372.1 141.7h0.9v0.9h-0.9zM363.8 151.5h0.9v0.9h-0.9zM368.4 144.3h0.9v0.9h-0.9zM366.2 149.9h0.9v0.9h-0.9zM375.5 150.9h0.9v0.9h-0.9zM365.2 147.4h0.9v0.9h-0.9zM371.9 155.3h0.9v0.9h-0.9zM375.5 155.1h0.9v0.9h-0.9zM367.2 164.5h0.9v0.9h-0.9zM370.1 151.9h0.9v0.9h-0.9zM373.1 159.9h0.9v0.9h-0.9zM375.4 128.0h0.9v0.9h-0.9zM362.9 143.6h0.9v0.9h-0.9zM366.2 154.7h0.9v0.9h-0.9zM377.7 158.2h0.9v0.9h-0.9zM364.9 150.2h0.9v0.9h-0.9zM374.8 152.2h0.9v0.9h-0.9zM374.8 172.1h0.9v0.9h-0.9zM374.2 149.2h0.9v0.9h-0.9zM373.0 148.2h0.9v0.9h-0.9zM368.1 145.0h0.9v0.9h-0.9zM365.5 134.9h0.9v0.9h-0.9zM370.5 135.9h0.9v0.9h-0.9zM367.0 138.2h0.9v0.9h-0.9zM364.3 117.6h0.9v0.9h-0.9zM373.3 158.6h0.9v0.9h-0.9zM371.1 137.8h0.9v0.9h-0.9zM375.7 148.7h0.9v0.9h-0.9zM363.1 144.1h0.9v0.9h-0.9zM370.3 136.0h0.9v0.9h-0.9zM372.7 130.2h0.9v0.9h-0.9zM370.1 152.3h0.9v0.9h-0.9zM374.4 136.3h0.9v0.9h-0.9zM364.3 142.9h0.9v0.9h-0.9zM370.0 142.9h0.9v0.9h-0.9zM368.4 133.4h0.9v0.9h-0.9zM374.7 152.5h0.9v0.9h-0.9zM373.6 142.7h0.9v0.9h-0.9zM367.0 139.6h0.9v0.9h-0.9z" fill="#222" fill-opacity="0.85"/>
<ellipse cx="472" cy="170" rx="8" ry="6.5" fill="#000" filter="url(#bl)"/>
<ellipse cx="453" cy="172.5" rx="4.5" ry="3.5" fill="#111" filter="url(#bl)"/>
<path d="M473.0 161.7h0.9v0.9h-0.9zM474.1 171.8h0.9v0.9h-0.9zM468.3 174.4h0.9v0.9h-0.9zM476.2 156.9h0.9v0.9h-0.9zM469.5 168.7h0.9v0.9h-0.9zM458.1 172.9h0.9v0.9h-0.9zM477.7 172.3h0.9v0.9h-0.9zM471.1 177.4h0.9v0.9h-0.9zM472.4 171.1h0.9v0.9h-0.9zM474.8 175.7h0.9v0.9h-0.9zM461.8 174.5h0.9v0.9h-0.9zM474.0 177.3h0.9v0.9h-0.9zM473.2 168.9h0.9v0.9h-0.9zM467.9 169.7h0.9v0.9h-0.9zM468.5 172.3h0.9v0.9h-0.9zM472.2 165.3h0.9v0.9h-0.9zM476.1 169.1h0.9v0.9h-0.9zM469.6 177.0h0.9v0.9h-0.9zM474.6 171.9h0.9v0.9h-0.9zM467.5 176.5h0.9v0.9h-0.9zM475.5 162.9h0.9v0.9h-0.9zM470.3 176.4h0.9v0.9h-0.9zM477.7 168.9h0.9v0.9h-0.9zM473.3 170.5h0.9v0.9h-0.9zM458.0 173.4h0.9v0.9h-0.9zM480.6 166.4h0.9v0.9h-0.9zM472.7 174.8h0.9v0.9h-0.9zM473.5 175.3h0.9v0.9h-0.9zM472.2 168.1h0.9v0.9h-0.9zM467.9 169.0h0.9v0.9h-0.9zM464.2 162.9h0.9v0.9h-0.9zM472.5 164.4h0.9v0.9h-0.9zM472.8 168.9h0.9v0.9h-0.9zM471.0 172.5h0.9v0.9h-0.9zM469.2 163.7h0.9v0.9h-0.9zM470.4 168.4h0.9v0.9h-0.9zM479.9 175.0h0.9v0.9h-0.9zM464.0 159.6h0.9v0.9h-0.9zM464.6 172.5h0.9v0.9h-0.9zM460.9 174.4h0.9v0.9h-0.9zM470.0 175.6h0.9v0.9h-0.9zM473.4 164.3h0.9v0.9h-0.9zM469.5 170.5h0.9v0.9h-0.9zM478.9 167.9h0.9v0.9h-0.9zM468.5 170.1h0.9v0.9h-0.9zM467.3 172.3h0.9v0.9h-0.9zM474.2 174.3h0.9v0.9h-0.9zM466.8 175.8h0.9v0.9h-0.9zM488.9 177.2h0.9v0.9h-0.9zM472.5 168.8h0.9v0.9h-0.9zM462.6 172.0h0.9v0.9h-0.9zM484.2 172.4h0.9v0.9h-0.9zM474.2 169.1h0.9v0.9h-0.9zM469.9 178.3h0.9v0.9h-0.9zM472.2 169.0h0.9v0.9h-0.9zM466.7 170.2h0.9v0.9h-0.9zM473.1 167.5h0.9v0.9h-0.9zM471.4 168.4h0.9v0.9h-0.9zM466.7 165.6h0.9v0.9h-0.9zM487.8 162.4h0.9v0.9h-0.9zM476.1 161.9h0.9v0.9h-0.9zM466.2 174.6h0.9v0.9h-0.9zM463.2 173.7h0.9v0.9h-0.9zM480.7 168.3h0.9v0.9h-0.9zM476.6 175.1h0.9v0.9h-0.9zM459.5 167.2h0.9v0.9h-0.9zM469.4 174.5h0.9v0.9h-0.9zM469.2 162.5h0.9v0.9h-0.9zM463.9 169.8h0.9v0.9h-0.9zM472.3 171.9h0.9v0.9h-0.9zM465.2 172.1h0.9v0.9h-0.9zM471.2 164.0h0.9v0.9h-0.9zM475.4 167.4h0.9v0.9h-0.9zM475.4 165.5h0.9v0.9h-0.9zM482.1 172.6h0.9v0.9h-0.9zM458.3 167.4h0.9v0.9h-0.9zM470.4 170.1h0.9v0.9h-0.9zM464.8 174.8h0.9v0.9h-0.9zM472.9 177.5h0.9v0.9h-0.9zM473.2 177.6h0.9v0.9h-0.9zM481.4 170.1h0.9v0.9h-0.9zM473.7 174.7h0.9v0.9h-0.9zM474.8 169.0h0.9v0.9h-0.9zM486.1 176.1h0.9v0.9h-0.9zM475.0 162.9h0.9v0.9h-0.9zM465.4 168.5h0.9v0.9h-0.9zM465.2 161.5h0.9v0.9h-0.9zM475.7 173.4h0.9v0.9h-0.9zM468.5 169.4h0.9v0.9h-0.9zM478.7 174.5h0.9v0.9h-0.9zM483.0 168.5h0.9v0.9h-0.9zM469.8 174.0h0.9v0.9h-0.9zM483.1 168.7h0.9v0.9h-0.9zM470.0 168.2h0.9v0.9h-0.9zM478.8 176.2h0.9v0.9h-0.9zM466.1 175.5h0.9v0.9h-0.9zM476.7 176.7h0.9v0.9h-0.9zM469.1 169.3h0.9v0.9h-0.9zM475.1 172.5h0.9v0.9h-0.9zM466.1 173.8h0.9v0.9h-0.9zM475.7 168.3h0.9v0.9h-0.9zM474.5 175.9h0.9v0.9h-0.9zM472.1 170.1h0.9v0.9h-0.9zM465.8 169.3h0.9v0.9h-0.9zM467.8 164.2h0.9v0.9h-0.9zM477.8 172.1h0.9v0.9h-0.9zM474.0 170.7h0.9v0.9h-0.9zM480.2 160.2h0.9v0.9h-0.9zM481.4 167.1h0.9v0.9h-0.9zM466.6 165.3h0.9v0.9h-0.9zM466.8 168.8h0.9v0.9h-0.9zM476.7 165.1h0.9v0.9h-0.9zM476.9 166.8h0.9v0.9h-0.9zM472.0 177.3h0.9v0.9h-0.9zM470.0 163.4h0.9v0.9h-0.9zM472.5 171.8h0.9v0.9h-0.9zM469.8 167.3h0.9v0.9h-0.9zM475.8 164.5h0.9v0.9h-0.9zM471.2 165.2h0.9v0.9h-0.9zM475.7 167.3h0.9v0.9h-0.9zM474.2 169.4h0.9v0.9h-0.9zM471.6 164.9h0.9v0.9h-0.9zM479.6 166.7h0.9v0.9h-0.9zM471.2 162.6h0.9v0.9h-0.9zM472.5 165.0h0.9v0.9h-0.9zM465.6 175.1h0.9v0.9h-0.9zM476.6 171.2h0.9v0.9h-0.9zM473.2 172.7h0.9v0.9h-0.9zM472.0 170.7h0.9v0.9h-0.9zM466.1 167.5h0.9v0.9h-0.9zM471.1 155.5h0.9v0.9h-0.9zM464.8 164.9h0.9v0.9h-0.9zM484.2 160.9h0.9v0.9h-0.9zM460.8 173.4h0.9v0.9h-0.9zM466.0 172.2h0.9v0.9h-0.9zM471.7 178.6h0.9v0.9h-0.9zM471.9 174.3h0.9v0.9h-0.9zM471.0 169.8h0.9v0.9h-0.9zM472.1 169.3h0.9v0.9h-0.9zM480.5 178.2h0.9v0.9h-0.9zM472.2 168.4h0.9v0.9h-0.9zM473.2 175.1h0.9v0.9h-0.9zM476.4 170.0h0.9v0.9h-0.9zM480.8 172.2h0.9v0.9h-0.9zM474.0 177.0h0.9v0.9h-0.9zM482.0 170.2h0.9v0.9h-0.9zM473.9 168.6h0.9v0.9h-0.9zM483.7 167.6h0.9v0.9h-0.9zM469.5 175.4h0.9v0.9h-0.9zM475.8 169.6h0.9v0.9h-0.9zM477.2 171.3h0.9v0.9h-0.9zM472.0 171.6h0.9v0.9h-0.9zM475.5 170.9h0.9v0.9h-0.9zM475.0 170.6h0.9v0.9h-0.9zM475.3 164.6h0.9v0.9h-0.9zM482.3 175.3h0.9v0.9h-0.9zM474.0 173.0h0.9v0.9h-0.9zM483.0 172.3h0.9v0.9h-0.9zM464.5 171.8h0.9v0.9h-0.9zM460.3 168.7h0.9v0.9h-0.9zM480.8 163.8h0.9v0.9h-0.9zM462.9 167.8h0.9v0.9h-0.9zM470.6 169.4h0.9v0.9h-0.9zM471.2 172.2h0.9v0.9h-0.9zM478.3 169.0h0.9v0.9h-0.9zM466.9 167.2h0.9v0.9h-0.9zM471.7 174.3h0.9v0.9h-0.9zM478.3 166.9h0.9v0.9h-0.9zM470.0 162.1h0.9v0.9h-0.9zM474.9 168.0h0.9v0.9h-0.9zM481.2 172.1h0.9v0.9h-0.9zM479.1 178.5h0.9v0.9h-0.9zM464.8 170.0h0.9v0.9h-0.9zM470.8 176.4h0.9v0.9h-0.9zM471.6 170.4h0.9v0.9h-0.9zM460.1 167.1h0.9v0.9h-0.9zM468.6 164.2h0.9v0.9h-0.9zM473.1 168.1h0.9v0.9h-0.9zM473.3 174.6h0.9v0.9h-0.9zM474.6 169.8h0.9v0.9h-0.9zM474.1 163.6h0.9v0.9h-0.9zM469.8 166.6h0.9v0.9h-0.9zM483.4 162.8h0.9v0.9h-0.9zM469.9 172.6h0.9v0.9h-0.9zM469.2 173.2h0.9v0.9h-0.9zM465.2 175.1h0.9v0.9h-0.9zM473.3 157.8h0.9v0.9h-0.9zM463.6 162.7h0.9v0.9h-0.9zM470.5 167.7h0.9v0.9h-0.9zM474.1 173.1h0.9v0.9h-0.9zM475.6 172.2h0.9v0.9h-0.9zM467.2 161.6h0.9v0.9h-0.9zM464.8 171.7h0.9v0.9h-0.9zM466.3 163.0h0.9v0.9h-0.9zM466.9 171.8h0.9v0.9h-0.9zM464.2 168.5h0.9v0.9h-0.9zM476.4 174.1h0.9v0.9h-0.9zM461.9 169.4h0.9v0.9h-0.9zM470.6 161.9h0.9v0.9h-0.9zM468.3 169.5h0.9v0.9h-0.9zM469.2 173.5h0.9v0.9h-0.9zM469.7 169.8h0.9v0.9h-0.9zM492.4 172.0h0.9v0.9h-0.9zM477.1 169.7h0.9v0.9h-0.9zM457.4 178.8h0.9v0.9h-0.9zM469.3 173.3h0.9v0.9h-0.9zM463.6 170.2h0.9v0.9h-0.9zM478.5 163.6h0.9v0.9h-0.9zM483.5 175.0h0.9v0.9h-0.9zM474.4 168.1h0.9v0.9h-0.9zM477.7 158.5h0.9v0.9h-0.9zM479.5 158.8h0.9v0.9h-0.9zM469.0 176.8h0.9v0.9h-0.9zM474.0 159.3h0.9v0.9h-0.9zM462.1 162.6h0.9v0.9h-0.9zM468.9 164.9h0.9v0.9h-0.9zM477.8 167.6h0.9v0.9h-0.9zM482.5 176.9h0.9v0.9h-0.9zM464.6 176.6h0.9v0.9h-0.9zM479.9 163.2h0.9v0.9h-0.9zM470.0 165.0h0.9v0.9h-0.9zM466.0 169.2h0.9v0.9h-0.9zM473.9 165.0h0.9v0.9h-0.9zM462.4 173.0h0.9v0.9h-0.9zM480.0 175.8h0.9v0.9h-0.9zM463.5 166.7h0.9v0.9h-0.9zM470.1 165.8h0.9v0.9h-0.9zM478.4 164.6h0.9v0.9h-0.9zM470.2 171.5h0.9v0.9h-0.9zM472.4 170.9h0.9v0.9h-0.9zM471.2 172.4h0.9v0.9h-0.9zM473.9 169.8h0.9v0.9h-0.9zM475.4 171.8h0.9v0.9h-0.9zM476.3 172.2h0.9v0.9h-0.9zM474.8 171.5h0.9v0.9h-0.9zM466.9 166.9h0.9v0.9h-0.9zM470.2 165.9h0.9v0.9h-0.9zM469.2 165.9h0.9v0.9h-0.9zM467.9 171.3h0.9v0.9h-0.9zM472.0 169.9h0.9v0.9h-0.9zM470.5 168.3h0.9v0.9h-0.9zM475.4 171.9h0.9v0.9h-0.9zM473.7 174.6h0.9v0.9h-0.9zM469.4 173.6h0.9v0.9h-0.9zM473.0 164.2h0.9v0.9h-0.9zM479.5 164.5h0.9v0.9h-0.9zM476.8 165.6h0.9v0.9h-0.9zM467.9 175.7h0.9v0.9h-0.9zM474.4 169.5h0.9v0.9h-0.9zM467.3 160.2h0.9v0.9h-0.9zM469.1 168.6h0.9v0.9h-0.9zM477.3 169.4h0.9v0.9h-0.9zM478.0 166.6h0.9v0.9h-0.9zM477.5 174.1h0.9v0.9h-0.9zM470.6 174.0h0.9v0.9h-0.9zM482.0 162.0h0.9v0.9h-0.9zM464.2 165.8h0.9v0.9h-0.9zM468.7 164.3h0.9v0.9h-0.9zM472.9 162.0h0.9v0.9h-0.9zM482.8 169.0h0.9v0.9h-0.9zM473.3 168.5h0.9v0.9h-0.9zM468.6 170.1h0.9v0.9h-0.9zM471.2 171.5h0.9v0.9h-0.9zM476.5 165.0h0.9v0.9h-0.9zM461.5 165.9h0.9v0.9h-0.9zM473.5 158.5h0.9v0.9h-0.9zM474.7 170.1h0.9v0.9h-0.9zM464.1 170.7h0.9v0.9h-0.9zM477.6 169.0h0.9v0.9h-0.9zM474.9 172.6h0.9v0.9h-0.9zM479.0 176.0h0.9v0.9h-0.9zM467.6 168.3h0.9v0.9h-0.9zM472.2 164.1h0.9v0.9h-0.9zM472.8 171.5h0.9v0.9h-0.9zM473.9 159.3h0.9v0.9h-0.9zM468.3 156.0h0.9v0.9h-0.9zM472.6 169.4h0.9v0.9h-0.9zM476.7 174.3h0.9v0.9h-0.9zM466.4 169.0h0.9v0.9h-0.9zM473.0 173.7h0.9v0.9h-0.9zM478.9 168.5h0.9v0.9h-0.9zM463.3 173.8h0.9v0.9h-0.9zM470.8 159.7h0.9v0.9h-0.9zM473.1 164.9h0.9v0.9h-0.9zM472.2 176.0h0.9v0.9h-0.9zM471.7 165.2h0.9v0.9h-0.9zM474.5 168.0h0.9v0.9h-0.9zM472.6 174.9h0.9v0.9h-0.9zM473.4 172.1h0.9v0.9h-0.9zM471.7 170.2h0.9v0.9h-0.9zM465.9 165.4h0.9v0.9h-0.9zM478.1 176.6h0.9v0.9h-0.9zM465.6 173.1h0.9v0.9h-0.9zM477.3 165.2h0.9v0.9h-0.9zM476.2 172.6h0.9v0.9h-0.9zM479.2 178.9h0.9v0.9h-0.9zM472.2 171.6h0.9v0.9h-0.9zM466.8 171.0h0.9v0.9h-0.9zM472.3 168.4h0.9v0.9h-0.9zM472.9 174.2h0.9v0.9h-0.9zM477.6 173.6h0.9v0.9h-0.9zM482.7 161.8h0.9v0.9h-0.9zM471.2 169.1h0.9v0.9h-0.9zM469.8 167.1h0.9v0.9h-0.9zM463.9 167.8h0.9v0.9h-0.9zM479.3 167.1h0.9v0.9h-0.9zM471.9 171.8h0.9v0.9h-0.9zM472.1 164.4h0.9v0.9h-0.9zM469.1 175.8h0.9v0.9h-0.9zM468.1 162.9h0.9v0.9h-0.9zM483.4 170.3h0.9v0.9h-0.9zM465.6 160.1h0.9v0.9h-0.9zM467.7 162.5h0.9v0.9h-0.9zM471.3 174.5h0.9v0.9h-0.9zM476.8 167.6h0.9v0.9h-0.9zM475.9 167.2h0.9v0.9h-0.9zM457.1 173.3h0.9v0.9h-0.9zM467.4 164.4h0.9v0.9h-0.9zM478.0 169.8h0.9v0.9h-0.9zM477.3 174.7h0.9v0.9h-0.9zM476.6 168.9h0.9v0.9h-0.9zM484.3 164.1h0.9v0.9h-0.9zM471.1 166.3h0.9v0.9h-0.9zM477.1 175.5h0.9v0.9h-0.9zM475.5 166.1h0.9v0.9h-0.9zM473.1 161.7h0.9v0.9h-0.9zM478.5 175.7h0.9v0.9h-0.9zM471.1 172.8h0.9v0.9h-0.9zM470.5 169.9h0.9v0.9h-0.9zM473.1 168.4h0.9v0.9h-0.9zM489.5 167.9h0.9v0.9h-0.9zM478.2 164.8h0.9v0.9h-0.9zM473.8 169.4h0.9v0.9h-0.9zM467.3 174.0h0.9v0.9h-0.9zM476.8 176.6h0.9v0.9h-0.9zM474.7 164.1h0.9v0.9h-0.9zM477.1 171.2h0.9v0.9h-0.9zM483.1 156.9h0.9v0.9h-0.9zM471.3 170.1h0.9v0.9h-0.9zM478.4 163.2h0.9v0.9h-0.9zM478.8 171.1h0.9v0.9h-0.9zM459.5 164.0h0.9v0.9h-0.9zM467.2 172.0h0.9v0.9h-0.9zM469.5 169.1h0.9v0.9h-0.9zM467.7 172.2h0.9v0.9h-0.9zM477.1 178.9h0.9v0.9h-0.9zM463.4 165.6h0.9v0.9h-0.9zM468.6 167.1h0.9v0.9h-0.9zM471.3 173.0h0.9v0.9h-0.9zM468.5 166.1h0.9v0.9h-0.9zM479.6 176.9h0.9v0.9h-0.9zM467.8 176.8h0.9v0.9h-0.9zM476.5 169.1h0.9v0.9h-0.9zM475.9 166.1h0.9v0.9h-0.9zM465.6 168.2h0.9v0.9h-0.9zM463.2 167.4h0.9v0.9h-0.9zM472.6 164.2h0.9v0.9h-0.9zM467.8 158.9h0.9v0.9h-0.9zM465.3 169.1h0.9v0.9h-0.9zM468.3 170.3h0.9v0.9h-0.9zM468.3 166.8h0.9v0.9h-0.9zM462.4 178.6h0.9v0.9h-0.9zM470.7 174.3h0.9v0.9h-0.9zM467.5 163.2h0.9v0.9h-0.9zM473.8 167.2h0.9v0.9h-0.9zM471.7 172.9h0.9v0.9h-0.9zM475.8 173.8h0.9v0.9h-0.9zM473.3 159.2h0.9v0.9h-0.9zM475.0 177.7h0.9v0.9h-0.9zM474.5 175.1h0.9v0.9h-0.9zM475.1 172.4h0.9v0.9h-0.9zM475.8 161.5h0.9v0.9h-0.9zM459.5 169.9h0.9v0.9h-0.9zM475.9 172.5h0.9v0.9h-0.9zM470.6 166.9h0.9v0.9h-0.9zM466.0 171.4h0.9v0.9h-0.9zM474.2 173.5h0.9v0.9h-0.9zM471.5 176.4h0.9v0.9h-0.9zM467.9 175.5h0.9v0.9h-0.9zM467.4 177.2h0.9v0.9h-0.9zM478.0 164.2h0.9v0.9h-0.9zM475.4 164.2h0.9v0.9h-0.9zM483.0 175.4h0.9v0.9h-0.9zM472.8 171.5h0.9v0.9h-0.9zM471.9 167.1h0.9v0.9h-0.9zM465.7 169.1h0.9v0.9h-0.9zM478.3 171.4h0.9v0.9h-0.9zM479.0 175.1h0.9v0.9h-0.9zM475.4 164.7h0.9v0.9h-0.9zM466.4 167.5h0.9v0.9h-0.9zM459.1 161.1h0.9v0.9h-0.9zM472.7 176.9h0.9v0.9h-0.9zM485.3 170.5h0.9v0.9h-0.9zM477.9 171.5h0.9v0.9h-0.9zM467.0 174.6h0.9v0.9h-0.9zM472.0 173.0h0.9v0.9h-0.9zM461.1 167.8h0.9v0.9h-0.9zM478.1 168.4h0.9v0.9h-0.9zM472.2 174.3h0.9v0.9h-0.9zM481.0 177.1h0.9v0.9h-0.9zM473.1 166.7h0.9v0.9h-0.9zM478.0 166.1h0.9v0.9h-0.9zM464.9 165.2h0.9v0.9h-0.9zM472.0 165.7h0.9v0.9h-0.9zM467.3 175.0h0.9v0.9h-0.9zM465.4 163.1h0.9v0.9h-0.9zM472.6 173.1h0.9v0.9h-0.9zM469.1 164.3h0.9v0.9h-0.9zM486.8 167.4h0.9v0.9h-0.9zM488.3 165.7h0.9v0.9h-0.9zM480.0 163.1h0.9v0.9h-0.9zM482.2 172.7h0.9v0.9h-0.9zM474.0 166.7h0.9v0.9h-0.9zM481.9 177.1h0.9v0.9h-0.9zM472.9 171.0h0.9v0.9h-0.9zM468.6 173.5h0.9v0.9h-0.9zM470.7 172.8h0.9v0.9h-0.9zM460.9 172.3h0.9v0.9h-0.9zM478.7 170.9h0.9v0.9h-0.9zM482.1 165.8h0.9v0.9h-0.9zM479.7 170.7h0.9v0.9h-0.9zM473.2 172.5h0.9v0.9h-0.9zM480.9 160.4h0.9v0.9h-0.9zM473.1 169.5h0.9v0.9h-0.9zM477.4 170.0h0.9v0.9h-0.9zM470.0 171.4h0.9v0.9h-0.9zM477.8 166.3h0.9v0.9h-0.9zM473.8 169.3h0.9v0.9h-0.9zM469.2 170.0h0.9v0.9h-0.9zM484.6 167.4h0.9v0.9h-0.9zM476.2 172.9h0.9v0.9h-0.9zM479.9 168.2h0.9v0.9h-0.9zM465.4 174.0h0.9v0.9h-0.9zM460.6 171.4h0.9v0.9h-0.9zM478.6 173.4h0.9v0.9h-0.9zM473.2 168.8h0.9v0.9h-0.9zM469.7 174.8h0.9v0.9h-0.9zM462.8 163.5h0.9v0.9h-0.9zM469.6 168.9h0.9v0.9h-0.9zM475.7 168.5h0.9v0.9h-0.9zM473.0 167.0h0.9v0.9h-0.9zM479.0 174.5h0.9v0.9h-0.9zM462.6 175.8h0.9v0.9h-0.9zM474.6 170.5h0.9v0.9h-0.9zM477.7 172.5h0.9v0.9h-0.9zM473.8 172.3h0.9v0.9h-0.9zM462.0 172.2h0.9v0.9h-0.9zM473.5 164.1h0.9v0.9h-0.9zM469.3 173.0h0.9v0.9h-0.9zM469.9 164.5h0.9v0.9h-0.9zM471.2 166.9h0.9v0.9h-0.9zM473.3 176.3h0.9v0.9h-0.9zM484.8 169.9h0.9v0.9h-0.9zM475.5 164.5h0.9v0.9h-0.9zM476.7 172.6h0.9v0.9h-0.9zM468.8 173.7h0.9v0.9h-0.9zM468.9 170.7h0.9v0.9h-0.9zM474.2 170.3h0.9v0.9h-0.9zM474.5 172.3h0.9v0.9h-0.9zM469.1 171.0h0.9v0.9h-0.9zM476.8 175.3h0.9v0.9h-0.9zM467.6 167.7h0.9v0.9h-0.9zM470.0 163.0h0.9v0.9h-0.9zM469.0 168.2h0.9v0.9h-0.9zM470.1 169.5h0.9v0.9h-0.9zM466.5 173.6h0.9v0.9h-0.9zM478.3 170.7h0.9v0.9h-0.9zM481.1 160.8h0.9v0.9h-0.9zM455.1 173.4h0.9v0.9h-0.9zM474.9 169.1h0.9v0.9h-0.9zM474.0 165.8h0.9v0.9h-0.9zM466.6 165.7h0.9v0.9h-0.9zM472.7 173.1h0.9v0.9h-0.9zM484.1 168.5h0.9v0.9h-0.9zM462.6 174.8h0.9v0.9h-0.9zM470.1 164.4h0.9v0.9h-0.9zM476.6 159.8h0.9v0.9h-0.9zM469.4 172.5h0.9v0.9h-0.9zM480.3 163.2h0.9v0.9h-0.9zM473.4 176.1h0.9v0.9h-0.9zM477.6 177.4h0.9v0.9h-0.9zM476.7 166.6h0.9v0.9h-0.9zM477.6 166.3h0.9v0.9h-0.9zM461.8 162.0h0.9v0.9h-0.9zM472.7 169.6h0.9v0.9h-0.9zM469.1 175.8h0.9v0.9h-0.9zM471.7 165.8h0.9v0.9h-0.9zM472.4 169.7h0.9v0.9h-0.9zM476.1 169.6h0.9v0.9h-0.9zM477.9 167.5h0.9v0.9h-0.9zM471.6 173.0h0.9v0.9h-0.9zM467.8 171.0h0.9v0.9h-0.9zM473.5 175.4h0.9v0.9h-0.9zM457.8 176.8h0.9v0.9h-0.9zM470.4 170.3h0.9v0.9h-0.9zM480.9 172.7h0.9v0.9h-0.9zM464.1 168.2h0.9v0.9h-0.9zM476.9 168.3h0.9v0.9h-0.9zM474.7 174.6h0.9v0.9h-0.9zM484.2 166.2h0.9v0.9h-0.9zM462.9 165.9h0.9v0.9h-0.9zM469.7 175.2h0.9v0.9h-0.9zM474.0 176.7h0.9v0.9h-0.9zM473.6 162.6h0.9v0.9h-0.9zM474.8 166.3h0.9v0.9h-0.9zM474.3 161.1h0.9v0.9h-0.9zM477.0 164.3h0.9v0.9h-0.9zM470.0 174.6h0.9v0.9h-0.9zM471.0 165.0h0.9v0.9h-0.9zM481.2 168.1h0.9v0.9h-0.9zM478.3 169.4h0.9v0.9h-0.9zM461.7 168.8h0.9v0.9h-0.9zM474.7 169.0h0.9v0.9h-0.9zM482.3 160.8h0.9v0.9h-0.9zM468.1 173.3h0.9v0.9h-0.9zM479.1 174.5h0.9v0.9h-0.9zM466.7 171.7h0.9v0.9h-0.9zM485.3 172.5h0.9v0.9h-0.9zM476.2 174.0h0.9v0.9h-0.9zM471.8 171.4h0.9v0.9h-0.9zM474.7 170.6h0.9v0.9h-0.9zM476.5 170.0h0.9v0.9h-0.9zM469.0 176.0h0.9v0.9h-0.9zM478.0 165.9h0.9v0.9h-0.9zM476.0 165.2h0.9v0.9h-0.9zM474.4 166.1h0.9v0.9h-0.9zM468.8 172.2h0.9v0.9h-0.9zM467.0 174.0h0.9v0.9h-0.9zM482.0 168.6h0.9v0.9h-0.9zM467.9 172.0h0.9v0.9h-0.9zM471.0 161.7h0.9v0.9h-0.9zM485.3 167.3h0.9v0.9h-0.9zM483.4 174.7h0.9v0.9h-0.9zM476.4 172.1h0.9v0.9h-0.9zM470.5 173.3h0.9v0.9h-0.9zM468.9 172.0h0.9v0.9h-0.9zM467.3 170.1h0.9v0.9h-0.9zM455.3 166.9h0.9v0.9h-0.9zM474.6 170.3h0.9v0.9h-0.9zM474.2 172.7h0.9v0.9h-0.9zM482.7 167.1h0.9v0.9h-0.9zM451.0 172.7h0.9v0.9h-0.9zM473.7 169.9h0.9v0.9h-0.9zM476.7 178.4h0.9v0.9h-0.9zM474.2 164.9h0.9v0.9h-0.9zM476.8 166.1h0.9v0.9h-0.9zM463.4 164.1h0.9v0.9h-0.9zM472.4 162.4h0.9v0.9h-0.9zM470.1 172.3h0.9v0.9h-0.9zM458.8 176.5h0.9v0.9h-0.9zM484.3 169.0h0.9v0.9h-0.9zM471.8 168.5h0.9v0.9h-0.9zM454.7 170.9h0.9v0.9h-0.9zM463.4 169.0h0.9v0.9h-0.9zM466.0 165.1h0.9v0.9h-0.9zM468.0 164.2h0.9v0.9h-0.9zM459.3 176.2h0.9v0.9h-0.9zM465.9 174.7h0.9v0.9h-0.9zM476.8 168.2h0.9v0.9h-0.9zM472.6 170.1h0.9v0.9h-0.9zM475.4 172.0h0.9v0.9h-0.9zM470.7 169.6h0.9v0.9h-0.9zM478.4 165.4h0.9v0.9h-0.9zM462.4 158.5h0.9v0.9h-0.9zM470.2 175.0h0.9v0.9h-0.9zM484.7 166.6h0.9v0.9h-0.9zM473.3 165.2h0.9v0.9h-0.9zM473.0 168.9h0.9v0.9h-0.9zM477.6 174.1h0.9v0.9h-0.9zM474.9 170.2h0.9v0.9h-0.9zM477.5 168.7h0.9v0.9h-0.9zM480.0 177.7h0.9v0.9h-0.9zM477.3 179.0h0.9v0.9h-0.9zM468.6 172.5h0.9v0.9h-0.9zM473.9 165.9h0.9v0.9h-0.9zM474.3 169.0h0.9v0.9h-0.9zM475.1 170.6h0.9v0.9h-0.9zM476.5 168.1h0.9v0.9h-0.9zM472.3 174.7h0.9v0.9h-0.9zM480.0 170.7h0.9v0.9h-0.9zM462.0 174.7h0.9v0.9h-0.9zM476.1 164.1h0.9v0.9h-0.9zM460.6 161.3h0.9v0.9h-0.9zM469.7 169.0h0.9v0.9h-0.9zM476.7 177.8h0.9v0.9h-0.9zM473.2 169.4h0.9v0.9h-0.9zM478.4 177.0h0.9v0.9h-0.9zM473.9 166.9h0.9v0.9h-0.9zM466.0 174.5h0.9v0.9h-0.9zM466.6 166.8h0.9v0.9h-0.9zM459.5 163.3h0.9v0.9h-0.9zM475.9 166.7h0.9v0.9h-0.9zM476.9 169.0h0.9v0.9h-0.9zM469.1 174.8h0.9v0.9h-0.9zM473.1 168.1h0.9v0.9h-0.9zM481.3 164.6h0.9v0.9h-0.9zM465.6 170.0h0.9v0.9h-0.9zM472.1 159.7h0.9v0.9h-0.9zM470.5 168.5h0.9v0.9h-0.9zM467.1 170.9h0.9v0.9h-0.9zM459.6 172.1h0.9v0.9h-0.9zM464.5 174.9h0.9v0.9h-0.9zM467.5 161.0h0.9v0.9h-0.9zM472.1 165.4h0.9v0.9h-0.9zM468.7 165.2h0.9v0.9h-0.9zM475.0 168.8h0.9v0.9h-0.9zM474.7 171.0h0.9v0.9h-0.9zM474.8 170.0h0.9v0.9h-0.9zM465.1 173.4h0.9v0.9h-0.9zM470.0 170.1h0.9v0.9h-0.9zM473.0 170.5h0.9v0.9h-0.9zM468.2 166.6h0.9v0.9h-0.9zM466.7 168.1h0.9v0.9h-0.9zM476.5 164.9h0.9v0.9h-0.9zM473.8 179.1h0.9v0.9h-0.9zM463.8 170.1h0.9v0.9h-0.9zM474.1 168.5h0.9v0.9h-0.9zM468.9 173.7h0.9v0.9h-0.9zM471.5 171.0h0.9v0.9h-0.9zM465.6 176.4h0.9v0.9h-0.9zM483.8 168.3h0.9v0.9h-0.9zM474.7 166.9h0.9v0.9h-0.9zM479.5 172.1h0.9v0.9h-0.9zM473.6 169.2h0.9v0.9h-0.9zM466.5 171.0h0.9v0.9h-0.9zM474.4 159.9h0.9v0.9h-0.9zM472.9 159.8h0.9v0.9h-0.9zM481.3 170.4h0.9v0.9h-0.9zM475.1 165.6h0.9v0.9h-0.9zM483.0 171.8h0.9v0.9h-0.9zM472.9 168.9h0.9v0.9h-0.9zM467.3 167.8h0.9v0.9h-0.9zM470.3 163.3h0.9v0.9h-0.9zM478.7 161.3h0.9v0.9h-0.9zM474.7 176.6h0.9v0.9h-0.9zM473.7 171.7h0.9v0.9h-0.9zM469.7 164.2h0.9v0.9h-0.9zM482.6 161.9h0.9v0.9h-0.9zM474.7 163.8h0.9v0.9h-0.9zM475.5 173.2h0.9v0.9h-0.9zM479.2 169.9h0.9v0.9h-0.9zM472.5 168.1h0.9v0.9h-0.9zM472.4 169.4h0.9v0.9h-0.9zM477.1 168.7h0.9v0.9h-0.9zM465.3 170.4h0.9v0.9h-0.9zM487.0 162.8h0.9v0.9h-0.9zM480.7 170.9h0.9v0.9h-0.9zM478.5 173.4h0.9v0.9h-0.9zM463.6 174.8h0.9v0.9h-0.9zM470.3 161.7h0.9v0.9h-0.9zM475.1 164.2h0.9v0.9h-0.9zM471.2 171.4h0.9v0.9h-0.9zM463.5 174.0h0.9v0.9h-0.9zM476.8 170.4h0.9v0.9h-0.9zM477.7 169.3h0.9v0.9h-0.9zM481.2 167.4h0.9v0.9h-0.9zM473.5 173.5h0.9v0.9h-0.9zM475.1 161.4h0.9v0.9h-0.9zM470.4 175.9h0.9v0.9h-0.9zM469.2 161.8h0.9v0.9h-0.9zM474.9 164.5h0.9v0.9h-0.9zM479.7 166.3h0.9v0.9h-0.9zM458.0 163.1h0.9v0.9h-0.9zM465.9 165.9h0.9v0.9h-0.9zM474.0 170.1h0.9v0.9h-0.9zM477.6 165.3h0.9v0.9h-0.9zM469.3 171.7h0.9v0.9h-0.9zM475.1 174.2h0.9v0.9h-0.9zM463.4 170.7h0.9v0.9h-0.9zM474.7 172.5h0.9v0.9h-0.9zM470.4 171.0h0.9v0.9h-0.9zM462.1 164.2h0.9v0.9h-0.9zM478.9 165.0h0.9v0.9h-0.9zM462.6 164.2h0.9v0.9h-0.9zM472.9 171.2h0.9v0.9h-0.9zM473.0 170.5h0.9v0.9h-0.9zM465.0 167.9h0.9v0.9h-0.9zM477.9 163.8h0.9v0.9h-0.9zM470.9 169.5h0.9v0.9h-0.9zM477.5 166.0h0.9v0.9h-0.9zM480.0 171.2h0.9v0.9h-0.9zM473.7 168.4h0.9v0.9h-0.9zM468.3 163.2h0.9v0.9h-0.9zM476.6 169.5h0.9v0.9h-0.9zM477.0 173.7h0.9v0.9h-0.9zM467.0 170.3h0.9v0.9h-0.9zM468.2 159.6h0.9v0.9h-0.9zM477.9 170.2h0.9v0.9h-0.9zM472.7 176.2h0.9v0.9h-0.9zM465.5 175.9h0.9v0.9h-0.9zM469.2 171.5h0.9v0.9h-0.9zM472.6 165.1h0.9v0.9h-0.9zM463.6 175.3h0.9v0.9h-0.9zM469.6 171.7h0.9v0.9h-0.9zM469.4 170.8h0.9v0.9h-0.9zM471.0 169.2h0.9v0.9h-0.9zM477.0 178.5h0.9v0.9h-0.9zM466.3 166.5h0.9v0.9h-0.9zM474.4 167.8h0.9v0.9h-0.9zM471.7 173.8h0.9v0.9h-0.9zM472.1 164.1h0.9v0.9h-0.9zM477.2 170.5h0.9v0.9h-0.9zM474.8 170.5h0.9v0.9h-0.9zM461.3 176.3h0.9v0.9h-0.9zM467.8 175.8h0.9v0.9h-0.9zM465.0 170.1h0.9v0.9h-0.9zM473.8 166.4h0.9v0.9h-0.9zM474.8 172.5h0.9v0.9h-0.9zM469.0 173.1h0.9v0.9h-0.9zM472.7 173.1h0.9v0.9h-0.9zM467.5 166.4h0.9v0.9h-0.9zM469.4 167.0h0.9v0.9h-0.9zM469.8 172.6h0.9v0.9h-0.9zM474.2 165.6h0.9v0.9h-0.9zM471.0 172.2h0.9v0.9h-0.9zM467.6 167.8h0.9v0.9h-0.9zM469.5 164.5h0.9v0.9h-0.9zM466.1 165.5h0.9v0.9h-0.9zM476.0 167.6h0.9v0.9h-0.9zM474.3 166.7h0.9v0.9h-0.9zM463.4 166.7h0.9v0.9h-0.9zM477.1 170.1h0.9v0.9h-0.9zM469.1 171.2h0.9v0.9h-0.9zM472.0 166.8h0.9v0.9h-0.9zM468.6 171.2h0.9v0.9h-0.9zM469.6 161.3h0.9v0.9h-0.9zM473.9 163.0h0.9v0.9h-0.9zM461.7 162.1h0.9v0.9h-0.9zM459.4 176.2h0.9v0.9h-0.9zM470.4 175.0h0.9v0.9h-0.9zM474.0 167.9h0.9v0.9h-0.9zM463.0 172.5h0.9v0.9h-0.9zM470.8 168.8h0.9v0.9h-0.9zM464.0 176.7h0.9v0.9h-0.9zM467.1 171.3h0.9v0.9h-0.9zM472.0 178.6h0.9v0.9h-0.9zM481.7 172.1h0.9v0.9h-0.9zM470.6 175.7h0.9v0.9h-0.9zM477.3 160.9h0.9v0.9h-0.9zM472.4 166.1h0.9v0.9h-0.9zM479.8 178.1h0.9v0.9h-0.9zM467.5 167.8h0.9v0.9h-0.9zM467.1 172.6h0.9v0.9h-0.9zM477.5 161.6h0.9v0.9h-0.9zM462.8 173.1h0.9v0.9h-0.9zM473.6 165.3h0.9v0.9h-0.9zM474.6 175.7h0.9v0.9h-0.9zM481.1 172.6h0.9v0.9h-0.9zM468.5 174.2h0.9v0.9h-0.9zM475.3 166.9h0.9v0.9h-0.9zM481.0 177.3h0.9v0.9h-0.9zM485.2 170.4h0.9v0.9h-0.9zM470.3 168.7h0.9v0.9h-0.9zM472.8 165.2h0.9v0.9h-0.9zM464.1 179.1h0.9v0.9h-0.9zM476.7 172.1h0.9v0.9h-0.9zM478.2 166.7h0.9v0.9h-0.9zM470.5 168.8h0.9v0.9h-0.9zM480.5 169.2h0.9v0.9h-0.9zM473.9 167.5h0.9v0.9h-0.9zM474.9 172.9h0.9v0.9h-0.9zM472.4 167.7h0.9v0.9h-0.9zM483.4 164.8h0.9v0.9h-0.9zM468.0 173.6h0.9v0.9h-0.9zM466.4 164.5h0.9v0.9h-0.9zM474.9 174.7h0.9v0.9h-0.9zM465.1 168.9h0.9v0.9h-0.9zM463.4 177.3h0.9v0.9h-0.9zM468.9 170.8h0.9v0.9h-0.9zM470.0 170.9h0.9v0.9h-0.9zM470.4 173.5h0.9v0.9h-0.9zM478.4 167.8h0.9v0.9h-0.9zM472.0 168.3h0.9v0.9h-0.9zM467.6 178.4h0.9v0.9h-0.9zM460.7 160.0h0.9v0.9h-0.9zM462.4 176.3h0.9v0.9h-0.9zM475.8 175.4h0.9v0.9h-0.9zM465.5 169.0h0.9v0.9h-0.9zM484.4 162.7h0.9v0.9h-0.9zM460.3 162.1h0.9v0.9h-0.9zM470.4 174.3h0.9v0.9h-0.9zM477.2 168.8h0.9v0.9h-0.9zM474.2 169.3h0.9v0.9h-0.9zM469.8 177.0h0.9v0.9h-0.9zM472.8 168.7h0.9v0.9h-0.9zM472.4 170.7h0.9v0.9h-0.9zM475.0 175.6h0.9v0.9h-0.9zM472.3 172.2h0.9v0.9h-0.9zM470.5 166.8h0.9v0.9h-0.9zM483.7 167.5h0.9v0.9h-0.9zM482.6 161.8h0.9v0.9h-0.9zM482.5 163.7h0.9v0.9h-0.9zM471.9 170.2h0.9v0.9h-0.9zM472.4 169.8h0.9v0.9h-0.9zM468.1 174.1h0.9v0.9h-0.9zM470.6 164.1h0.9v0.9h-0.9zM477.2 172.4h0.9v0.9h-0.9zM468.4 162.8h0.9v0.9h-0.9zM478.2 170.4h0.9v0.9h-0.9zM471.3 166.2h0.9v0.9h-0.9z" fill="#000" fill-opacity="1.0"/>
<path d="M448.6 177.9h0.9v0.9h-0.9zM456.3 169.1h0.9v0.9h-0.9zM457.2 173.4h0.9v0.9h-0.9zM455.0 165.1h0.9v0.9h-0.9zM456.8 175.0h0.9v0.9h-0.9zM448.9 174.3h0.9v0.9h-0.9zM453.2 173.0h0.9v0.9h-0.9zM449.2 175.3h0.9v0.9h-0.9zM454.3 171.9h0.9v0.9h-0.9zM455.7 167.9h0.9v0.9h-0.9zM457.4 172.1h0.9v0.9h-0.9zM449.9 173.1h0.9v0.9h-0.9zM454.0 171.0h0.9v0.9h-0.9zM451.7 171.8h0.9v0.9h-0.9zM457.4 172.5h0.9v0.9h-0.9zM456.0 173.3h0.9v0.9h-0.9zM457.8 171.6h0.9v0.9h-0.9zM454.3 176.2h0.9v0.9h-0.9zM457.0 178.5h0.9v0.9h-0.9zM447.1 172.8h0.9v0.9h-0.9zM450.8 173.2h0.9v0.9h-0.9zM455.9 173.9h0.9v0.9h-0.9zM449.6 175.1h0.9v0.9h-0.9zM459.1 172.9h0.9v0.9h-0.9zM454.9 178.4h0.9v0.9h-0.9zM458.9 170.3h0.9v0.9h-0.9zM460.0 174.1h0.9v0.9h-0.9zM449.6 169.6h0.9v0.9h-0.9zM454.4 176.0h0.9v0.9h-0.9zM454.0 170.4h0.9v0.9h-0.9zM452.8 169.6h0.9v0.9h-0.9zM454.7 167.7h0.9v0.9h-0.9zM453.8 169.4h0.9v0.9h-0.9zM449.0 168.7h0.9v0.9h-0.9zM463.1 168.6h0.9v0.9h-0.9zM450.3 171.6h0.9v0.9h-0.9zM457.2 174.0h0.9v0.9h-0.9zM452.5 171.5h0.9v0.9h-0.9zM461.0 169.4h0.9v0.9h-0.9zM457.4 168.4h0.9v0.9h-0.9zM453.7 171.5h0.9v0.9h-0.9zM458.5 164.7h0.9v0.9h-0.9zM446.7 172.2h0.9v0.9h-0.9zM454.8 175.4h0.9v0.9h-0.9zM447.2 176.2h0.9v0.9h-0.9zM457.1 171.4h0.9v0.9h-0.9zM461.0 169.9h0.9v0.9h-0.9zM459.6 177.7h0.9v0.9h-0.9zM453.7 173.1h0.9v0.9h-0.9zM452.0 173.1h0.9v0.9h-0.9zM456.6 170.4h0.9v0.9h-0.9zM454.1 173.7h0.9v0.9h-0.9zM448.1 172.5h0.9v0.9h-0.9zM455.0 178.6h0.9v0.9h-0.9zM456.6 170.9h0.9v0.9h-0.9zM453.8 174.8h0.9v0.9h-0.9zM449.4 174.2h0.9v0.9h-0.9zM450.2 176.3h0.9v0.9h-0.9zM459.4 169.0h0.9v0.9h-0.9zM458.2 175.5h0.9v0.9h-0.9zM448.3 170.9h0.9v0.9h-0.9zM453.8 176.1h0.9v0.9h-0.9zM450.9 177.0h0.9v0.9h-0.9zM459.4 171.7h0.9v0.9h-0.9zM452.9 173.2h0.9v0.9h-0.9zM456.4 174.4h0.9v0.9h-0.9zM447.3 170.0h0.9v0.9h-0.9zM446.9 177.1h0.9v0.9h-0.9zM458.7 171.6h0.9v0.9h-0.9zM457.5 167.9h0.9v0.9h-0.9zM454.3 174.3h0.9v0.9h-0.9zM446.5 172.5h0.9v0.9h-0.9zM448.6 176.2h0.9v0.9h-0.9zM453.7 170.8h0.9v0.9h-0.9zM449.1 176.4h0.9v0.9h-0.9zM454.9 169.9h0.9v0.9h-0.9zM451.4 168.9h0.9v0.9h-0.9zM460.0 170.4h0.9v0.9h-0.9zM462.8 170.7h0.9v0.9h-0.9zM449.7 171.2h0.9v0.9h-0.9zM453.6 175.3h0.9v0.9h-0.9zM457.4 166.6h0.9v0.9h-0.9zM447.1 171.4h0.9v0.9h-0.9zM459.0 173.0h0.9v0.9h-0.9zM448.2 169.9h0.9v0.9h-0.9zM447.2 174.5h0.9v0.9h-0.9zM464.0 173.2h0.9v0.9h-0.9zM458.7 169.4h0.9v0.9h-0.9zM448.2 173.5h0.9v0.9h-0.9zM454.7 168.2h0.9v0.9h-0.9zM458.4 177.9h0.9v0.9h-0.9zM450.2 171.4h0.9v0.9h-0.9zM454.0 174.3h0.9v0.9h-0.9zM448.6 169.3h0.9v0.9h-0.9zM459.3 174.9h0.9v0.9h-0.9zM463.0 179.0h0.9v0.9h-0.9zM456.3 169.6h0.9v0.9h-0.9zM451.0 168.4h0.9v0.9h-0.9zM458.6 176.4h0.9v0.9h-0.9zM461.5 170.2h0.9v0.9h-0.9zM460.4 170.0h0.9v0.9h-0.9zM454.4 169.9h0.9v0.9h-0.9zM456.5 173.0h0.9v0.9h-0.9zM454.6 163.1h0.9v0.9h-0.9zM456.4 176.1h0.9v0.9h-0.9zM458.9 167.2h0.9v0.9h-0.9zM454.3 170.6h0.9v0.9h-0.9zM448.9 169.3h0.9v0.9h-0.9zM448.6 169.1h0.9v0.9h-0.9zM456.4 165.0h0.9v0.9h-0.9zM462.6 177.4h0.9v0.9h-0.9zM455.0 175.9h0.9v0.9h-0.9zM461.5 169.8h0.9v0.9h-0.9zM452.1 176.1h0.9v0.9h-0.9zM448.2 166.9h0.9v0.9h-0.9zM453.2 172.5h0.9v0.9h-0.9zM451.6 174.7h0.9v0.9h-0.9zM450.7 174.5h0.9v0.9h-0.9zM448.4 178.9h0.9v0.9h-0.9zM458.4 172.9h0.9v0.9h-0.9zM450.1 170.7h0.9v0.9h-0.9zM449.4 166.2h0.9v0.9h-0.9zM449.2 177.1h0.9v0.9h-0.9zM452.3 176.2h0.9v0.9h-0.9zM454.9 170.2h0.9v0.9h-0.9zM448.3 170.7h0.9v0.9h-0.9zM454.3 169.0h0.9v0.9h-0.9zM450.6 167.6h0.9v0.9h-0.9zM461.0 165.7h0.9v0.9h-0.9zM456.4 167.2h0.9v0.9h-0.9zM450.3 173.9h0.9v0.9h-0.9zM460.5 178.4h0.9v0.9h-0.9zM450.3 165.5h0.9v0.9h-0.9zM447.8 165.8h0.9v0.9h-0.9zM459.8 173.2h0.9v0.9h-0.9zM453.0 168.6h0.9v0.9h-0.9zM456.2 170.9h0.9v0.9h-0.9zM451.3 173.1h0.9v0.9h-0.9zM448.8 165.9h0.9v0.9h-0.9zM446.4 169.5h0.9v0.9h-0.9zM452.1 176.0h0.9v0.9h-0.9zM453.9 179.0h0.9v0.9h-0.9zM449.7 162.9h0.9v0.9h-0.9zM457.8 167.6h0.9v0.9h-0.9zM466.4 173.6h0.9v0.9h-0.9zM459.2 167.6h0.9v0.9h-0.9zM453.3 172.9h0.9v0.9h-0.9zM454.8 174.2h0.9v0.9h-0.9zM461.2 163.9h0.9v0.9h-0.9zM450.8 167.1h0.9v0.9h-0.9zM448.4 169.9h0.9v0.9h-0.9zM460.3 177.7h0.9v0.9h-0.9zM456.4 170.1h0.9v0.9h-0.9zM462.8 174.9h0.9v0.9h-0.9zM460.5 172.5h0.9v0.9h-0.9zM457.1 175.4h0.9v0.9h-0.9zM448.9 164.8h0.9v0.9h-0.9zM454.1 167.8h0.9v0.9h-0.9zM458.7 167.5h0.9v0.9h-0.9zM456.4 166.5h0.9v0.9h-0.9zM464.0 173.0h0.9v0.9h-0.9zM447.8 172.0h0.9v0.9h-0.9zM454.5 161.6h0.9v0.9h-0.9zM448.2 173.4h0.9v0.9h-0.9zM449.6 170.5h0.9v0.9h-0.9zM461.2 177.2h0.9v0.9h-0.9zM454.8 173.9h0.9v0.9h-0.9zM462.1 173.6h0.9v0.9h-0.9zM446.3 172.9h0.9v0.9h-0.9zM447.6 168.7h0.9v0.9h-0.9zM454.1 171.8h0.9v0.9h-0.9zM453.4 175.2h0.9v0.9h-0.9zM452.6 173.0h0.9v0.9h-0.9zM457.6 169.9h0.9v0.9h-0.9zM452.5 170.7h0.9v0.9h-0.9zM448.0 168.5h0.9v0.9h-0.9zM456.1 172.4h0.9v0.9h-0.9zM446.5 175.0h0.9v0.9h-0.9zM457.6 175.9h0.9v0.9h-0.9zM460.1 172.5h0.9v0.9h-0.9zM456.8 171.2h0.9v0.9h-0.9zM448.7 171.6h0.9v0.9h-0.9zM456.1 173.1h0.9v0.9h-0.9zM450.7 169.0h0.9v0.9h-0.9zM450.7 170.3h0.9v0.9h-0.9zM452.3 174.2h0.9v0.9h-0.9zM453.2 162.7h0.9v0.9h-0.9zM457.6 170.0h0.9v0.9h-0.9zM458.9 171.1h0.9v0.9h-0.9zM453.5 165.9h0.9v0.9h-0.9zM461.2 170.0h0.9v0.9h-0.9zM459.0 173.6h0.9v0.9h-0.9zM463.5 172.8h0.9v0.9h-0.9zM454.1 169.9h0.9v0.9h-0.9zM450.3 176.2h0.9v0.9h-0.9zM460.0 173.2h0.9v0.9h-0.9zM465.5 173.7h0.9v0.9h-0.9zM458.1 168.9h0.9v0.9h-0.9zM457.4 171.7h0.9v0.9h-0.9zM461.3 171.8h0.9v0.9h-0.9zM459.7 167.0h0.9v0.9h-0.9zM453.8 173.7h0.9v0.9h-0.9zM458.0 168.1h0.9v0.9h-0.9zM449.9 169.9h0.9v0.9h-0.9zM451.5 169.5h0.9v0.9h-0.9zM455.0 166.2h0.9v0.9h-0.9zM456.0 168.0h0.9v0.9h-0.9zM451.2 169.3h0.9v0.9h-0.9zM457.9 172.7h0.9v0.9h-0.9zM451.2 173.6h0.9v0.9h-0.9zM448.8 173.0h0.9v0.9h-0.9zM454.8 172.2h0.9v0.9h-0.9zM447.4 173.5h0.9v0.9h-0.9zM456.7 173.6h0.9v0.9h-0.9zM451.6 176.3h0.9v0.9h-0.9zM463.1 177.1h0.9v0.9h-0.9zM455.4 179.1h0.9v0.9h-0.9zM450.1 164.8h0.9v0.9h-0.9zM449.6 169.2h0.9v0.9h-0.9zM450.8 171.4h0.9v0.9h-0.9zM455.5 170.7h0.9v0.9h-0.9zM448.8 170.7h0.9v0.9h-0.9zM456.3 167.9h0.9v0.9h-0.9zM446.7 170.1h0.9v0.9h-0.9zM455.3 169.5h0.9v0.9h-0.9zM452.3 169.4h0.9v0.9h-0.9zM456.2 169.6h0.9v0.9h-0.9zM449.4 169.3h0.9v0.9h-0.9zM451.4 170.2h0.9v0.9h-0.9zM452.4 175.2h0.9v0.9h-0.9zM448.8 167.3h0.9v0.9h-0.9zM452.2 166.4h0.9v0.9h-0.9zM455.6 170.2h0.9v0.9h-0.9zM456.1 174.2h0.9v0.9h-0.9zM457.9 171.0h0.9v0.9h-0.9zM456.5 169.6h0.9v0.9h-0.9zM454.9 175.6h0.9v0.9h-0.9zM462.5 173.8h0.9v0.9h-0.9zM451.5 169.7h0.9v0.9h-0.9zM448.1 175.3h0.9v0.9h-0.9zM460.1 168.9h0.9v0.9h-0.9zM451.7 171.3h0.9v0.9h-0.9zM446.5 166.9h0.9v0.9h-0.9zM456.6 169.2h0.9v0.9h-0.9zM456.8 173.5h0.9v0.9h-0.9zM460.9 169.2h0.9v0.9h-0.9zM461.1 170.2h0.9v0.9h-0.9zM454.1 177.4h0.9v0.9h-0.9zM451.4 167.2h0.9v0.9h-0.9zM457.4 170.7h0.9v0.9h-0.9zM450.5 175.3h0.9v0.9h-0.9zM453.6 168.7h0.9v0.9h-0.9zM454.5 166.3h0.9v0.9h-0.9zM459.5 167.8h0.9v0.9h-0.9zM452.7 172.0h0.9v0.9h-0.9zM447.2 178.5h0.9v0.9h-0.9zM455.1 172.9h0.9v0.9h-0.9zM446.7 170.3h0.9v0.9h-0.9zM453.2 170.2h0.9v0.9h-0.9zM450.6 162.8h0.9v0.9h-0.9zM455.7 175.5h0.9v0.9h-0.9zM447.8 177.3h0.9v0.9h-0.9zM451.4 170.5h0.9v0.9h-0.9zM454.8 171.4h0.9v0.9h-0.9zM457.1 167.5h0.9v0.9h-0.9zM454.4 167.1h0.9v0.9h-0.9zM465.7 165.5h0.9v0.9h-0.9zM460.8 177.1h0.9v0.9h-0.9zM452.8 171.3h0.9v0.9h-0.9zM453.2 174.0h0.9v0.9h-0.9zM456.8 173.9h0.9v0.9h-0.9zM457.8 173.4h0.9v0.9h-0.9zM449.5 174.6h0.9v0.9h-0.9zM451.0 167.6h0.9v0.9h-0.9zM455.7 171.1h0.9v0.9h-0.9zM454.0 173.8h0.9v0.9h-0.9zM447.5 171.1h0.9v0.9h-0.9zM450.8 171.7h0.9v0.9h-0.9zM459.5 168.1h0.9v0.9h-0.9zM452.0 170.4h0.9v0.9h-0.9zM455.6 165.4h0.9v0.9h-0.9zM457.2 169.5h0.9v0.9h-0.9zM460.9 177.0h0.9v0.9h-0.9zM452.3 169.3h0.9v0.9h-0.9zM451.7 169.0h0.9v0.9h-0.9zM447.6 168.6h0.9v0.9h-0.9zM454.6 172.9h0.9v0.9h-0.9zM456.1 166.7h0.9v0.9h-0.9zM457.9 170.5h0.9v0.9h-0.9zM457.0 171.1h0.9v0.9h-0.9zM446.9 175.7h0.9v0.9h-0.9zM452.8 169.5h0.9v0.9h-0.9zM447.0 170.3h0.9v0.9h-0.9zM460.0 177.0h0.9v0.9h-0.9zM457.4 169.6h0.9v0.9h-0.9zM454.7 172.9h0.9v0.9h-0.9zM450.9 170.4h0.9v0.9h-0.9zM455.0 168.0h0.9v0.9h-0.9zM452.6 167.3h0.9v0.9h-0.9zM450.7 169.8h0.9v0.9h-0.9zM455.8 174.3h0.9v0.9h-0.9zM450.4 172.5h0.9v0.9h-0.9zM461.2 162.9h0.9v0.9h-0.9zM453.2 165.8h0.9v0.9h-0.9zM460.1 174.0h0.9v0.9h-0.9zM456.4 173.4h0.9v0.9h-0.9zM452.5 171.3h0.9v0.9h-0.9zM446.5 172.3h0.9v0.9h-0.9zM465.7 170.9h0.9v0.9h-0.9zM465.3 178.1h0.9v0.9h-0.9zM460.4 163.6h0.9v0.9h-0.9zM462.3 172.3h0.9v0.9h-0.9zM458.3 175.5h0.9v0.9h-0.9zM448.6 170.7h0.9v0.9h-0.9zM457.2 171.6h0.9v0.9h-0.9zM453.7 170.7h0.9v0.9h-0.9zM455.5 169.8h0.9v0.9h-0.9zM460.7 164.8h0.9v0.9h-0.9zM450.3 174.3h0.9v0.9h-0.9zM458.8 178.7h0.9v0.9h-0.9zM459.1 167.0h0.9v0.9h-0.9zM458.4 170.5h0.9v0.9h-0.9zM461.0 176.1h0.9v0.9h-0.9zM449.6 170.8h0.9v0.9h-0.9zM454.8 167.0h0.9v0.9h-0.9zM446.3 170.4h0.9v0.9h-0.9zM457.6 177.9h0.9v0.9h-0.9zM456.3 172.8h0.9v0.9h-0.9zM451.9 177.7h0.9v0.9h-0.9zM447.0 174.2h0.9v0.9h-0.9zM459.4 177.9h0.9v0.9h-0.9zM449.8 167.9h0.9v0.9h-0.9zM452.1 175.3h0.9v0.9h-0.9zM456.3 171.8h0.9v0.9h-0.9zM458.5 171.9h0.9v0.9h-0.9zM453.0 179.2h0.9v0.9h-0.9zM452.1 173.3h0.9v0.9h-0.9zM450.4 174.1h0.9v0.9h-0.9zM450.9 175.0h0.9v0.9h-0.9zM452.8 171.8h0.9v0.9h-0.9zM465.6 174.8h0.9v0.9h-0.9zM458.8 170.4h0.9v0.9h-0.9zM452.3 175.3h0.9v0.9h-0.9zM458.2 173.7h0.9v0.9h-0.9zM459.6 163.0h0.9v0.9h-0.9zM454.4 176.8h0.9v0.9h-0.9zM457.2 176.9h0.9v0.9h-0.9zM449.3 174.2h0.9v0.9h-0.9zM450.0 165.4h0.9v0.9h-0.9zM462.7 175.0h0.9v0.9h-0.9zM461.7 169.2h0.9v0.9h-0.9zM453.6 169.1h0.9v0.9h-0.9zM460.2 169.7h0.9v0.9h-0.9zM451.0 170.4h0.9v0.9h-0.9zM451.5 169.3h0.9v0.9h-0.9zM463.1 167.3h0.9v0.9h-0.9zM449.6 166.4h0.9v0.9h-0.9zM459.8 168.3h0.9v0.9h-0.9zM457.7 178.0h0.9v0.9h-0.9zM458.4 166.0h0.9v0.9h-0.9zM457.1 170.5h0.9v0.9h-0.9zM461.4 166.6h0.9v0.9h-0.9zM458.8 165.7h0.9v0.9h-0.9zM456.8 164.8h0.9v0.9h-0.9zM447.8 176.9h0.9v0.9h-0.9zM454.5 169.3h0.9v0.9h-0.9zM451.8 169.1h0.9v0.9h-0.9zM454.2 167.1h0.9v0.9h-0.9zM452.0 167.6h0.9v0.9h-0.9zM461.7 167.3h0.9v0.9h-0.9zM460.8 176.5h0.9v0.9h-0.9zM452.4 171.6h0.9v0.9h-0.9zM449.1 178.6h0.9v0.9h-0.9zM451.2 172.9h0.9v0.9h-0.9zM451.6 172.0h0.9v0.9h-0.9zM457.0 174.1h0.9v0.9h-0.9zM459.5 172.1h0.9v0.9h-0.9zM456.9 165.3h0.9v0.9h-0.9zM452.0 164.2h0.9v0.9h-0.9zM458.5 172.0h0.9v0.9h-0.9zM447.4 169.4h0.9v0.9h-0.9zM455.9 178.1h0.9v0.9h-0.9zM451.3 173.5h0.9v0.9h-0.9zM448.0 175.3h0.9v0.9h-0.9zM453.3 168.6h0.9v0.9h-0.9zM458.9 172.3h0.9v0.9h-0.9zM459.1 169.4h0.9v0.9h-0.9zM452.0 167.2h0.9v0.9h-0.9zM451.7 170.7h0.9v0.9h-0.9zM454.9 168.8h0.9v0.9h-0.9zM451.3 160.9h0.9v0.9h-0.9zM461.8 175.7h0.9v0.9h-0.9zM456.5 172.7h0.9v0.9h-0.9zM447.6 166.6h0.9v0.9h-0.9zM452.0 169.8h0.9v0.9h-0.9zM455.9 169.4h0.9v0.9h-0.9zM451.1 173.8h0.9v0.9h-0.9zM453.1 174.9h0.9v0.9h-0.9zM457.3 169.7h0.9v0.9h-0.9zM455.2 172.2h0.9v0.9h-0.9zM454.1 166.4h0.9v0.9h-0.9zM450.6 171.9h0.9v0.9h-0.9zM452.4 163.2h0.9v0.9h-0.9zM457.8 171.9h0.9v0.9h-0.9zM452.5 168.1h0.9v0.9h-0.9zM450.0 172.0h0.9v0.9h-0.9zM460.8 177.0h0.9v0.9h-0.9zM454.0 172.4h0.9v0.9h-0.9zM455.0 175.2h0.9v0.9h-0.9zM459.3 175.5h0.9v0.9h-0.9zM453.8 176.2h0.9v0.9h-0.9zM456.2 175.3h0.9v0.9h-0.9zM450.0 175.9h0.9v0.9h-0.9zM452.8 171.3h0.9v0.9h-0.9zM453.5 170.0h0.9v0.9h-0.9zM459.1 170.2h0.9v0.9h-0.9zM450.4 175.1h0.9v0.9h-0.9zM448.2 171.8h0.9v0.9h-0.9zM449.9 171.4h0.9v0.9h-0.9zM454.7 167.7h0.9v0.9h-0.9zM446.7 168.3h0.9v0.9h-0.9zM449.4 178.1h0.9v0.9h-0.9zM457.6 168.9h0.9v0.9h-0.9zM457.7 173.2h0.9v0.9h-0.9zM447.8 165.1h0.9v0.9h-0.9zM450.2 166.4h0.9v0.9h-0.9zM450.0 169.4h0.9v0.9h-0.9zM455.5 164.2h0.9v0.9h-0.9zM463.6 169.8h0.9v0.9h-0.9zM448.7 168.4h0.9v0.9h-0.9zM448.8 176.6h0.9v0.9h-0.9zM449.3 161.5h0.9v0.9h-0.9zM449.8 174.1h0.9v0.9h-0.9zM448.0 171.5h0.9v0.9h-0.9zM460.5 175.4h0.9v0.9h-0.9zM447.9 175.1h0.9v0.9h-0.9zM453.8 170.3h0.9v0.9h-0.9zM463.8 168.8h0.9v0.9h-0.9zM457.3 170.0h0.9v0.9h-0.9zM450.2 165.9h0.9v0.9h-0.9zM456.3 172.9h0.9v0.9h-0.9zM462.4 168.3h0.9v0.9h-0.9zM460.4 169.8h0.9v0.9h-0.9zM447.4 172.9h0.9v0.9h-0.9zM458.3 170.7h0.9v0.9h-0.9zM460.0 179.1h0.9v0.9h-0.9zM461.7 172.8h0.9v0.9h-0.9zM449.7 179.0h0.9v0.9h-0.9zM455.4 170.2h0.9v0.9h-0.9zM448.1 174.0h0.9v0.9h-0.9z" fill="#111" fill-opacity="0.9"/>
<path d="M484.6 148.7h0.9v0.9h-0.9zM462.4 144.9h0.9v0.9h-0.9zM466.8 147.6h0.9v0.9h-0.9zM484.2 124.1h0.9v0.9h-0.9zM472.2 138.6h0.9v0.9h-0.9zM472.2 138.9h0.9v0.9h-0.9zM462.1 158.1h0.9v0.9h-0.9zM467.3 138.1h0.9v0.9h-0.9zM478.6 151.2h0.9v0.9h-0.9zM478.2 135.0h0.9v0.9h-0.9zM467.4 150.5h0.9v0.9h-0.9zM464.6 131.1h0.9v0.9h-0.9zM462.0 135.8h0.9v0.9h-0.9zM458.1 135.8h0.9v0.9h-0.9zM465.7 152.3h0.9v0.9h-0.9zM461.3 140.4h0.9v0.9h-0.9zM466.0 133.2h0.9v0.9h-0.9zM460.7 141.6h0.9v0.9h-0.9zM474.9 142.7h0.9v0.9h-0.9zM458.6 154.6h0.9v0.9h-0.9zM470.3 141.4h0.9v0.9h-0.9zM458.1 138.2h0.9v0.9h-0.9zM484.5 145.8h0.9v0.9h-0.9zM469.1 165.0h0.9v0.9h-0.9zM479.4 139.4h0.9v0.9h-0.9zM462.4 132.0h0.9v0.9h-0.9zM468.5 135.4h0.9v0.9h-0.9zM474.7 133.6h0.9v0.9h-0.9zM477.9 129.1h0.9v0.9h-0.9zM456.6 155.4h0.9v0.9h-0.9zM461.9 145.1h0.9v0.9h-0.9zM474.5 144.3h0.9v0.9h-0.9zM479.4 150.2h0.9v0.9h-0.9zM470.0 142.6h0.9v0.9h-0.9zM480.7 142.7h0.9v0.9h-0.9zM477.2 150.8h0.9v0.9h-0.9zM465.0 148.7h0.9v0.9h-0.9zM493.0 132.2h0.9v0.9h-0.9zM477.0 120.4h0.9v0.9h-0.9zM467.8 138.0h0.9v0.9h-0.9zM474.0 144.6h0.9v0.9h-0.9zM459.3 129.3h0.9v0.9h-0.9zM469.1 135.3h0.9v0.9h-0.9zM468.0 144.2h0.9v0.9h-0.9zM469.7 158.4h0.9v0.9h-0.9zM472.4 146.7h0.9v0.9h-0.9zM463.5 157.9h0.9v0.9h-0.9zM479.0 144.5h0.9v0.9h-0.9zM468.5 147.4h0.9v0.9h-0.9zM479.0 153.7h0.9v0.9h-0.9zM464.9 152.3h0.9v0.9h-0.9zM469.9 135.2h0.9v0.9h-0.9zM467.4 151.3h0.9v0.9h-0.9zM484.6 139.1h0.9v0.9h-0.9zM465.8 144.0h0.9v0.9h-0.9zM466.6 128.4h0.9v0.9h-0.9zM479.8 132.0h0.9v0.9h-0.9zM467.3 143.4h0.9v0.9h-0.9zM468.2 151.0h0.9v0.9h-0.9zM461.2 128.3h0.9v0.9h-0.9zM472.1 141.6h0.9v0.9h-0.9zM460.7 150.8h0.9v0.9h-0.9zM471.8 124.9h0.9v0.9h-0.9zM471.8 148.5h0.9v0.9h-0.9zM475.6 134.7h0.9v0.9h-0.9zM468.3 141.6h0.9v0.9h-0.9zM473.9 134.4h0.9v0.9h-0.9zM469.0 138.8h0.9v0.9h-0.9zM468.8 134.0h0.9v0.9h-0.9zM472.8 153.2h0.9v0.9h-0.9zM480.7 141.6h0.9v0.9h-0.9zM472.8 143.2h0.9v0.9h-0.9zM472.9 131.0h0.9v0.9h-0.9zM456.2 158.5h0.9v0.9h-0.9zM490.6 134.9h0.9v0.9h-0.9zM477.2 145.8h0.9v0.9h-0.9zM480.5 131.2h0.9v0.9h-0.9zM471.4 165.3h0.9v0.9h-0.9zM487.8 130.8h0.9v0.9h-0.9zM470.4 139.6h0.9v0.9h-0.9zM485.8 152.1h0.9v0.9h-0.9zM463.8 148.6h0.9v0.9h-0.9zM469.0 128.3h0.9v0.9h-0.9zM466.1 152.6h0.9v0.9h-0.9zM453.4 159.6h0.9v0.9h-0.9zM475.6 152.4h0.9v0.9h-0.9zM454.5 149.2h0.9v0.9h-0.9zM463.0 126.0h0.9v0.9h-0.9zM463.7 146.1h0.9v0.9h-0.9zM469.8 171.7h0.9v0.9h-0.9zM479.2 158.8h0.9v0.9h-0.9zM475.6 145.5h0.9v0.9h-0.9zM470.8 171.0h0.9v0.9h-0.9zM467.4 130.3h0.9v0.9h-0.9zM473.8 142.3h0.9v0.9h-0.9zM470.5 128.6h0.9v0.9h-0.9zM463.7 141.3h0.9v0.9h-0.9zM466.9 146.3h0.9v0.9h-0.9zM481.5 147.0h0.9v0.9h-0.9zM473.5 138.9h0.9v0.9h-0.9zM458.9 146.6h0.9v0.9h-0.9zM470.1 135.4h0.9v0.9h-0.9zM463.8 151.2h0.9v0.9h-0.9zM474.7 141.9h0.9v0.9h-0.9zM476.5 126.0h0.9v0.9h-0.9zM469.2 157.9h0.9v0.9h-0.9zM467.3 145.7h0.9v0.9h-0.9zM468.0 146.8h0.9v0.9h-0.9zM462.0 126.9h0.9v0.9h-0.9zM477.2 148.2h0.9v0.9h-0.9z" fill="#222" fill-opacity="0.85"/>
<path d="M458.9 128.6h0.9v0.9h-0.9zM455.9 137.8h0.9v0.9h-0.9zM446.5 123.3h0.9v0.9h-0.9zM456.9 159.7h0.9v0.9h-0.9zM453.0 159.8h0.9v0.9h-0.9zM450.8 147.2h0.9v0.9h-0.9zM453.7 126.0h0.9v0.9h-0.9zM458.4 131.8h0.9v0.9h-0.9zM456.9 150.5h0.9v0.9h-0.9zM452.3 131.6h0.9v0.9h-0.9zM454.5 138.7h0.9v0.9h-0.9zM462.2 147.4h0.9v0.9h-0.9zM452.4 141.6h0.9v0.9h-0.9zM454.2 138.5h0.9v0.9h-0.9zM458.8 146.4h0.9v0.9h-0.9zM453.7 149.2h0.9v0.9h-0.9zM459.0 146.5h0.9v0.9h-0.9zM452.7 158.0h0.9v0.9h-0.9zM461.0 129.9h0.9v0.9h-0.9zM458.5 149.0h0.9v0.9h-0.9zM457.1 148.6h0.9v0.9h-0.9zM454.1 137.1h0.9v0.9h-0.9zM467.5 174.7h0.9v0.9h-0.9zM449.5 166.4h0.9v0.9h-0.9zM458.0 140.9h0.9v0.9h-0.9zM458.7 156.3h0.9v0.9h-0.9zM455.5 145.7h0.9v0.9h-0.9zM460.6 129.1h0.9v0.9h-0.9zM449.2 145.9h0.9v0.9h-0.9zM461.2 135.5h0.9v0.9h-0.9zM456.7 134.7h0.9v0.9h-0.9zM454.9 138.5h0.9v0.9h-0.9zM463.7 120.3h0.9v0.9h-0.9zM452.5 124.2h0.9v0.9h-0.9zM456.3 164.9h0.9v0.9h-0.9zM457.5 138.6h0.9v0.9h-0.9zM454.6 140.6h0.9v0.9h-0.9zM455.0 136.0h0.9v0.9h-0.9zM453.3 141.0h0.9v0.9h-0.9zM452.8 134.9h0.9v0.9h-0.9zM457.7 148.2h0.9v0.9h-0.9zM459.0 153.5h0.9v0.9h-0.9zM456.3 162.3h0.9v0.9h-0.9zM457.1 142.7h0.9v0.9h-0.9zM446.5 153.3h0.9v0.9h-0.9zM456.8 138.4h0.9v0.9h-0.9zM448.7 136.4h0.9v0.9h-0.9zM451.0 138.5h0.9v0.9h-0.9zM456.2 138.8h0.9v0.9h-0.9zM454.4 138.0h0.9v0.9h-0.9zM463.3 128.3h0.9v0.9h-0.9zM457.4 129.4h0.9v0.9h-0.9zM453.7 153.7h0.9v0.9h-0.9zM450.9 139.1h0.9v0.9h-0.9zM450.4 157.3h0.9v0.9h-0.9z" fill="#222" fill-opacity="0.85"/>
<text x="272.7" y="111.8" font-size="4.1" text-anchor="middle" font-weight="bold" fill="#333" stroke="#333" stroke-width="0.22" textLength="5.8" lengthAdjust="spacingAndGlyphs">10³</text>
<text x="272.7" y="129.4" font-size="4.1" text-anchor="middle" font-weight="bold" fill="#333" stroke="#333" stroke-width="0.22" textLength="5.8" lengthAdjust="spacingAndGlyphs">10²</text>
<text x="272.7" y="147.0" font-size="4.1" text-anchor="middle" font-weight="bold" fill="#333" stroke="#333" stroke-width="0.22" textLength="5.8" lengthAdjust="spacingAndGlyphs">10¹</text>
<text x="272.7" y="164.6" font-size="4.1" text-anchor="middle" font-weight="bold" fill="#333" stroke="#333" stroke-width="0.22" textLength="5.8" lengthAdjust="spacingAndGlyphs">10⁰</text>
<text x="296.6" y="185.3" font-size="4.1" text-anchor="middle" font-weight="bold" fill="#333" stroke="#333" stroke-width="0.22" textLength="5.8" lengthAdjust="spacingAndGlyphs">10⁰</text>
<text x="314.2" y="185.3" font-size="4.1" text-anchor="middle" font-weight="bold" fill="#333" stroke="#333" stroke-width="0.22" textLength="5.8" lengthAdjust="spacingAndGlyphs">10¹</text>
<text x="331.8" y="185.3" font-size="4.1" text-anchor="middle" font-weight="bold" fill="#333" stroke="#333" stroke-width="0.22" textLength="5.8" lengthAdjust="spacingAndGlyphs">10²</text>
<text x="346.9" y="185.3" font-size="4.1" text-anchor="middle" font-weight="bold" fill="#333" stroke="#333" stroke-width="0.22" textLength="5.8" lengthAdjust="spacingAndGlyphs">10³</text>
<text x="279.8" y="116.7" font-size="5.0" text-anchor="start" font-weight="bold" fill="#111" stroke="#111" stroke-width="0.22" textLength="6.2" lengthAdjust="spacingAndGlyphs">O1</text>
<text x="297.40000000000003" y="116.7" font-size="5.0" text-anchor="start" font-weight="bold" fill="#111" stroke="#111" stroke-width="0.22" textLength="6.2" lengthAdjust="spacingAndGlyphs">O2</text>
<rect x="279.5" y="161.1" width="7" height="5" fill="#fff"/>
<rect x="297.1" y="161.1" width="7" height="5" fill="#fff"/>
<text x="279.8" y="166.6" font-size="5.0" text-anchor="start" font-weight="bold" fill="#111" stroke="#111" stroke-width="0.22" textLength="6.2" lengthAdjust="spacingAndGlyphs">O3</text>
<text x="297.40000000000003" y="166.6" font-size="5.0" text-anchor="start" font-weight="bold" fill="#111" stroke="#111" stroke-width="0.22" textLength="6.2" lengthAdjust="spacingAndGlyphs">O4</text>
<text x="355.2" y="111.8" font-size="4.1" text-anchor="middle" font-weight="bold" fill="#333" stroke="#333" stroke-width="0.22" textLength="5.8" lengthAdjust="spacingAndGlyphs">10³</text>
<text x="355.2" y="129.4" font-size="4.1" text-anchor="middle" font-weight="bold" fill="#333" stroke="#333" stroke-width="0.22" textLength="5.8" lengthAdjust="spacingAndGlyphs">10²</text>
<text x="355.2" y="147.0" font-size="4.1" text-anchor="middle" font-weight="bold" fill="#333" stroke="#333" stroke-width="0.22" textLength="5.8" lengthAdjust="spacingAndGlyphs">10¹</text>
<text x="355.2" y="164.6" font-size="4.1" text-anchor="middle" font-weight="bold" fill="#333" stroke="#333" stroke-width="0.22" textLength="5.8" lengthAdjust="spacingAndGlyphs">10⁰</text>
<text x="379.1" y="185.3" font-size="4.1" text-anchor="middle" font-weight="bold" fill="#333" stroke="#333" stroke-width="0.22" textLength="5.8" lengthAdjust="spacingAndGlyphs">10⁰</text>
<text x="396.7" y="185.3" font-size="4.1" text-anchor="middle" font-weight="bold" fill="#333" stroke="#333" stroke-width="0.22" textLength="5.8" lengthAdjust="spacingAndGlyphs">10¹</text>
<text x="414.3" y="185.3" font-size="4.1" text-anchor="middle" font-weight="bold" fill="#333" stroke="#333" stroke-width="0.22" textLength="5.8" lengthAdjust="spacingAndGlyphs">10²</text>
<text x="429.4" y="185.3" font-size="4.1" text-anchor="middle" font-weight="bold" fill="#333" stroke="#333" stroke-width="0.22" textLength="5.8" lengthAdjust="spacingAndGlyphs">10³</text>
<text x="362.3" y="116.7" font-size="5.0" text-anchor="start" font-weight="bold" fill="#111" stroke="#111" stroke-width="0.22" textLength="6.2" lengthAdjust="spacingAndGlyphs">O1</text>
<text x="379.8" y="116.7" font-size="5.0" text-anchor="start" font-weight="bold" fill="#111" stroke="#111" stroke-width="0.22" textLength="6.2" lengthAdjust="spacingAndGlyphs">O2</text>
<rect x="362.0" y="161.1" width="7" height="5" fill="#fff"/>
<rect x="379.5" y="161.1" width="7" height="5" fill="#fff"/>
<text x="362.3" y="166.6" font-size="5.0" text-anchor="start" font-weight="bold" fill="#111" stroke="#111" stroke-width="0.22" textLength="6.2" lengthAdjust="spacingAndGlyphs">O3</text>
<text x="379.8" y="166.6" font-size="5.0" text-anchor="start" font-weight="bold" fill="#111" stroke="#111" stroke-width="0.22" textLength="6.2" lengthAdjust="spacingAndGlyphs">O4</text>
<text x="439.3" y="111.8" font-size="4.1" text-anchor="middle" font-weight="bold" fill="#333" stroke="#333" stroke-width="0.22" textLength="5.8" lengthAdjust="spacingAndGlyphs">10³</text>
<text x="439.3" y="129.4" font-size="4.1" text-anchor="middle" font-weight="bold" fill="#333" stroke="#333" stroke-width="0.22" textLength="5.8" lengthAdjust="spacingAndGlyphs">10²</text>
<text x="439.3" y="147.0" font-size="4.1" text-anchor="middle" font-weight="bold" fill="#333" stroke="#333" stroke-width="0.22" textLength="5.8" lengthAdjust="spacingAndGlyphs">10¹</text>
<text x="439.3" y="164.6" font-size="4.1" text-anchor="middle" font-weight="bold" fill="#333" stroke="#333" stroke-width="0.22" textLength="5.8" lengthAdjust="spacingAndGlyphs">10⁰</text>
<text x="463.20000000000005" y="185.3" font-size="4.1" text-anchor="middle" font-weight="bold" fill="#333" stroke="#333" stroke-width="0.22" textLength="5.8" lengthAdjust="spacingAndGlyphs">10⁰</text>
<text x="480.8" y="185.3" font-size="4.1" text-anchor="middle" font-weight="bold" fill="#333" stroke="#333" stroke-width="0.22" textLength="5.8" lengthAdjust="spacingAndGlyphs">10¹</text>
<text x="498.40000000000003" y="185.3" font-size="4.1" text-anchor="middle" font-weight="bold" fill="#333" stroke="#333" stroke-width="0.22" textLength="5.8" lengthAdjust="spacingAndGlyphs">10²</text>
<text x="513.5" y="185.3" font-size="4.1" text-anchor="middle" font-weight="bold" fill="#333" stroke="#333" stroke-width="0.22" textLength="5.8" lengthAdjust="spacingAndGlyphs">10³</text>
<text x="446.40000000000003" y="116.7" font-size="5.0" text-anchor="start" font-weight="bold" fill="#111" stroke="#111" stroke-width="0.22" textLength="6.2" lengthAdjust="spacingAndGlyphs">O1</text>
<text x="463.1" y="116.7" font-size="5.0" text-anchor="start" font-weight="bold" fill="#111" stroke="#111" stroke-width="0.22" textLength="6.2" lengthAdjust="spacingAndGlyphs">O2</text>
<rect x="446.1" y="161.1" width="7" height="5" fill="#fff"/>
<rect x="462.8" y="161.1" width="7" height="5" fill="#fff"/>
<text x="446.40000000000003" y="166.6" font-size="5.0" text-anchor="start" font-weight="bold" fill="#111" stroke="#111" stroke-width="0.22" textLength="6.2" lengthAdjust="spacingAndGlyphs">O3</text>
<text x="463.1" y="166.6" font-size="5.0" text-anchor="start" font-weight="bold" fill="#111" stroke="#111" stroke-width="0.22" textLength="6.2" lengthAdjust="spacingAndGlyphs">O4</text>
<text x="344.8" y="121.1" font-size="8.2" text-anchor="end" font-weight="bold" fill="#111" stroke="#111" stroke-width="0.22" textLength="10" lengthAdjust="spacingAndGlyphs">9%</text>
<text x="427.6" y="121.1" font-size="8.2" text-anchor="end" font-weight="bold" fill="#111" stroke="#111" stroke-width="0.22" textLength="15.4" lengthAdjust="spacingAndGlyphs">48%</text>
<text x="512.4" y="121.1" font-size="8.2" text-anchor="end" font-weight="bold" fill="#111" stroke="#111" stroke-width="0.22" textLength="17.6" lengthAdjust="spacingAndGlyphs">1.3%</text>
<text transform="translate(254.6,65.1) rotate(-90)" x="0" y="0" font-size="6.4" font-weight="bold" text-anchor="middle" fill="#111" stroke="#111" stroke-width="0.25" textLength="77" lengthAdjust="spacingAndGlyphs">Cell counts of CD161<tspan dy="-2.2" font-size="4.2">+</tspan><tspan dy="2.2"> on</tspan></text>
<text transform="translate(261.2,66.2) rotate(-90)" x="0" y="0" font-size="6.4" font-weight="bold" text-anchor="middle" fill="#111" stroke="#111" stroke-width="0.25" textLength="74.8" lengthAdjust="spacingAndGlyphs">CD107a<tspan dy="-2.2" font-size="4.2">+</tspan><tspan dy="2.2">CD3</tspan><tspan dy="-2.2" font-size="4.2">-</tspan><tspan dy="2.2">CD56</tspan><tspan dy="-2.2" font-size="4.2">+</tspan><tspan dy="2.2"> cells</tspan></text>
<text transform="translate(253.2,149.3) rotate(-90)" x="0" y="0" font-size="6.4" font-weight="bold" text-anchor="middle" fill="#111" stroke="#111" stroke-width="0.25" textLength="78.3" lengthAdjust="spacingAndGlyphs">CD107a<tspan dy="-2.2" font-size="4.2">+</tspan><tspan dy="2.2"> on unstimulated</tspan></text>
<text transform="translate(260.7,148.9) rotate(-90)" x="0" y="0" font-size="6.4" font-weight="bold" text-anchor="middle" fill="#111" stroke="#111" stroke-width="0.25" textLength="48.6" lengthAdjust="spacingAndGlyphs">CD3<tspan dy="-2.2" font-size="4.2">-</tspan><tspan dy="2.2">CD56</tspan><tspan dy="-2.2" font-size="4.2">+</tspan><tspan dy="2.2"> cells</tspan></text>
<text x="394.1" y="197.7" font-size="6.4" font-weight="bold" text-anchor="middle" fill="#111" stroke="#111" stroke-width="0.3" textLength="24.2" lengthAdjust="spacingAndGlyphs">CD161<tspan dy="-2.2" font-size="4.2">+</tspan></text>
<text x="392.7" y="205.5" font-size="6.6" font-weight="bold" text-anchor="middle" fill="#111" stroke="#111" stroke-width="0.25" textLength="113.2" lengthAdjust="spacingAndGlyphs">on unstimulated CD3<tspan dy="-2.2" font-size="4.2">-</tspan><tspan dy="2.2">CD56</tspan><tspan dy="-2.2" font-size="4.2">+</tspan><tspan dy="2.2"> cells</tspan></text>
<text x="0.6" y="241.4" font-size="14.5" text-anchor="start" font-weight="bold" fill="#111" stroke="#111" stroke-width="0.22">C</text>
<line x1="39" y1="250.3" x2="39" y2="374.9" stroke="#111" stroke-width="1.5"/>
<line x1="38.3" y1="374.6" x2="190.6" y2="374.6" stroke="#111" stroke-width="1.5"/>
<line x1="36.6" y1="374.2" x2="39" y2="374.2" stroke="#111" stroke-width="1.2"/>
<text x="36.6" y="376.09999999999997" font-size="5.3" text-anchor="end" font-weight="bold" fill="#1a1a1a" stroke="#1a1a1a" stroke-width="0.22" textLength="3.2" lengthAdjust="spacingAndGlyphs">0</text>
<line x1="37.8" y1="363.92" x2="39" y2="363.92" stroke="#111" stroke-width="1.0"/>
<line x1="36.6" y1="353.64" x2="39" y2="353.64" stroke="#111" stroke-width="1.2"/>
<text x="36.6" y="355.53999999999996" font-size="5.3" text-anchor="end" font-weight="bold" fill="#1a1a1a" stroke="#1a1a1a" stroke-width="0.22" textLength="3.2" lengthAdjust="spacingAndGlyphs">2</text>
<line x1="37.8" y1="343.36" x2="39" y2="343.36" stroke="#111" stroke-width="1.0"/>
<line x1="36.6" y1="333.08" x2="39" y2="333.08" stroke="#111" stroke-width="1.2"/>
<text x="36.6" y="334.97999999999996" font-size="5.3" text-anchor="end" font-weight="bold" fill="#1a1a1a" stroke="#1a1a1a" stroke-width="0.22" textLength="3.2" lengthAdjust="spacingAndGlyphs">4</text>
<line x1="37.8" y1="322.8" x2="39" y2="322.8" stroke="#111" stroke-width="1.0"/>
<line x1="36.6" y1="312.52" x2="39" y2="312.52" stroke="#111" stroke-width="1.2"/>
<text x="36.6" y="314.41999999999996" font-size="5.3" text-anchor="end" font-weight="bold" fill="#1a1a1a" stroke="#1a1a1a" stroke-width="0.22" textLength="3.2" lengthAdjust="spacingAndGlyphs">6</text>
<line x1="37.8" y1="302.24" x2="39" y2="302.24" stroke="#111" stroke-width="1.0"/>
<line x1="36.6" y1="291.96" x2="39" y2="291.96" stroke="#111" stroke-width="1.2"/>
<text x="36.6" y="293.85999999999996" font-size="5.3" text-anchor="end" font-weight="bold" fill="#1a1a1a" stroke="#1a1a1a" stroke-width="0.22" textLength="3.2" lengthAdjust="spacingAndGlyphs">8</text>
<line x1="37.8" y1="281.68" x2="39" y2="281.68" stroke="#111" stroke-width="1.0"/>
<line x1="36.6" y1="271.4" x2="39" y2="271.4" stroke="#111" stroke-width="1.2"/>
<text x="36.6" y="273.29999999999995" font-size="5.3" text-anchor="end" font-weight="bold" fill="#1a1a1a" stroke="#1a1a1a" stroke-width="0.22" textLength="6.4" lengthAdjust="spacingAndGlyphs">10</text>
<line x1="37.8" y1="261.12" x2="39" y2="261.12" stroke="#111" stroke-width="1.0"/>
<line x1="36.6" y1="250.84" x2="39" y2="250.84" stroke="#111" stroke-width="1.2"/>
<text x="36.6" y="252.74" font-size="5.3" text-anchor="end" font-weight="bold" fill="#1a1a1a" stroke="#1a1a1a" stroke-width="0.22" textLength="6.4" lengthAdjust="spacingAndGlyphs">12</text>
<line x1="64.7" y1="374.6" x2="64.7" y2="377" stroke="#111" stroke-width="1.1"/>
<line x1="114.8" y1="374.6" x2="114.8" y2="377" stroke="#111" stroke-width="1.1"/>
<line x1="165.2" y1="374.6" x2="165.2" y2="377" stroke="#111" stroke-width="1.1"/>
<line x1="64.7" y1="335.3" x2="64.7" y2="340.3" stroke="#111" stroke-width="1.15"/>
<line x1="64.7" y1="351" x2="64.7" y2="352.8" stroke="#111" stroke-width="1.15"/>
<line x1="55.95" y1="335.3" x2="73.45" y2="335.3" stroke="#111" stroke-width="1.3499999999999999"/>
<line x1="55.95" y1="352.8" x2="73.45" y2="352.8" stroke="#111" stroke-width="1.3499999999999999"/>
<rect x="47.800000000000004" y="340.3" width="33.8" height="10.699999999999989" fill="#fff" stroke="#111" stroke-width="1.15"/>
<line x1="47.800000000000004" y1="347.6" x2="81.6" y2="347.6" stroke="#111" stroke-width="1.45"/>
<line x1="114.7" y1="263.7" x2="114.7" y2="292" stroke="#111" stroke-width="1.15"/>
<line x1="114.7" y1="338" x2="114.7" y2="343.3" stroke="#111" stroke-width="1.15"/>
<line x1="106.2" y1="263.7" x2="123.2" y2="263.7" stroke="#111" stroke-width="1.3499999999999999"/>
<line x1="106.2" y1="343.3" x2="123.2" y2="343.3" stroke="#111" stroke-width="1.3499999999999999"/>
<rect x="97.65" y="292" width="34.1" height="46" fill="#fff" stroke="#111" stroke-width="1.15"/>
<line x1="97.65" y1="313.2" x2="131.75" y2="313.2" stroke="#111" stroke-width="1.45"/>
<line x1="165.1" y1="301.4" x2="165.1" y2="304.8" stroke="#111" stroke-width="1.15"/>
<line x1="165.1" y1="328.9" x2="165.1" y2="329.6" stroke="#111" stroke-width="1.15"/>
<line x1="156.85" y1="301.4" x2="173.35" y2="301.4" stroke="#111" stroke-width="1.3499999999999999"/>
<line x1="156.85" y1="329.6" x2="173.35" y2="329.6" stroke="#111" stroke-width="1.3499999999999999"/>
<rect x="148.0" y="304.8" width="34.2" height="24.099999999999966" fill="#fff" stroke="#111" stroke-width="1.15"/>
<line x1="148.0" y1="322.8" x2="182.2" y2="322.8" stroke="#111" stroke-width="1.45"/>
<text x="64.5" y="384" font-size="7.5" text-anchor="middle" font-weight="bold" fill="#111" stroke="#111" stroke-width="0.22">HIV</text>
<text x="114.9" y="384" font-size="7.5" text-anchor="middle" font-weight="bold" fill="#111" stroke="#111" stroke-width="0.22">EU</text>
<text x="165.1" y="384" font-size="7.5" text-anchor="middle" font-weight="bold" fill="#111" stroke="#111" stroke-width="0.22">C</text>
<line x1="63.3" y1="245.8" x2="164.3" y2="245.8" stroke="#6a6a6a" stroke-width="1.0"/>
<line x1="63.3" y1="245.3" x2="63.3" y2="247.8" stroke="#6a6a6a" stroke-width="1.0"/>
<line x1="164.3" y1="245.3" x2="164.3" y2="247.8" stroke="#6a6a6a" stroke-width="1.0"/>
<text x="114" y="243.6" font-size="6.4" text-anchor="middle" fill="#1a1a1a" stroke="#1a1a1a" stroke-width="0.12" textLength="15.9" lengthAdjust="spacingAndGlyphs"><tspan font-style="italic">P</tspan>&lt;.05</text>
<line x1="63.3" y1="257.8" x2="114.7" y2="257.8" stroke="#6a6a6a" stroke-width="1.0"/>
<line x1="63.3" y1="257.3" x2="63.3" y2="259.8" stroke="#6a6a6a" stroke-width="1.0"/>
<line x1="114.7" y1="257.3" x2="114.7" y2="259.8" stroke="#6a6a6a" stroke-width="1.0"/>
<text x="89.2" y="255.6" font-size="6.4" text-anchor="middle" fill="#1a1a1a" stroke="#1a1a1a" stroke-width="0.12" textLength="15.7" lengthAdjust="spacingAndGlyphs"><tspan font-style="italic">P</tspan>&lt;.05</text>
<text transform="translate(6.2,311.9) rotate(-90)" x="0" y="0" font-size="7.4" font-weight="bold" text-anchor="middle" fill="#111" stroke="#111" stroke-width="0.25" textLength="45.6" lengthAdjust="spacingAndGlyphs">mfi of CD161</text>
<text transform="translate(14.7,311.9) rotate(-90)" x="0" y="0" font-size="7.4" font-weight="bold" text-anchor="middle" fill="#111" stroke="#111" stroke-width="0.25" textLength="58.2" lengthAdjust="spacingAndGlyphs">on unstimulated</text>
<text transform="translate(24.8,312.9) rotate(-90)" x="0" y="0" font-size="7.4" font-weight="bold" text-anchor="middle" fill="#111" stroke="#111" stroke-width="0.25" textLength="91.7" lengthAdjust="spacingAndGlyphs">CD107a<tspan dy="-2.6" font-size="4.8">+</tspan><tspan dy="2.6">CD3</tspan><tspan dy="-2.6" font-size="4.8">-</tspan><tspan dy="2.6">CD56</tspan><tspan dy="-2.6" font-size="4.8">+</tspan><tspan dy="2.6"> cells</tspan></text>
<text x="270.3" y="241.4" font-size="14.5" text-anchor="start" font-weight="bold" fill="#111" stroke="#111" stroke-width="0.22">D</text>
<line x1="309.4" y1="250.8" x2="309.4" y2="375.2" stroke="#111" stroke-width="1.5"/>
<line x1="308.7" y1="374.9" x2="491.8" y2="374.9" stroke="#111" stroke-width="1.5"/>
<line x1="306.9" y1="374.6" x2="309.4" y2="374.6" stroke="#111" stroke-width="1.2"/>
<text x="306.9" y="376.5" font-size="5.3" text-anchor="end" font-weight="bold" fill="#1a1a1a" stroke="#1a1a1a" stroke-width="0.22" textLength="3.2" lengthAdjust="spacingAndGlyphs">0</text>
<line x1="308.1" y1="364.33000000000004" x2="309.4" y2="364.33000000000004" stroke="#111" stroke-width="1.0"/>
<line x1="306.9" y1="354.06" x2="309.4" y2="354.06" stroke="#111" stroke-width="1.2"/>
<text x="306.9" y="355.96" font-size="5.3" text-anchor="end" font-weight="bold" fill="#1a1a1a" stroke="#1a1a1a" stroke-width="0.22" textLength="3.2" lengthAdjust="spacingAndGlyphs">2</text>
<line x1="308.1" y1="343.79" x2="309.4" y2="343.79" stroke="#111" stroke-width="1.0"/>
<line x1="306.9" y1="333.52000000000004" x2="309.4" y2="333.52000000000004" stroke="#111" stroke-width="1.2"/>
<text x="306.9" y="335.42" font-size="5.3" text-anchor="end" font-weight="bold" fill="#1a1a1a" stroke="#1a1a1a" stroke-width="0.22" textLength="3.2" lengthAdjust="spacingAndGlyphs">4</text>
<line x1="308.1" y1="323.25" x2="309.4" y2="323.25" stroke="#111" stroke-width="1.0"/>
<line x1="306.9" y1="312.98" x2="309.4" y2="312.98" stroke="#111" stroke-width="1.2"/>
<text x="306.9" y="314.88" font-size="5.3" text-anchor="end" font-weight="bold" fill="#1a1a1a" stroke="#1a1a1a" stroke-width="0.22" textLength="3.2" lengthAdjust="spacingAndGlyphs">6</text>
<line x1="308.1" y1="302.71000000000004" x2="309.4" y2="302.71000000000004" stroke="#111" stroke-width="1.0"/>
<line x1="306.9" y1="292.44000000000005" x2="309.4" y2="292.44000000000005" stroke="#111" stroke-width="1.2"/>
<text x="306.9" y="294.34000000000003" font-size="5.3" text-anchor="end" font-weight="bold" fill="#1a1a1a" stroke="#1a1a1a" stroke-width="0.22" textLength="3.2" lengthAdjust="spacingAndGlyphs">8</text>
<line x1="308.1" y1="282.17" x2="309.4" y2="282.17" stroke="#111" stroke-width="1.0"/>
<line x1="306.9" y1="271.90000000000003" x2="309.4" y2="271.90000000000003" stroke="#111" stroke-width="1.2"/>
<text x="306.9" y="273.8" font-size="5.3" text-anchor="end" font-weight="bold" fill="#1a1a1a" stroke="#1a1a1a" stroke-width="0.22" textLength="6.4" lengthAdjust="spacingAndGlyphs">10</text>
<line x1="308.1" y1="261.63" x2="309.4" y2="261.63" stroke="#111" stroke-width="1.0"/>
<line x1="306.9" y1="251.36" x2="309.4" y2="251.36" stroke="#111" stroke-width="1.2"/>
<text x="306.9" y="253.26000000000002" font-size="5.3" text-anchor="end" font-weight="bold" fill="#1a1a1a" stroke="#1a1a1a" stroke-width="0.22" textLength="6.4" lengthAdjust="spacingAndGlyphs">12</text>
<line x1="324.4" y1="374.9" x2="324.4" y2="377.5" stroke="#111" stroke-width="1.1"/>
<line x1="352.6" y1="374.9" x2="352.6" y2="377.5" stroke="#111" stroke-width="1.1"/>
<line x1="381.3" y1="374.9" x2="381.3" y2="377.5" stroke="#111" stroke-width="1.1"/>
<line x1="409.8" y1="374.9" x2="409.8" y2="377.5" stroke="#111" stroke-width="1.1"/>
<line x1="448.3" y1="374.9" x2="448.3" y2="377.5" stroke="#111" stroke-width="1.1"/>
<line x1="477.3" y1="374.9" x2="477.3" y2="377.5" stroke="#111" stroke-width="1.1"/>
<line x1="324.3" y1="333.1" x2="324.3" y2="340.6" stroke="#111" stroke-width="1.15"/>
<line x1="324.3" y1="350.7" x2="324.3" y2="352" stroke="#111" stroke-width="1.15"/>
<line x1="319.55" y1="333.1" x2="329.05" y2="333.1" stroke="#111" stroke-width="1.3499999999999999"/>
<line x1="319.55" y1="352" x2="329.05" y2="352" stroke="#111" stroke-width="1.3499999999999999"/>
<rect x="314.55" y="340.6" width="19.5" height="10.099999999999966" fill="#8d8d8d" stroke="#111" stroke-width="1.15"/>
<line x1="314.55" y1="348.5" x2="334.05" y2="348.5" stroke="#111" stroke-width="1.45"/>
<line x1="352.5" y1="336.8" x2="352.5" y2="337.4" stroke="#111" stroke-width="1.15"/>
<line x1="352.5" y1="349.9" x2="352.5" y2="350.3" stroke="#111" stroke-width="1.15"/>
<line x1="347.75" y1="336.8" x2="357.25" y2="336.8" stroke="#111" stroke-width="1.3499999999999999"/>
<line x1="347.75" y1="350.3" x2="357.25" y2="350.3" stroke="#111" stroke-width="1.3499999999999999"/>
<rect x="342.75" y="337.4" width="19.5" height="12.5" fill="#fff" stroke="#111" stroke-width="1.15"/>
<line x1="342.75" y1="342.2" x2="362.25" y2="342.2" stroke="#111" stroke-width="1.45"/>
<line x1="381.2" y1="264.5" x2="381.2" y2="277.6" stroke="#111" stroke-width="1.15"/>
<line x1="381.2" y1="305.4" x2="381.2" y2="305.8" stroke="#111" stroke-width="1.15"/>
<line x1="376.34999999999997" y1="264.5" x2="386.05" y2="264.5" stroke="#111" stroke-width="1.3499999999999999"/>
<line x1="376.34999999999997" y1="305.8" x2="386.05" y2="305.8" stroke="#111" stroke-width="1.3499999999999999"/>
<rect x="371.45" y="277.6" width="19.5" height="27.799999999999955" fill="#8d8d8d" stroke="#111" stroke-width="1.15"/>
<line x1="371.45" y1="297.5" x2="390.95" y2="297.5" stroke="#111" stroke-width="1.45"/>
<line x1="409.9" y1="278.4" x2="409.9" y2="292.8" stroke="#111" stroke-width="1.15"/>
<line x1="409.9" y1="322.5" x2="409.9" y2="325.4" stroke="#111" stroke-width="1.15"/>
<line x1="404.9" y1="278.4" x2="414.9" y2="278.4" stroke="#111" stroke-width="1.3499999999999999"/>
<line x1="404.9" y1="325.4" x2="414.9" y2="325.4" stroke="#111" stroke-width="1.3499999999999999"/>
<rect x="400.15" y="292.8" width="19.5" height="29.69999999999999" fill="#fff" stroke="#111" stroke-width="1.15"/>
<line x1="400.15" y1="313.4" x2="419.65" y2="313.4" stroke="#111" stroke-width="1.45"/>
<line x1="448.3" y1="309.4" x2="448.3" y2="314.5" stroke="#111" stroke-width="1.15"/>
<line x1="448.3" y1="328.6" x2="448.3" y2="331.2" stroke="#111" stroke-width="1.15"/>
<line x1="443.65000000000003" y1="309.4" x2="452.95" y2="309.4" stroke="#111" stroke-width="1.3499999999999999"/>
<line x1="443.65000000000003" y1="331.2" x2="452.95" y2="331.2" stroke="#111" stroke-width="1.3499999999999999"/>
<rect x="438.55" y="314.5" width="19.5" height="14.100000000000023" fill="#8d8d8d" stroke="#111" stroke-width="1.15"/>
<line x1="438.55" y1="321.4" x2="458.05" y2="321.4" stroke="#111" stroke-width="1.45"/>
<line x1="477.3" y1="316.5" x2="477.3" y2="317.4" stroke="#111" stroke-width="1.15"/>
<line x1="477.3" y1="322.5" x2="477.3" y2="322.9" stroke="#111" stroke-width="1.15"/>
<line x1="472.65000000000003" y1="316.5" x2="481.95" y2="316.5" stroke="#111" stroke-width="1.3499999999999999"/>
<line x1="472.65000000000003" y1="322.9" x2="481.95" y2="322.9" stroke="#111" stroke-width="1.3499999999999999"/>
<rect x="467.55" y="317.4" width="19.5" height="5.100000000000023" fill="#fff" stroke="#111" stroke-width="1.15"/>
<line x1="467.55" y1="319.4" x2="487.05" y2="319.4" stroke="#111" stroke-width="1.45"/>
<text x="313.6" y="381.6" font-size="5.0" font-weight="bold" fill="#111" stroke="#111" stroke-width="0.15" textLength="18" lengthAdjust="spacingAndGlyphs">CD107a</text>
<text x="332.90000000000003" y="380" font-size="3.6" font-weight="bold" fill="#111">+</text>
<text x="342.5" y="381.6" font-size="5.0" font-weight="bold" fill="#111" stroke="#111" stroke-width="0.15" textLength="18" lengthAdjust="spacingAndGlyphs">CD107a</text>
<text x="361.8" y="380" font-size="3.6" font-weight="bold" fill="#111">-</text>
<text x="371.3" y="381.6" font-size="5.0" font-weight="bold" fill="#111" stroke="#111" stroke-width="0.15" textLength="18" lengthAdjust="spacingAndGlyphs">CD107a</text>
<text x="390.6" y="380" font-size="3.6" font-weight="bold" fill="#111">+</text>
<text x="399.8" y="381.6" font-size="5.0" font-weight="bold" fill="#111" stroke="#111" stroke-width="0.15" textLength="18" lengthAdjust="spacingAndGlyphs">CD107a</text>
<text x="419.1" y="380" font-size="3.6" font-weight="bold" fill="#111">-</text>
<text x="437.3" y="381.6" font-size="5.0" font-weight="bold" fill="#111" stroke="#111" stroke-width="0.15" textLength="18" lengthAdjust="spacingAndGlyphs">CD107a</text>
<text x="456.6" y="380" font-size="3.6" font-weight="bold" fill="#111">+</text>
<text x="466.5" y="381.6" font-size="5.0" font-weight="bold" fill="#111" stroke="#111" stroke-width="0.15" textLength="18" lengthAdjust="spacingAndGlyphs">CD107a</text>
<text x="485.8" y="380" font-size="3.6" font-weight="bold" fill="#111">-</text>
<line x1="317.7" y1="385.4" x2="353.8" y2="385.4" stroke="#111" stroke-width="1.2"/>
<text x="337.6" y="394.6" font-size="7.5" text-anchor="middle" font-weight="bold" fill="#111" stroke="#111" stroke-width="0.22">HIV</text>
<line x1="382" y1="385.4" x2="417" y2="385.4" stroke="#111" stroke-width="1.2"/>
<text x="400.5" y="394.6" font-size="7.5" text-anchor="middle" font-weight="bold" fill="#111" stroke="#111" stroke-width="0.22">EU</text>
<line x1="447.9" y1="385.4" x2="479.8" y2="385.4" stroke="#111" stroke-width="1.2"/>
<text x="464.8" y="394.6" font-size="7.5" text-anchor="middle" font-weight="bold" fill="#111" stroke="#111" stroke-width="0.22">C</text>
<line x1="353.3" y1="239.2" x2="478.5" y2="239.2" stroke="#6a6a6a" stroke-width="1.0"/>
<line x1="353.3" y1="238.7" x2="353.3" y2="241.2" stroke="#6a6a6a" stroke-width="1.0"/>
<line x1="478.5" y1="238.7" x2="478.5" y2="241.2" stroke="#6a6a6a" stroke-width="1.0"/>
<text x="415" y="237.0" font-size="6.4" text-anchor="middle" fill="#1a1a1a" stroke="#1a1a1a" stroke-width="0.12" textLength="16" lengthAdjust="spacingAndGlyphs"><tspan font-style="italic">P</tspan>&lt;.05</text>
<line x1="353.3" y1="246.1" x2="411" y2="246.1" stroke="#6a6a6a" stroke-width="1.0"/>
<line x1="353.3" y1="245.6" x2="353.3" y2="248.1" stroke="#6a6a6a" stroke-width="1.0"/>
<line x1="411" y1="245.6" x2="411" y2="248.1" stroke="#6a6a6a" stroke-width="1.0"/>
<text x="382.8" y="243.9" font-size="6.4" text-anchor="middle" fill="#1a1a1a" stroke="#1a1a1a" stroke-width="0.12" textLength="15.4" lengthAdjust="spacingAndGlyphs"><tspan font-style="italic">P</tspan>&lt;.01</text>
<line x1="321.2" y1="255" x2="381.4" y2="255" stroke="#6a6a6a" stroke-width="1.0"/>
<line x1="321.2" y1="254.5" x2="321.2" y2="257" stroke="#6a6a6a" stroke-width="1.0"/>
<line x1="381.4" y1="254.5" x2="381.4" y2="257" stroke="#6a6a6a" stroke-width="1.0"/>
<text x="356" y="252.8" font-size="6.4" text-anchor="middle" fill="#1a1a1a" stroke="#1a1a1a" stroke-width="0.12" textLength="19.1" lengthAdjust="spacingAndGlyphs"><tspan font-style="italic">P</tspan>&lt;.001</text>
<text transform="translate(276.7,313.3) rotate(-90)" x="0" y="0" font-size="7.4" font-weight="bold" text-anchor="middle" fill="#111" stroke="#111" stroke-width="0.25" textLength="46" lengthAdjust="spacingAndGlyphs">mfi of CD161</text>
<text transform="translate(286.5,312.7) rotate(-90)" x="0" y="0" font-size="7.4" font-weight="bold" text-anchor="middle" fill="#111" stroke="#111" stroke-width="0.25" textLength="113.1" lengthAdjust="spacingAndGlyphs">on K562  stimulated CD3<tspan dy="-2.6" font-size="4.8">-</tspan><tspan dy="2.6">CD56</tspan><tspan dy="-2.6" font-size="4.8">+</tspan><tspan dy="2.6"></tspan></text>
<text transform="translate(294.6,312.6) rotate(-90)" x="0" y="0" font-size="7.4" font-weight="bold" text-anchor="middle" fill="#111" stroke="#111" stroke-width="0.25" textLength="29.4" lengthAdjust="spacingAndGlyphs">NK cells</text>
</g></svg>
</body></html>
